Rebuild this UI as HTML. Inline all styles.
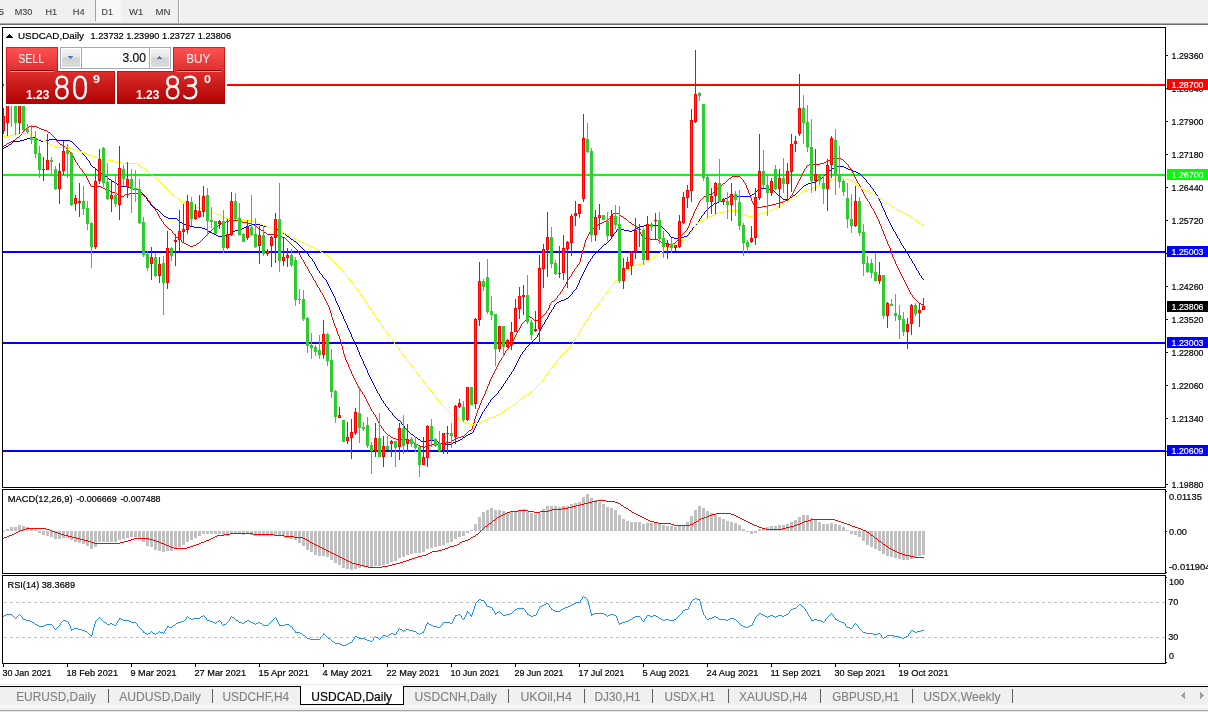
<!DOCTYPE html>
<html lang="en"><head><meta charset="utf-8"><title>USDCAD,Daily</title>
<style>
html,body{margin:0;padding:0;background:#fff;width:1208px;height:712px;overflow:hidden}
svg{display:block;font-family:"Liberation Sans","DejaVu Sans",sans-serif}
svg text{white-space:pre}
</style></head><body>
<svg width="1208" height="712" viewBox="0 0 1208 712" shape-rendering="crispEdges">
<defs><pattern id="dots" width="2" height="2" patternUnits="userSpaceOnUse"><rect width="2" height="2" fill="#f0f0f0"/><rect width="1" height="1" fill="#fff"/><rect x="1" y="1" width="1" height="1" fill="#fff"/></pattern></defs>
<rect x="0" y="0" width="1208" height="712" fill="#ffffff" />
<rect x="0" y="0" width="1208" height="23" fill="#f0f0f0" />
<rect x="0" y="23" width="1208" height="1" fill="#a8a8a8" />
<rect x="0" y="24" width="1208" height="1" fill="#6d6d6d" />
<rect x="96" y="0" width="25" height="22" fill="url(#dots)" />
<rect x="95" y="0" width="1" height="21" fill="#a0a0a0" />
<rect x="178" y="0" width="1" height="23" fill="#a0a0a0" />
<rect x="179" y="0" width="1" height="23" fill="#ffffff" />
<text x="-1.5" y="15" font-size="9.7" fill="#3c3c3c" textLength="5.5" lengthAdjust="spacingAndGlyphs"  stroke="#3c3c3c" stroke-width="0.1">5</text>
<text x="14.7" y="15" font-size="9.7" fill="#3c3c3c" textLength="17.6" lengthAdjust="spacingAndGlyphs"  stroke="#3c3c3c" stroke-width="0.1">M30</text>
<text x="45.5" y="15" font-size="9.7" fill="#3c3c3c" textLength="11.6" lengthAdjust="spacingAndGlyphs"  stroke="#3c3c3c" stroke-width="0.1">H1</text>
<text x="72.8" y="15" font-size="9.7" fill="#3c3c3c" textLength="11.9" lengthAdjust="spacingAndGlyphs"  stroke="#3c3c3c" stroke-width="0.1">H4</text>
<text x="101.5" y="15" font-size="9.7" fill="#3c3c3c" textLength="11.4" lengthAdjust="spacingAndGlyphs"  stroke="#3c3c3c" stroke-width="0.1">D1</text>
<text x="129" y="15" font-size="9.7" fill="#3c3c3c" textLength="14.2" lengthAdjust="spacingAndGlyphs"  stroke="#3c3c3c" stroke-width="0.1">W1</text>
<text x="155.6" y="15" font-size="9.7" fill="#3c3c3c" textLength="15" lengthAdjust="spacingAndGlyphs"  stroke="#3c3c3c" stroke-width="0.1">MN</text>
<rect x="2" y="27" width="1164" height="1" fill="#000" />
<rect x="2" y="487" width="1164" height="1" fill="#000" />
<rect x="2" y="27" width="1" height="461" fill="#000" />
<rect x="1165" y="27" width="1" height="461" fill="#000" />
<rect x="2" y="489" width="1164" height="1" fill="#000" />
<rect x="2" y="573" width="1164" height="1" fill="#000" />
<rect x="2" y="489" width="1" height="85" fill="#000" />
<rect x="1165" y="489" width="1" height="85" fill="#000" />
<rect x="2" y="575" width="1164" height="1" fill="#000" />
<rect x="2" y="663" width="1164" height="1" fill="#000" />
<rect x="2" y="575" width="1" height="89" fill="#000" />
<rect x="1165" y="575" width="1" height="89" fill="#000" />
<rect x="1166" y="55" width="2" height="1" fill="#000" />
<text x="1171.5" y="58.6" font-size="9.6" fill="#000" textLength="32" lengthAdjust="spacingAndGlyphs"  stroke="#000" stroke-width="0.2">1.29360</text>
<rect x="1166" y="88" width="2" height="1" fill="#000" />
<text x="1171.5" y="91.6" font-size="9.6" fill="#000" textLength="32" lengthAdjust="spacingAndGlyphs"  stroke="#000" stroke-width="0.2">1.28640</text>
<rect x="1166" y="121" width="2" height="1" fill="#000" />
<text x="1171.5" y="124.6" font-size="9.6" fill="#000" textLength="32" lengthAdjust="spacingAndGlyphs"  stroke="#000" stroke-width="0.2">1.27900</text>
<rect x="1166" y="154" width="2" height="1" fill="#000" />
<text x="1171.5" y="157.6" font-size="9.6" fill="#000" textLength="32" lengthAdjust="spacingAndGlyphs"  stroke="#000" stroke-width="0.2">1.27180</text>
<rect x="1166" y="187" width="2" height="1" fill="#000" />
<text x="1171.5" y="190.6" font-size="9.6" fill="#000" textLength="32" lengthAdjust="spacingAndGlyphs"  stroke="#000" stroke-width="0.2">1.26440</text>
<rect x="1166" y="220" width="2" height="1" fill="#000" />
<text x="1171.5" y="223.6" font-size="9.6" fill="#000" textLength="32" lengthAdjust="spacingAndGlyphs"  stroke="#000" stroke-width="0.2">1.25720</text>
<rect x="1166" y="253" width="2" height="1" fill="#000" />
<text x="1171.5" y="256.6" font-size="9.6" fill="#000" textLength="32" lengthAdjust="spacingAndGlyphs"  stroke="#000" stroke-width="0.2">1.24980</text>
<rect x="1166" y="286" width="2" height="1" fill="#000" />
<text x="1171.5" y="289.6" font-size="9.6" fill="#000" textLength="32" lengthAdjust="spacingAndGlyphs"  stroke="#000" stroke-width="0.2">1.24260</text>
<rect x="1166" y="319" width="2" height="1" fill="#000" />
<text x="1171.5" y="322.6" font-size="9.6" fill="#000" textLength="32" lengthAdjust="spacingAndGlyphs"  stroke="#000" stroke-width="0.2">1.23520</text>
<rect x="1166" y="352" width="2" height="1" fill="#000" />
<text x="1171.5" y="355.6" font-size="9.6" fill="#000" textLength="32" lengthAdjust="spacingAndGlyphs"  stroke="#000" stroke-width="0.2">1.22800</text>
<rect x="1166" y="385" width="2" height="1" fill="#000" />
<text x="1171.5" y="388.6" font-size="9.6" fill="#000" textLength="32" lengthAdjust="spacingAndGlyphs"  stroke="#000" stroke-width="0.2">1.22060</text>
<rect x="1166" y="418" width="2" height="1" fill="#000" />
<text x="1171.5" y="421.6" font-size="9.6" fill="#000" textLength="32" lengthAdjust="spacingAndGlyphs"  stroke="#000" stroke-width="0.2">1.21340</text>
<rect x="1166" y="451" width="2" height="1" fill="#000" />
<text x="1171.5" y="454.6" font-size="9.6" fill="#000" textLength="32" lengthAdjust="spacingAndGlyphs"  stroke="#000" stroke-width="0.2">1.20600</text>
<rect x="1166" y="484" width="2" height="1" fill="#000" />
<text x="1171.5" y="487.6" font-size="9.6" fill="#000" textLength="32" lengthAdjust="spacingAndGlyphs"  stroke="#000" stroke-width="0.2">1.19880</text>
<rect x="3" y="84" width="1162" height="2" fill="#ff0000" />
<rect x="1167" y="79" width="41" height="11" fill="#ff0000" />
<text x="1171.5" y="88" font-size="9.6" fill="#fff" textLength="32" lengthAdjust="spacingAndGlyphs"  stroke="#fff" stroke-width="0.2">1.28700</text>
<rect x="3" y="174" width="1162" height="2" fill="#00ff00" />
<rect x="1167" y="169" width="41" height="11" fill="#00ff00" />
<text x="1171.5" y="178" font-size="9.6" fill="#fff" textLength="32" lengthAdjust="spacingAndGlyphs"  stroke="#fff" stroke-width="0.2">1.26700</text>
<rect x="3" y="251" width="1162" height="2" fill="#0000ff" />
<rect x="1167" y="246" width="41" height="11" fill="#0000ff" />
<text x="1171.5" y="255" font-size="9.6" fill="#fff" textLength="32" lengthAdjust="spacingAndGlyphs"  stroke="#fff" stroke-width="0.2">1.25003</text>
<rect x="3" y="342" width="1162" height="2" fill="#0000ff" />
<rect x="1167" y="337" width="41" height="11" fill="#0000ff" />
<text x="1171.5" y="346" font-size="9.6" fill="#fff" textLength="32" lengthAdjust="spacingAndGlyphs"  stroke="#fff" stroke-width="0.2">1.23003</text>
<rect x="3" y="450" width="1162" height="2" fill="#0000ff" />
<rect x="1167" y="445" width="41" height="11" fill="#0000ff" />
<text x="1171.5" y="454" font-size="9.6" fill="#fff" textLength="32" lengthAdjust="spacingAndGlyphs"  stroke="#fff" stroke-width="0.2">1.20609</text>
<rect x="1167" y="301" width="41" height="11" fill="#000" />
<text x="1171.5" y="310" font-size="9.6" fill="#fff" textLength="32" lengthAdjust="spacingAndGlyphs"  stroke="#fff" stroke-width="0.2">1.23806</text>
<path d="M3 146h1v1h-1zM4 145h1v1h-1zM5 145h1v1h-1zM6 144h1v1h-1zM7 143h1v1h-1zM8 143h1v1h-1zM9 142h1v1h-1zM10 142h1v1h-1zM11 141h1v1h-1zM12 141h1v1h-1zM13 140h1v1h-1zM14 140h1v1h-1zM15 139h1v1h-1zM16 138h1v1h-1zM17 137h1v1h-1zM18 137h1v1h-1zM19 136h1v1h-1zM20 135h1v1h-1zM21 134h1v1h-1zM22 132h1v2h-1zM23 131h1v1h-1zM24 130h1v1h-1zM25 129h1v1h-1zM26 128h1v1h-1zM27 127h1v1h-1zM28 127h1v1h-1zM29 126h1v1h-1zM30 126h1v1h-1zM31 126h1v1h-1zM32 126h1v1h-1zM33 126h1v1h-1zM34 126h1v1h-1zM35 126h1v1h-1zM36 126h1v1h-1zM37 127h1v1h-1zM38 127h1v1h-1zM39 128h1v1h-1zM40 128h1v1h-1zM41 129h1v1h-1zM42 129h1v1h-1zM43 129h1v1h-1zM44 130h1v1h-1zM45 130h1v1h-1zM46 130h1v1h-1zM47 131h1v1h-1zM48 132h1v1h-1zM49 132h1v1h-1zM50 133h1v1h-1zM51 134h1v1h-1zM52 135h1v1h-1zM53 136h1v1h-1zM54 137h1v1h-1zM55 138h1v2h-1zM56 140h1v1h-1zM57 141h1v1h-1zM58 142h1v1h-1zM59 143h1v1h-1zM60 144h1v1h-1zM61 144h1v1h-1zM62 145h1v1h-1zM63 145h1v1h-1zM64 146h1v1h-1zM65 147h1v1h-1zM66 148h1v1h-1zM67 149h1v1h-1zM68 150h1v1h-1zM69 151h1v1h-1zM70 152h1v2h-1zM71 154h1v1h-1zM72 155h1v1h-1zM73 156h1v2h-1zM74 158h1v2h-1zM75 160h1v2h-1zM76 162h1v1h-1zM77 163h1v2h-1zM78 165h1v1h-1zM79 166h1v2h-1zM80 168h1v1h-1zM81 169h1v1h-1zM82 170h1v2h-1zM83 172h1v1h-1zM84 173h1v1h-1zM85 174h1v2h-1zM86 176h1v2h-1zM87 178h1v2h-1zM88 180h1v2h-1zM89 182h1v2h-1zM90 184h1v2h-1zM91 186h1v1h-1zM92 186h1v1h-1zM93 186h1v1h-1zM94 186h1v1h-1zM95 186h1v1h-1zM96 186h1v1h-1zM97 186h1v1h-1zM98 186h1v1h-1zM99 186h1v1h-1zM100 186h1v1h-1zM101 187h1v1h-1zM102 187h1v1h-1zM103 188h1v1h-1zM104 188h1v1h-1zM105 189h1v1h-1zM106 189h1v1h-1zM107 189h1v1h-1zM108 190h1v1h-1zM109 190h1v1h-1zM110 191h1v1h-1zM111 191h1v1h-1zM112 192h1v1h-1zM113 192h1v1h-1zM114 192h1v1h-1zM115 193h1v1h-1zM116 193h1v1h-1zM117 194h1v1h-1zM118 194h1v1h-1zM119 195h1v1h-1zM120 195h1v1h-1zM121 196h1v1h-1zM122 196h1v1h-1zM123 196h1v1h-1zM124 195h1v1h-1zM125 194h1v1h-1zM126 194h1v1h-1zM127 194h1v1h-1zM128 194h1v1h-1zM129 193h1v1h-1zM130 193h1v1h-1zM131 193h1v1h-1zM132 193h1v1h-1zM133 193h1v1h-1zM134 193h1v1h-1zM135 193h1v1h-1zM136 193h1v1h-1zM137 193h1v1h-1zM138 193h1v1h-1zM139 193h1v1h-1zM140 193h1v1h-1zM141 194h1v1h-1zM142 194h1v1h-1zM143 195h1v1h-1zM144 196h1v1h-1zM145 196h1v1h-1zM146 197h1v1h-1zM147 198h1v2h-1zM148 200h1v1h-1zM149 201h1v1h-1zM150 202h1v2h-1zM151 204h1v1h-1zM152 205h1v1h-1zM153 206h1v2h-1zM154 208h1v1h-1zM155 209h1v2h-1zM156 211h1v1h-1zM157 212h1v2h-1zM158 214h1v2h-1zM159 216h1v2h-1zM160 218h1v1h-1zM161 219h1v2h-1zM162 221h1v1h-1zM163 222h1v2h-1zM164 224h1v1h-1zM165 225h1v1h-1zM166 226h1v1h-1zM167 227h1v1h-1zM168 228h1v1h-1zM169 229h1v1h-1zM170 229h1v1h-1zM171 230h1v1h-1zM172 231h1v2h-1zM173 233h1v1h-1zM174 234h1v1h-1zM175 235h1v2h-1zM176 237h1v1h-1zM177 237h1v1h-1zM178 237h1v1h-1zM179 238h1v1h-1zM180 239h1v1h-1zM181 240h1v2h-1zM182 242h1v1h-1zM183 242h1v1h-1zM184 243h1v1h-1zM185 243h1v1h-1zM186 244h1v1h-1zM187 244h1v1h-1zM188 245h1v1h-1zM189 245h1v1h-1zM190 246h1v1h-1zM191 246h1v1h-1zM192 246h1v1h-1zM193 245h1v1h-1zM194 245h1v1h-1zM195 245h1v1h-1zM196 244h1v1h-1zM197 243h1v1h-1zM198 243h1v1h-1zM199 242h1v1h-1zM200 241h1v1h-1zM201 240h1v1h-1zM202 239h1v1h-1zM203 238h1v1h-1zM204 237h1v1h-1zM205 236h1v1h-1zM206 235h1v1h-1zM207 234h1v1h-1zM208 233h1v1h-1zM209 232h1v1h-1zM210 231h1v1h-1zM211 230h1v1h-1zM212 229h1v1h-1zM213 228h1v1h-1zM214 228h1v1h-1zM215 228h1v1h-1zM216 227h1v1h-1zM217 226h1v1h-1zM218 225h1v1h-1zM219 224h1v1h-1zM220 224h1v1h-1zM221 223h1v1h-1zM222 223h1v1h-1zM223 223h1v1h-1zM224 222h1v1h-1zM225 222h1v1h-1zM226 221h1v1h-1zM227 221h1v1h-1zM228 221h1v1h-1zM229 220h1v1h-1zM230 220h1v1h-1zM231 220h1v1h-1zM232 220h1v1h-1zM233 220h1v1h-1zM234 220h1v1h-1zM235 220h1v1h-1zM236 220h1v1h-1zM237 220h1v1h-1zM238 220h1v1h-1zM239 220h1v1h-1zM240 220h1v1h-1zM241 221h1v1h-1zM242 222h1v1h-1zM243 222h1v1h-1zM244 222h1v1h-1zM245 222h1v1h-1zM246 222h1v1h-1zM247 222h1v1h-1zM248 223h1v1h-1zM249 223h1v1h-1zM250 223h1v1h-1zM251 223h1v1h-1zM252 224h1v1h-1zM253 224h1v1h-1zM254 225h1v1h-1zM255 226h1v1h-1zM256 226h1v1h-1zM257 227h1v1h-1zM258 228h1v1h-1zM259 228h1v1h-1zM260 229h1v1h-1zM261 230h1v1h-1zM262 230h1v1h-1zM263 231h1v1h-1zM264 232h1v1h-1zM265 232h1v1h-1zM266 233h1v1h-1zM267 234h1v1h-1zM268 234h1v1h-1zM269 234h1v1h-1zM270 234h1v1h-1zM271 234h1v1h-1zM272 234h1v1h-1zM273 234h1v1h-1zM274 234h1v1h-1zM275 234h1v1h-1zM276 234h1v1h-1zM277 235h1v1h-1zM278 235h1v1h-1zM279 236h1v1h-1zM280 236h1v1h-1zM281 236h1v1h-1zM282 237h1v1h-1zM283 237h1v1h-1zM284 237h1v1h-1zM285 238h1v1h-1zM286 239h1v1h-1zM287 240h1v1h-1zM288 241h1v1h-1zM289 242h1v1h-1zM290 243h1v1h-1zM291 244h1v1h-1zM292 245h1v1h-1zM293 246h1v1h-1zM294 247h1v1h-1zM295 248h1v1h-1zM296 249h1v1h-1zM297 250h1v1h-1zM298 251h1v2h-1zM299 253h1v2h-1zM300 255h1v2h-1zM301 257h1v2h-1zM302 259h1v1h-1zM303 260h1v2h-1zM304 262h1v2h-1zM305 264h1v2h-1zM306 266h1v1h-1zM307 267h1v2h-1zM308 269h1v2h-1zM309 271h1v2h-1zM310 273h1v1h-1zM311 274h1v2h-1zM312 276h1v2h-1zM313 278h1v2h-1zM314 280h1v1h-1zM315 281h1v2h-1zM316 283h1v2h-1zM317 285h1v2h-1zM318 287h1v1h-1zM319 288h1v2h-1zM320 290h1v2h-1zM321 292h1v1h-1zM322 293h1v2h-1zM323 295h1v2h-1zM324 297h1v2h-1zM325 299h1v2h-1zM326 301h1v2h-1zM327 303h1v2h-1zM328 305h1v2h-1zM329 307h1v3h-1zM330 310h1v3h-1zM331 313h1v4h-1zM332 317h1v3h-1zM333 320h1v3h-1zM334 323h1v3h-1zM335 326h1v2h-1zM336 328h1v3h-1zM337 331h1v3h-1zM338 334h1v2h-1zM339 336h1v3h-1zM340 339h1v3h-1zM341 342h1v4h-1zM342 346h1v4h-1zM343 350h1v4h-1zM344 354h1v3h-1zM345 357h1v3h-1zM346 360h1v2h-1zM347 362h1v2h-1zM348 364h1v3h-1zM349 367h1v2h-1zM350 369h1v2h-1zM351 371h1v3h-1zM352 374h1v2h-1zM353 376h1v2h-1zM354 378h1v2h-1zM355 380h1v2h-1zM356 382h1v2h-1zM357 384h1v2h-1zM358 386h1v2h-1zM359 388h1v1h-1zM360 389h1v2h-1zM361 391h1v1h-1zM362 392h1v2h-1zM363 394h1v1h-1zM364 395h1v2h-1zM365 397h1v2h-1zM366 399h1v2h-1zM367 401h1v2h-1zM368 403h1v2h-1zM369 405h1v2h-1zM370 407h1v2h-1zM371 409h1v2h-1zM372 411h1v1h-1zM373 412h1v2h-1zM374 414h1v1h-1zM375 415h1v2h-1zM376 417h1v2h-1zM377 419h1v2h-1zM378 421h1v2h-1zM379 423h1v2h-1zM380 425h1v1h-1zM381 426h1v2h-1zM382 428h1v1h-1zM383 429h1v2h-1zM384 431h1v1h-1zM385 432h1v1h-1zM386 433h1v1h-1zM387 434h1v1h-1zM388 435h1v1h-1zM389 435h1v1h-1zM390 436h1v1h-1zM391 437h1v1h-1zM392 437h1v1h-1zM393 438h1v1h-1zM394 438h1v1h-1zM395 438h1v1h-1zM396 439h1v1h-1zM397 439h1v1h-1zM398 439h1v1h-1zM399 439h1v1h-1zM400 439h1v1h-1zM401 439h1v1h-1zM402 439h1v1h-1zM403 439h1v1h-1zM404 439h1v1h-1zM405 439h1v1h-1zM406 439h1v1h-1zM407 439h1v1h-1zM408 439h1v1h-1zM409 440h1v1h-1zM410 441h1v1h-1zM411 441h1v1h-1zM412 442h1v1h-1zM413 442h1v1h-1zM414 443h1v1h-1zM415 443h1v1h-1zM416 444h1v1h-1zM417 444h1v1h-1zM418 445h1v1h-1zM419 445h1v1h-1zM420 446h1v1h-1zM421 446h1v1h-1zM422 446h1v1h-1zM423 447h1v1h-1zM424 447h1v1h-1zM425 446h1v1h-1zM426 446h1v1h-1zM427 445h1v1h-1zM428 445h1v1h-1zM429 445h1v1h-1zM430 445h1v1h-1zM431 445h1v1h-1zM432 444h1v1h-1zM433 444h1v1h-1zM434 444h1v1h-1zM435 444h1v1h-1zM436 444h1v1h-1zM437 444h1v1h-1zM438 443h1v1h-1zM439 443h1v1h-1zM440 443h1v1h-1zM441 443h1v1h-1zM442 443h1v1h-1zM443 443h1v1h-1zM444 443h1v1h-1zM445 443h1v1h-1zM446 442h1v1h-1zM447 442h1v1h-1zM448 442h1v1h-1zM449 442h1v1h-1zM450 442h1v1h-1zM451 441h1v1h-1zM452 440h1v1h-1zM453 440h1v1h-1zM454 439h1v1h-1zM455 439h1v1h-1zM456 438h1v1h-1zM457 438h1v1h-1zM458 437h1v1h-1zM459 437h1v1h-1zM460 437h1v1h-1zM461 436h1v1h-1zM462 436h1v1h-1zM463 436h1v1h-1zM464 435h1v1h-1zM465 434h1v1h-1zM466 433h1v1h-1zM467 432h1v1h-1zM468 431h1v1h-1zM469 430h1v1h-1zM470 430h1v1h-1zM471 429h1v1h-1zM472 426h1v3h-1zM473 423h1v3h-1zM474 419h1v4h-1zM475 416h1v3h-1zM476 413h1v3h-1zM477 410h1v3h-1zM478 408h1v2h-1zM479 405h1v3h-1zM480 403h1v2h-1zM481 400h1v3h-1zM482 398h1v2h-1zM483 396h1v2h-1zM484 394h1v2h-1zM485 391h1v3h-1zM486 389h1v2h-1zM487 386h1v3h-1zM488 384h1v2h-1zM489 381h1v3h-1zM490 379h1v2h-1zM491 377h1v2h-1zM492 375h1v2h-1zM493 373h1v2h-1zM494 371h1v2h-1zM495 369h1v2h-1zM496 367h1v2h-1zM497 365h1v2h-1zM498 363h1v2h-1zM499 361h1v2h-1zM500 360h1v1h-1zM501 358h1v2h-1zM502 357h1v1h-1zM503 355h1v2h-1zM504 353h1v2h-1zM505 351h1v2h-1zM506 350h1v1h-1zM507 349h1v1h-1zM508 347h1v2h-1zM509 346h1v1h-1zM510 345h1v1h-1zM511 343h1v2h-1zM512 341h1v2h-1zM513 339h1v2h-1zM514 337h1v2h-1zM515 335h1v2h-1zM516 333h1v2h-1zM517 331h1v2h-1zM518 330h1v1h-1zM519 328h1v2h-1zM520 326h1v2h-1zM521 324h1v2h-1zM522 323h1v1h-1zM523 322h1v1h-1zM524 321h1v1h-1zM525 320h1v1h-1zM526 319h1v1h-1zM527 318h1v1h-1zM528 316h1v2h-1zM529 316h1v1h-1zM530 317h1v1h-1zM531 317h1v1h-1zM532 318h1v1h-1zM533 319h1v1h-1zM534 320h1v1h-1zM535 320h1v1h-1zM536 320h1v1h-1zM537 320h1v1h-1zM538 320h1v1h-1zM539 319h1v1h-1zM540 318h1v1h-1zM541 317h1v1h-1zM542 316h1v1h-1zM543 315h1v1h-1zM544 314h1v1h-1zM545 313h1v1h-1zM546 311h1v2h-1zM547 310h1v1h-1zM548 308h1v2h-1zM549 305h1v3h-1zM550 303h1v2h-1zM551 302h1v1h-1zM552 301h1v1h-1zM553 301h1v1h-1zM554 300h1v1h-1zM555 299h1v1h-1zM556 298h1v1h-1zM557 296h1v2h-1zM558 295h1v1h-1zM559 294h1v1h-1zM560 292h1v2h-1zM561 291h1v1h-1zM562 289h1v2h-1zM563 287h1v2h-1zM564 286h1v1h-1zM565 284h1v2h-1zM566 282h1v2h-1zM567 280h1v2h-1zM568 279h1v1h-1zM569 277h1v2h-1zM570 276h1v1h-1zM571 274h1v2h-1zM572 272h1v2h-1zM573 271h1v1h-1zM574 269h1v2h-1zM575 268h1v1h-1zM576 267h1v1h-1zM577 265h1v2h-1zM578 264h1v1h-1zM579 262h1v2h-1zM580 258h1v4h-1zM581 254h1v4h-1zM582 250h1v4h-1zM583 247h1v3h-1zM584 243h1v4h-1zM585 240h1v3h-1zM586 238h1v2h-1zM587 236h1v2h-1zM588 234h1v2h-1zM589 232h1v2h-1zM590 231h1v1h-1zM591 230h1v1h-1zM592 229h1v1h-1zM593 228h1v1h-1zM594 227h1v1h-1zM595 226h1v1h-1zM596 226h1v1h-1zM597 225h1v1h-1zM598 224h1v1h-1zM599 223h1v1h-1zM600 223h1v1h-1zM601 223h1v1h-1zM602 222h1v1h-1zM603 222h1v1h-1zM604 221h1v1h-1zM605 221h1v1h-1zM606 220h1v1h-1zM607 220h1v1h-1zM608 219h1v1h-1zM609 218h1v1h-1zM610 217h1v1h-1zM611 216h1v1h-1zM612 214h1v2h-1zM613 213h1v1h-1zM614 213h1v1h-1zM615 213h1v1h-1zM616 213h1v1h-1zM617 213h1v1h-1zM618 213h1v1h-1zM619 214h1v1h-1zM620 215h1v1h-1zM621 216h1v1h-1zM622 216h1v1h-1zM623 217h1v1h-1zM624 218h1v1h-1zM625 218h1v1h-1zM626 219h1v1h-1zM627 220h1v1h-1zM628 221h1v1h-1zM629 222h1v1h-1zM630 222h1v1h-1zM631 223h1v1h-1zM632 224h1v1h-1zM633 224h1v1h-1zM634 225h1v1h-1zM635 225h1v1h-1zM636 226h1v1h-1zM637 227h1v2h-1zM638 229h1v1h-1zM639 230h1v2h-1zM640 232h1v2h-1zM641 234h1v2h-1zM642 236h1v2h-1zM643 237h1v1h-1zM644 238h1v1h-1zM645 238h1v1h-1zM646 238h1v1h-1zM647 238h1v1h-1zM648 238h1v1h-1zM649 238h1v1h-1zM650 239h1v1h-1zM651 239h1v1h-1zM652 239h1v1h-1zM653 239h1v1h-1zM654 239h1v1h-1zM655 239h1v1h-1zM656 239h1v1h-1zM657 239h1v1h-1zM658 240h1v1h-1zM659 241h1v1h-1zM660 241h1v1h-1zM661 242h1v1h-1zM662 242h1v1h-1zM663 242h1v1h-1zM664 243h1v1h-1zM665 243h1v1h-1zM666 243h1v1h-1zM667 243h1v1h-1zM668 244h1v1h-1zM669 244h1v1h-1zM670 244h1v1h-1zM671 244h1v1h-1zM672 244h1v1h-1zM673 243h1v1h-1zM674 243h1v1h-1zM675 242h1v1h-1zM676 241h1v1h-1zM677 240h1v1h-1zM678 239h1v1h-1zM679 238h1v1h-1zM680 236h1v2h-1zM681 235h1v1h-1zM682 234h1v1h-1zM683 233h1v1h-1zM684 232h1v1h-1zM685 231h1v1h-1zM686 230h1v1h-1zM687 228h1v2h-1zM688 226h1v2h-1zM689 223h1v3h-1zM690 220h1v3h-1zM691 218h1v2h-1zM692 216h1v2h-1zM693 213h1v3h-1zM694 211h1v2h-1zM695 209h1v2h-1zM696 207h1v2h-1zM697 205h1v2h-1zM698 203h1v2h-1zM699 201h1v2h-1zM700 200h1v1h-1zM701 199h1v1h-1zM702 198h1v1h-1zM703 197h1v1h-1zM704 196h1v1h-1zM705 196h1v1h-1zM706 196h1v1h-1zM707 195h1v1h-1zM708 195h1v1h-1zM709 194h1v1h-1zM710 194h1v1h-1zM711 194h1v1h-1zM712 193h1v1h-1zM713 192h1v1h-1zM714 191h1v1h-1zM715 190h1v1h-1zM716 189h1v1h-1zM717 188h1v1h-1zM718 187h1v1h-1zM719 186h1v1h-1zM720 186h1v1h-1zM721 185h1v1h-1zM722 184h1v1h-1zM723 183h1v1h-1zM724 183h1v1h-1zM725 182h1v1h-1zM726 181h1v1h-1zM727 180h1v1h-1zM728 179h1v1h-1zM729 178h1v1h-1zM730 178h1v1h-1zM731 177h1v1h-1zM732 176h1v1h-1zM733 176h1v1h-1zM734 176h1v1h-1zM735 176h1v1h-1zM736 176h1v1h-1zM737 176h1v1h-1zM738 176h1v1h-1zM739 176h1v1h-1zM740 177h1v1h-1zM741 178h1v1h-1zM742 179h1v1h-1zM743 180h1v2h-1zM744 182h1v1h-1zM745 183h1v2h-1zM746 185h1v3h-1zM747 188h1v2h-1zM748 190h1v3h-1zM749 193h1v2h-1zM750 195h1v3h-1zM751 198h1v3h-1zM752 201h1v2h-1zM753 203h1v2h-1zM754 205h1v1h-1zM755 206h1v1h-1zM756 207h1v1h-1zM757 207h1v1h-1zM758 207h1v1h-1zM759 207h1v1h-1zM760 207h1v1h-1zM761 207h1v1h-1zM762 206h1v1h-1zM763 206h1v1h-1zM764 206h1v1h-1zM765 206h1v1h-1zM766 206h1v1h-1zM767 206h1v1h-1zM768 205h1v1h-1zM769 205h1v1h-1zM770 205h1v1h-1zM771 205h1v1h-1zM772 204h1v1h-1zM773 204h1v1h-1zM774 204h1v1h-1zM775 204h1v1h-1zM776 203h1v1h-1zM777 203h1v1h-1zM778 203h1v1h-1zM779 203h1v1h-1zM780 202h1v1h-1zM781 202h1v1h-1zM782 202h1v1h-1zM783 201h1v1h-1zM784 201h1v1h-1zM785 200h1v1h-1zM786 200h1v1h-1zM787 200h1v1h-1zM788 199h1v1h-1zM789 198h1v1h-1zM790 196h1v2h-1zM791 195h1v1h-1zM792 193h1v2h-1zM793 191h1v2h-1zM794 189h1v2h-1zM795 187h1v2h-1zM796 185h1v2h-1zM797 183h1v2h-1zM798 181h1v2h-1zM799 179h1v2h-1zM800 177h1v2h-1zM801 175h1v2h-1zM802 173h1v2h-1zM803 171h1v2h-1zM804 169h1v2h-1zM805 168h1v1h-1zM806 166h1v2h-1zM807 165h1v1h-1zM808 165h1v1h-1zM809 164h1v1h-1zM810 164h1v1h-1zM811 164h1v1h-1zM812 164h1v1h-1zM813 164h1v1h-1zM814 164h1v1h-1zM815 164h1v1h-1zM816 164h1v1h-1zM817 164h1v1h-1zM818 164h1v1h-1zM819 164h1v1h-1zM820 163h1v1h-1zM821 163h1v1h-1zM822 163h1v1h-1zM823 163h1v1h-1zM824 162h1v1h-1zM825 162h1v1h-1zM826 161h1v1h-1zM827 161h1v1h-1zM828 160h1v1h-1zM829 160h1v1h-1zM830 159h1v1h-1zM831 159h1v1h-1zM832 158h1v1h-1zM833 158h1v1h-1zM834 158h1v1h-1zM835 158h1v1h-1zM836 158h1v1h-1zM837 158h1v1h-1zM838 158h1v1h-1zM839 158h1v1h-1zM840 158h1v1h-1zM841 159h1v1h-1zM842 159h1v1h-1zM843 160h1v1h-1zM844 161h1v1h-1zM845 162h1v1h-1zM846 163h1v1h-1zM847 164h1v1h-1zM848 165h1v2h-1zM849 167h1v1h-1zM850 168h1v1h-1zM851 169h1v2h-1zM852 171h1v2h-1zM853 173h1v2h-1zM854 175h1v2h-1zM855 177h1v2h-1zM856 179h1v2h-1zM857 181h1v2h-1zM858 183h1v1h-1zM859 184h1v2h-1zM860 186h1v2h-1zM861 188h1v2h-1zM862 190h1v2h-1zM863 192h1v2h-1zM864 194h1v2h-1zM865 196h1v2h-1zM866 198h1v1h-1zM867 199h1v2h-1zM868 201h1v1h-1zM869 202h1v2h-1zM870 204h1v2h-1zM871 206h1v2h-1zM872 208h1v1h-1zM873 209h1v2h-1zM874 211h1v2h-1zM875 213h1v2h-1zM876 215h1v2h-1zM877 217h1v2h-1zM878 219h1v2h-1zM879 221h1v3h-1zM880 224h1v2h-1zM881 226h1v3h-1zM882 229h1v2h-1zM883 231h1v3h-1zM884 234h1v2h-1zM885 236h1v3h-1zM886 239h1v2h-1zM887 241h1v3h-1zM888 244h1v2h-1zM889 246h1v2h-1zM890 248h1v3h-1zM891 251h1v3h-1zM892 254h1v3h-1zM893 257h1v2h-1zM894 259h1v2h-1zM895 261h1v3h-1zM896 264h1v2h-1zM897 266h1v2h-1zM898 268h1v2h-1zM899 270h1v2h-1zM900 272h1v2h-1zM901 274h1v2h-1zM902 276h1v2h-1zM903 278h1v2h-1zM904 280h1v2h-1zM905 282h1v2h-1zM906 284h1v2h-1zM907 286h1v2h-1zM908 288h1v2h-1zM909 290h1v2h-1zM910 292h1v2h-1zM911 294h1v1h-1zM912 295h1v2h-1zM913 297h1v1h-1zM914 298h1v1h-1zM915 299h1v1h-1zM916 300h1v1h-1zM917 301h1v1h-1zM918 302h1v1h-1zM919 303h1v1h-1zM920 303h1v1h-1zM921 304h1v1h-1zM922 304h1v1h-1zM923 304h1v1h-1z" fill="#ff0000"/>
<path d="M3 148h1v1h-1zM4 147h1v1h-1zM5 147h1v1h-1zM6 146h1v1h-1zM7 146h1v1h-1zM8 145h1v1h-1zM9 144h1v1h-1zM10 144h1v1h-1zM11 143h1v1h-1zM12 142h1v1h-1zM13 141h1v1h-1zM14 141h1v1h-1zM15 141h1v1h-1zM16 141h1v1h-1zM17 141h1v1h-1zM18 141h1v1h-1zM19 141h1v1h-1zM20 140h1v1h-1zM21 140h1v1h-1zM22 140h1v1h-1zM23 140h1v1h-1zM24 139h1v1h-1zM25 139h1v1h-1zM26 139h1v1h-1zM27 138h1v1h-1zM28 138h1v1h-1zM29 138h1v1h-1zM30 137h1v1h-1zM31 137h1v1h-1zM32 137h1v1h-1zM33 137h1v1h-1zM34 137h1v1h-1zM35 138h1v1h-1zM36 138h1v1h-1zM37 139h1v1h-1zM38 139h1v1h-1zM39 140h1v1h-1zM40 140h1v1h-1zM41 141h1v1h-1zM42 141h1v1h-1zM43 141h1v1h-1zM44 141h1v1h-1zM45 141h1v1h-1zM46 140h1v1h-1zM47 140h1v1h-1zM48 140h1v1h-1zM49 139h1v1h-1zM50 139h1v1h-1zM51 139h1v1h-1zM52 139h1v1h-1zM53 139h1v1h-1zM54 139h1v1h-1zM55 139h1v1h-1zM56 139h1v1h-1zM57 140h1v1h-1zM58 140h1v1h-1zM59 140h1v1h-1zM60 140h1v1h-1zM61 140h1v1h-1zM62 140h1v1h-1zM63 140h1v1h-1zM64 140h1v1h-1zM65 140h1v1h-1zM66 140h1v1h-1zM67 140h1v1h-1zM68 140h1v1h-1zM69 140h1v1h-1zM70 141h1v1h-1zM71 141h1v1h-1zM72 142h1v1h-1zM73 143h1v1h-1zM74 144h1v1h-1zM75 145h1v1h-1zM76 146h1v1h-1zM77 147h1v1h-1zM78 148h1v1h-1zM79 149h1v1h-1zM80 150h1v1h-1zM81 151h1v1h-1zM82 152h1v2h-1zM83 154h1v1h-1zM84 155h1v1h-1zM85 156h1v1h-1zM86 157h1v2h-1zM87 159h1v1h-1zM88 160h1v1h-1zM89 161h1v2h-1zM90 163h1v2h-1zM91 165h1v1h-1zM92 166h1v1h-1zM93 167h1v1h-1zM94 167h1v1h-1zM95 168h1v1h-1zM96 169h1v1h-1zM97 170h1v1h-1zM98 170h1v1h-1zM99 171h1v1h-1zM100 172h1v1h-1zM101 173h1v1h-1zM102 173h1v1h-1zM103 174h1v1h-1zM104 175h1v1h-1zM105 176h1v1h-1zM106 176h1v1h-1zM107 177h1v1h-1zM108 178h1v1h-1zM109 179h1v1h-1zM110 179h1v1h-1zM111 180h1v1h-1zM112 181h1v1h-1zM113 181h1v1h-1zM114 182h1v1h-1zM115 183h1v1h-1zM116 183h1v1h-1zM117 184h1v1h-1zM118 184h1v1h-1zM119 184h1v1h-1zM120 185h1v1h-1zM121 186h1v1h-1zM122 186h1v1h-1zM123 186h1v1h-1zM124 186h1v1h-1zM125 186h1v1h-1zM126 186h1v1h-1zM127 187h1v1h-1zM128 187h1v1h-1zM129 187h1v1h-1zM130 188h1v1h-1zM131 188h1v1h-1zM132 188h1v1h-1zM133 189h1v1h-1zM134 189h1v1h-1zM135 189h1v1h-1zM136 189h1v1h-1zM137 189h1v1h-1zM138 189h1v1h-1zM139 190h1v1h-1zM140 191h1v1h-1zM141 192h1v1h-1zM142 193h1v1h-1zM143 194h1v1h-1zM144 195h1v1h-1zM145 196h1v1h-1zM146 197h1v2h-1zM147 199h1v2h-1zM148 201h1v1h-1zM149 202h1v1h-1zM150 203h1v2h-1zM151 205h1v1h-1zM152 206h1v1h-1zM153 207h1v1h-1zM154 207h1v1h-1zM155 208h1v1h-1zM156 209h1v1h-1zM157 209h1v1h-1zM158 210h1v1h-1zM159 211h1v1h-1zM160 212h1v1h-1zM161 213h1v1h-1zM162 214h1v1h-1zM163 215h1v1h-1zM164 216h1v1h-1zM165 216h1v1h-1zM166 217h1v1h-1zM167 217h1v1h-1zM168 218h1v1h-1zM169 218h1v1h-1zM170 218h1v1h-1zM171 218h1v1h-1zM172 218h1v1h-1zM173 218h1v1h-1zM174 218h1v1h-1zM175 218h1v1h-1zM176 218h1v1h-1zM177 219h1v1h-1zM178 220h1v1h-1zM179 221h1v1h-1zM180 222h1v1h-1zM181 222h1v1h-1zM182 223h1v1h-1zM183 224h1v1h-1zM184 224h1v1h-1zM185 224h1v1h-1zM186 225h1v1h-1zM187 225h1v1h-1zM188 225h1v1h-1zM189 225h1v1h-1zM190 226h1v1h-1zM191 226h1v1h-1zM192 226h1v1h-1zM193 226h1v1h-1zM194 227h1v1h-1zM195 227h1v1h-1zM196 227h1v1h-1zM197 227h1v1h-1zM198 227h1v1h-1zM199 227h1v1h-1zM200 227h1v1h-1zM201 227h1v1h-1zM202 228h1v1h-1zM203 228h1v1h-1zM204 228h1v1h-1zM205 229h1v1h-1zM206 229h1v1h-1zM207 230h1v1h-1zM208 231h1v1h-1zM209 231h1v1h-1zM210 232h1v1h-1zM211 232h1v1h-1zM212 233h1v1h-1zM213 233h1v1h-1zM214 234h1v1h-1zM215 234h1v1h-1zM216 235h1v1h-1zM217 235h1v1h-1zM218 236h1v1h-1zM219 236h1v1h-1zM220 236h1v1h-1zM221 236h1v1h-1zM222 236h1v1h-1zM223 236h1v1h-1zM224 235h1v1h-1zM225 235h1v1h-1zM226 235h1v1h-1zM227 234h1v1h-1zM228 234h1v1h-1zM229 234h1v1h-1zM230 233h1v1h-1zM231 233h1v1h-1zM232 232h1v1h-1zM233 231h1v1h-1zM234 231h1v1h-1zM235 230h1v1h-1zM236 230h1v1h-1zM237 230h1v1h-1zM238 229h1v1h-1zM239 229h1v1h-1zM240 229h1v1h-1zM241 229h1v1h-1zM242 228h1v1h-1zM243 228h1v1h-1zM244 227h1v1h-1zM245 227h1v1h-1zM246 226h1v1h-1zM247 226h1v1h-1zM248 226h1v1h-1zM249 225h1v1h-1zM250 225h1v1h-1zM251 225h1v1h-1zM252 224h1v1h-1zM253 224h1v1h-1zM254 224h1v1h-1zM255 224h1v1h-1zM256 224h1v1h-1zM257 224h1v1h-1zM258 224h1v1h-1zM259 224h1v1h-1zM260 225h1v1h-1zM261 225h1v1h-1zM262 225h1v1h-1zM263 225h1v1h-1zM264 226h1v1h-1zM265 226h1v1h-1zM266 226h1v1h-1zM267 226h1v1h-1zM268 227h1v1h-1zM269 227h1v1h-1zM270 227h1v1h-1zM271 228h1v1h-1zM272 228h1v1h-1zM273 228h1v1h-1zM274 229h1v1h-1zM275 229h1v1h-1zM276 229h1v1h-1zM277 229h1v1h-1zM278 230h1v1h-1zM279 230h1v1h-1zM280 231h1v1h-1zM281 231h1v1h-1zM282 232h1v1h-1zM283 233h1v1h-1zM284 233h1v1h-1zM285 234h1v1h-1zM286 235h1v1h-1zM287 236h1v1h-1zM288 236h1v1h-1zM289 237h1v1h-1zM290 238h1v1h-1zM291 239h1v1h-1zM292 239h1v1h-1zM293 240h1v1h-1zM294 241h1v1h-1zM295 241h1v1h-1zM296 242h1v1h-1zM297 243h1v1h-1zM298 244h1v1h-1zM299 245h1v1h-1zM300 246h1v1h-1zM301 247h1v1h-1zM302 248h1v1h-1zM303 249h1v1h-1zM304 250h1v1h-1zM305 251h1v1h-1zM306 252h1v1h-1zM307 253h1v1h-1zM308 254h1v2h-1zM309 256h1v1h-1zM310 257h1v1h-1zM311 258h1v1h-1zM312 259h1v2h-1zM313 261h1v1h-1zM314 262h1v2h-1zM315 264h1v2h-1zM316 266h1v2h-1zM317 268h1v2h-1zM318 270h1v1h-1zM319 271h1v2h-1zM320 273h1v1h-1zM321 274h1v1h-1zM322 275h1v2h-1zM323 277h1v1h-1zM324 278h1v1h-1zM325 279h1v1h-1zM326 280h1v2h-1zM327 282h1v2h-1zM328 284h1v2h-1zM329 286h1v2h-1zM330 288h1v2h-1zM331 290h1v2h-1zM332 292h1v2h-1zM333 294h1v2h-1zM334 296h1v2h-1zM335 298h1v3h-1zM336 301h1v2h-1zM337 303h1v2h-1zM338 305h1v2h-1zM339 307h1v3h-1zM340 310h1v2h-1zM341 312h1v2h-1zM342 314h1v2h-1zM343 316h1v3h-1zM344 319h1v2h-1zM345 321h1v2h-1zM346 323h1v2h-1zM347 325h1v3h-1zM348 328h1v2h-1zM349 330h1v2h-1zM350 332h1v2h-1zM351 334h1v3h-1zM352 337h1v2h-1zM353 339h1v2h-1zM354 341h1v2h-1zM355 343h1v2h-1zM356 345h1v2h-1zM357 347h1v3h-1zM358 350h1v2h-1zM359 352h1v3h-1zM360 355h1v2h-1zM361 357h1v2h-1zM362 359h1v2h-1zM363 361h1v3h-1zM364 364h1v2h-1zM365 366h1v2h-1zM366 368h1v2h-1zM367 370h1v3h-1zM368 373h1v2h-1zM369 375h1v2h-1zM370 377h1v2h-1zM371 379h1v2h-1zM372 381h1v2h-1zM373 383h1v2h-1zM374 385h1v2h-1zM375 387h1v2h-1zM376 389h1v2h-1zM377 391h1v2h-1zM378 393h1v1h-1zM379 394h1v2h-1zM380 396h1v2h-1zM381 398h1v2h-1zM382 400h1v1h-1zM383 401h1v2h-1zM384 403h1v1h-1zM385 404h1v2h-1zM386 406h1v1h-1zM387 407h1v1h-1zM388 408h1v2h-1zM389 410h1v1h-1zM390 411h1v1h-1zM391 412h1v1h-1zM392 413h1v2h-1zM393 415h1v1h-1zM394 416h1v1h-1zM395 417h1v1h-1zM396 418h1v1h-1zM397 419h1v1h-1zM398 420h1v1h-1zM399 420h1v1h-1zM400 421h1v1h-1zM401 422h1v2h-1zM402 424h1v1h-1zM403 425h1v1h-1zM404 426h1v2h-1zM405 428h1v1h-1zM406 429h1v1h-1zM407 430h1v1h-1zM408 431h1v1h-1zM409 432h1v1h-1zM410 433h1v1h-1zM411 434h1v1h-1zM412 434h1v1h-1zM413 435h1v1h-1zM414 436h1v1h-1zM415 437h1v1h-1zM416 437h1v1h-1zM417 438h1v1h-1zM418 439h1v1h-1zM419 439h1v1h-1zM420 440h1v1h-1zM421 441h1v1h-1zM422 441h1v1h-1zM423 441h1v1h-1zM424 441h1v1h-1zM425 441h1v1h-1zM426 440h1v1h-1zM427 440h1v1h-1zM428 440h1v1h-1zM429 440h1v1h-1zM430 440h1v1h-1zM431 440h1v1h-1zM432 440h1v1h-1zM433 440h1v1h-1zM434 440h1v1h-1zM435 440h1v1h-1zM436 441h1v1h-1zM437 441h1v1h-1zM438 442h1v1h-1zM439 442h1v1h-1zM440 443h1v1h-1zM441 443h1v1h-1zM442 443h1v1h-1zM443 444h1v1h-1zM444 444h1v1h-1zM445 444h1v1h-1zM446 444h1v1h-1zM447 444h1v1h-1zM448 444h1v1h-1zM449 444h1v1h-1zM450 444h1v1h-1zM451 443h1v1h-1zM452 443h1v1h-1zM453 442h1v1h-1zM454 442h1v1h-1zM455 442h1v1h-1zM456 441h1v1h-1zM457 441h1v1h-1zM458 440h1v1h-1zM459 440h1v1h-1zM460 439h1v1h-1zM461 439h1v1h-1zM462 438h1v1h-1zM463 437h1v1h-1zM464 437h1v1h-1zM465 436h1v1h-1zM466 435h1v1h-1zM467 435h1v1h-1zM468 434h1v1h-1zM469 434h1v1h-1zM470 433h1v1h-1zM471 433h1v1h-1zM472 432h1v1h-1zM473 430h1v2h-1zM474 428h1v2h-1zM475 426h1v2h-1zM476 424h1v2h-1zM477 422h1v2h-1zM478 420h1v2h-1zM479 418h1v2h-1zM480 416h1v2h-1zM481 414h1v2h-1zM482 412h1v2h-1zM483 411h1v1h-1zM484 409h1v2h-1zM485 408h1v1h-1zM486 406h1v2h-1zM487 405h1v1h-1zM488 403h1v2h-1zM489 402h1v1h-1zM490 400h1v2h-1zM491 399h1v1h-1zM492 398h1v1h-1zM493 397h1v1h-1zM494 396h1v1h-1zM495 395h1v1h-1zM496 394h1v1h-1zM497 393h1v1h-1zM498 391h1v2h-1zM499 390h1v1h-1zM500 389h1v1h-1zM501 387h1v2h-1zM502 386h1v1h-1zM503 384h1v2h-1zM504 383h1v1h-1zM505 381h1v2h-1zM506 380h1v1h-1zM507 378h1v2h-1zM508 377h1v1h-1zM509 375h1v2h-1zM510 374h1v1h-1zM511 372h1v2h-1zM512 371h1v1h-1zM513 369h1v2h-1zM514 367h1v2h-1zM515 365h1v2h-1zM516 363h1v2h-1zM517 361h1v2h-1zM518 359h1v2h-1zM519 357h1v2h-1zM520 355h1v2h-1zM521 354h1v1h-1zM522 352h1v2h-1zM523 351h1v1h-1zM524 350h1v1h-1zM525 348h1v2h-1zM526 347h1v1h-1zM527 346h1v1h-1zM528 345h1v1h-1zM529 344h1v1h-1zM530 343h1v1h-1zM531 342h1v1h-1zM532 341h1v1h-1zM533 340h1v1h-1zM534 339h1v1h-1zM535 338h1v1h-1zM536 337h1v1h-1zM537 335h1v2h-1zM538 333h1v2h-1zM539 331h1v2h-1zM540 329h1v2h-1zM541 327h1v2h-1zM542 325h1v2h-1zM543 324h1v1h-1zM544 322h1v2h-1zM545 320h1v2h-1zM546 319h1v1h-1zM547 317h1v2h-1zM548 315h1v2h-1zM549 313h1v2h-1zM550 312h1v1h-1zM551 310h1v2h-1zM552 309h1v1h-1zM553 307h1v2h-1zM554 305h1v2h-1zM555 304h1v1h-1zM556 303h1v1h-1zM557 302h1v1h-1zM558 302h1v1h-1zM559 301h1v1h-1zM560 301h1v1h-1zM561 300h1v1h-1zM562 300h1v1h-1zM563 300h1v1h-1zM564 299h1v1h-1zM565 299h1v1h-1zM566 298h1v1h-1zM567 298h1v1h-1zM568 297h1v1h-1zM569 296h1v1h-1zM570 295h1v1h-1zM571 294h1v1h-1zM572 292h1v2h-1zM573 291h1v1h-1zM574 290h1v1h-1zM575 289h1v1h-1zM576 287h1v2h-1zM577 285h1v2h-1zM578 283h1v2h-1zM579 280h1v3h-1zM580 278h1v2h-1zM581 276h1v2h-1zM582 274h1v2h-1zM583 272h1v2h-1zM584 270h1v2h-1zM585 268h1v2h-1zM586 266h1v2h-1zM587 264h1v2h-1zM588 262h1v2h-1zM589 261h1v1h-1zM590 259h1v2h-1zM591 258h1v1h-1zM592 256h1v2h-1zM593 255h1v1h-1zM594 254h1v1h-1zM595 253h1v1h-1zM596 252h1v1h-1zM597 251h1v1h-1zM598 250h1v1h-1zM599 249h1v1h-1zM600 248h1v1h-1zM601 247h1v1h-1zM602 246h1v1h-1zM603 245h1v1h-1zM604 244h1v1h-1zM605 244h1v1h-1zM606 243h1v1h-1zM607 242h1v1h-1zM608 241h1v1h-1zM609 240h1v1h-1zM610 239h1v1h-1zM611 237h1v2h-1zM612 236h1v1h-1zM613 234h1v2h-1zM614 233h1v1h-1zM615 232h1v1h-1zM616 230h1v2h-1zM617 229h1v1h-1zM618 229h1v1h-1zM619 229h1v1h-1zM620 229h1v1h-1zM621 229h1v1h-1zM622 229h1v1h-1zM623 229h1v1h-1zM624 230h1v1h-1zM625 230h1v1h-1zM626 230h1v1h-1zM627 230h1v1h-1zM628 230h1v1h-1zM629 231h1v1h-1zM630 231h1v1h-1zM631 231h1v1h-1zM632 230h1v1h-1zM633 230h1v1h-1zM634 229h1v1h-1zM635 229h1v1h-1zM636 228h1v1h-1zM637 228h1v1h-1zM638 227h1v1h-1zM639 227h1v1h-1zM640 226h1v1h-1zM641 226h1v1h-1zM642 226h1v1h-1zM643 226h1v1h-1zM644 225h1v1h-1zM645 225h1v1h-1zM646 225h1v1h-1zM647 225h1v1h-1zM648 225h1v1h-1zM649 225h1v1h-1zM650 225h1v1h-1zM651 225h1v1h-1zM652 225h1v1h-1zM653 225h1v1h-1zM654 225h1v1h-1zM655 225h1v1h-1zM656 225h1v1h-1zM657 225h1v1h-1zM658 225h1v1h-1zM659 225h1v1h-1zM660 226h1v1h-1zM661 226h1v1h-1zM662 227h1v1h-1zM663 228h1v1h-1zM664 229h1v1h-1zM665 230h1v1h-1zM666 231h1v1h-1zM667 232h1v1h-1zM668 233h1v1h-1zM669 234h1v2h-1zM670 236h1v1h-1zM671 237h1v1h-1zM672 237h1v1h-1zM673 237h1v1h-1zM674 238h1v1h-1zM675 238h1v1h-1zM676 238h1v1h-1zM677 238h1v1h-1zM678 238h1v1h-1zM679 238h1v1h-1zM680 238h1v1h-1zM681 237h1v1h-1zM682 237h1v1h-1zM683 237h1v1h-1zM684 236h1v1h-1zM685 236h1v1h-1zM686 236h1v1h-1zM687 235h1v1h-1zM688 234h1v1h-1zM689 232h1v2h-1zM690 231h1v1h-1zM691 230h1v1h-1zM692 228h1v2h-1zM693 227h1v1h-1zM694 226h1v1h-1zM695 225h1v1h-1zM696 223h1v2h-1zM697 222h1v1h-1zM698 221h1v1h-1zM699 219h1v2h-1zM700 218h1v1h-1zM701 216h1v2h-1zM702 215h1v1h-1zM703 214h1v1h-1zM704 212h1v2h-1zM705 211h1v1h-1zM706 210h1v1h-1zM707 209h1v1h-1zM708 208h1v1h-1zM709 207h1v1h-1zM710 206h1v1h-1zM711 205h1v1h-1zM712 205h1v1h-1zM713 204h1v1h-1zM714 203h1v1h-1zM715 203h1v1h-1zM716 203h1v1h-1zM717 202h1v1h-1zM718 202h1v1h-1zM719 201h1v1h-1zM720 201h1v1h-1zM721 201h1v1h-1zM722 200h1v1h-1zM723 200h1v1h-1zM724 199h1v1h-1zM725 198h1v1h-1zM726 198h1v1h-1zM727 197h1v1h-1zM728 197h1v1h-1zM729 196h1v1h-1zM730 196h1v1h-1zM731 196h1v1h-1zM732 196h1v1h-1zM733 196h1v1h-1zM734 196h1v1h-1zM735 196h1v1h-1zM736 196h1v1h-1zM737 196h1v1h-1zM738 196h1v1h-1zM739 196h1v1h-1zM740 196h1v1h-1zM741 196h1v1h-1zM742 196h1v1h-1zM743 196h1v1h-1zM744 196h1v1h-1zM745 196h1v1h-1zM746 196h1v1h-1zM747 196h1v1h-1zM748 196h1v1h-1zM749 196h1v1h-1zM750 195h1v1h-1zM751 195h1v1h-1zM752 194h1v1h-1zM753 194h1v1h-1zM754 193h1v1h-1zM755 192h1v1h-1zM756 191h1v1h-1zM757 190h1v1h-1zM758 189h1v1h-1zM759 189h1v1h-1zM760 188h1v1h-1zM761 188h1v1h-1zM762 188h1v1h-1zM763 188h1v1h-1zM764 188h1v1h-1zM765 188h1v1h-1zM766 188h1v1h-1zM767 188h1v1h-1zM768 188h1v1h-1zM769 189h1v1h-1zM770 189h1v1h-1zM771 190h1v1h-1zM772 190h1v1h-1zM773 190h1v1h-1zM774 191h1v1h-1zM775 192h1v1h-1zM776 193h1v1h-1zM777 194h1v1h-1zM778 195h1v1h-1zM779 196h1v1h-1zM780 196h1v1h-1zM781 197h1v1h-1zM782 198h1v1h-1zM783 199h1v1h-1zM784 199h1v1h-1zM785 199h1v1h-1zM786 199h1v1h-1zM787 199h1v1h-1zM788 199h1v1h-1zM789 198h1v1h-1zM790 197h1v1h-1zM791 197h1v1h-1zM792 196h1v1h-1zM793 195h1v1h-1zM794 195h1v1h-1zM795 194h1v1h-1zM796 193h1v1h-1zM797 192h1v1h-1zM798 191h1v1h-1zM799 190h1v1h-1zM800 189h1v1h-1zM801 188h1v1h-1zM802 187h1v1h-1zM803 186h1v1h-1zM804 185h1v1h-1zM805 185h1v1h-1zM806 184h1v1h-1zM807 184h1v1h-1zM808 183h1v1h-1zM809 183h1v1h-1zM810 183h1v1h-1zM811 183h1v1h-1zM812 182h1v1h-1zM813 182h1v1h-1zM814 182h1v1h-1zM815 181h1v1h-1zM816 181h1v1h-1zM817 180h1v1h-1zM818 180h1v1h-1zM819 179h1v1h-1zM820 179h1v1h-1zM821 178h1v1h-1zM822 177h1v1h-1zM823 176h1v1h-1zM824 175h1v1h-1zM825 174h1v1h-1zM826 173h1v1h-1zM827 172h1v1h-1zM828 171h1v1h-1zM829 170h1v1h-1zM830 170h1v1h-1zM831 169h1v1h-1zM832 168h1v1h-1zM833 168h1v1h-1zM834 167h1v1h-1zM835 166h1v1h-1zM836 166h1v1h-1zM837 166h1v1h-1zM838 166h1v1h-1zM839 166h1v1h-1zM840 166h1v1h-1zM841 166h1v1h-1zM842 166h1v1h-1zM843 166h1v1h-1zM844 167h1v1h-1zM845 167h1v1h-1zM846 168h1v1h-1zM847 168h1v1h-1zM848 169h1v1h-1zM849 169h1v1h-1zM850 169h1v1h-1zM851 170h1v1h-1zM852 170h1v1h-1zM853 171h1v1h-1zM854 171h1v1h-1zM855 171h1v1h-1zM856 172h1v1h-1zM857 172h1v1h-1zM858 173h1v1h-1zM859 173h1v1h-1zM860 174h1v1h-1zM861 175h1v1h-1zM862 176h1v1h-1zM863 177h1v1h-1zM864 178h1v1h-1zM865 179h1v1h-1zM866 180h1v2h-1zM867 182h1v1h-1zM868 183h1v1h-1zM869 184h1v1h-1zM870 185h1v2h-1zM871 187h1v1h-1zM872 188h1v1h-1zM873 189h1v2h-1zM874 191h1v1h-1zM875 192h1v2h-1zM876 194h1v1h-1zM877 195h1v2h-1zM878 197h1v2h-1zM879 199h1v2h-1zM880 201h1v2h-1zM881 203h1v3h-1zM882 206h1v2h-1zM883 208h1v2h-1zM884 210h1v2h-1zM885 212h1v3h-1zM886 215h1v2h-1zM887 217h1v2h-1zM888 219h1v2h-1zM889 221h1v2h-1zM890 223h1v2h-1zM891 225h1v2h-1zM892 227h1v2h-1zM893 229h1v2h-1zM894 231h1v1h-1zM895 232h1v2h-1zM896 234h1v2h-1zM897 236h1v2h-1zM898 238h1v1h-1zM899 239h1v2h-1zM900 241h1v2h-1zM901 243h1v2h-1zM902 245h1v1h-1zM903 246h1v2h-1zM904 248h1v1h-1zM905 249h1v2h-1zM906 251h1v1h-1zM907 252h1v2h-1zM908 254h1v2h-1zM909 256h1v2h-1zM910 258h1v1h-1zM911 259h1v2h-1zM912 261h1v2h-1zM913 263h1v1h-1zM914 264h1v2h-1zM915 266h1v2h-1zM916 268h1v2h-1zM917 270h1v1h-1zM918 271h1v2h-1zM919 273h1v2h-1zM920 275h1v1h-1zM921 276h1v2h-1zM922 278h1v1h-1zM923 279h1v1h-1z" fill="#0000ff"/>
<path d="M3 136h1v1h-1zM4 136h1v1h-1zM5 136h1v1h-1zM6 136h1v1h-1zM7 136h1v1h-1zM8 136h1v1h-1zM9 136h1v1h-1zM10 135h1v1h-1zM11 135h1v1h-1zM12 135h1v1h-1zM13 134h1v1h-1zM14 134h1v1h-1zM15 134h1v1h-1zM16 133h1v1h-1zM17 133h1v1h-1zM18 133h1v1h-1zM19 133h1v1h-1zM20 133h1v1h-1zM21 133h1v1h-1zM22 133h1v1h-1zM23 133h1v1h-1zM24 133h1v1h-1zM25 133h1v1h-1zM26 133h1v1h-1zM27 133h1v1h-1zM28 133h1v1h-1zM29 134h1v1h-1zM30 134h1v1h-1zM31 135h1v1h-1zM32 135h1v1h-1zM33 136h1v1h-1zM34 136h1v1h-1zM35 137h1v1h-1zM36 138h1v1h-1zM37 138h1v1h-1zM38 139h1v1h-1zM39 139h1v1h-1zM40 139h1v1h-1zM41 140h1v1h-1zM42 140h1v1h-1zM43 141h1v1h-1zM44 141h1v1h-1zM45 141h1v1h-1zM46 142h1v1h-1zM47 142h1v1h-1zM48 143h1v1h-1zM49 143h1v1h-1zM50 144h1v1h-1zM51 144h1v1h-1zM52 145h1v1h-1zM53 145h1v1h-1zM54 146h1v1h-1zM55 146h1v1h-1zM56 146h1v1h-1zM57 147h1v1h-1zM58 147h1v1h-1zM59 147h1v1h-1zM60 147h1v1h-1zM61 147h1v1h-1zM62 147h1v1h-1zM63 147h1v1h-1zM64 147h1v1h-1zM65 147h1v1h-1zM66 147h1v1h-1zM67 148h1v1h-1zM68 148h1v1h-1zM69 148h1v1h-1zM70 148h1v1h-1zM71 148h1v1h-1zM72 149h1v1h-1zM73 149h1v1h-1zM74 149h1v1h-1zM75 149h1v1h-1zM76 150h1v1h-1zM77 150h1v1h-1zM78 150h1v1h-1zM79 150h1v1h-1zM80 151h1v1h-1zM81 151h1v1h-1zM82 152h1v1h-1zM83 152h1v1h-1zM84 152h1v1h-1zM85 153h1v1h-1zM86 153h1v1h-1zM87 154h1v1h-1zM88 154h1v1h-1zM89 154h1v1h-1zM90 155h1v1h-1zM91 155h1v1h-1zM92 156h1v1h-1zM93 156h1v1h-1zM94 156h1v1h-1zM95 157h1v1h-1zM96 157h1v1h-1zM97 157h1v1h-1zM98 157h1v1h-1zM99 158h1v1h-1zM100 158h1v1h-1zM101 158h1v1h-1zM102 158h1v1h-1zM103 158h1v1h-1zM104 159h1v1h-1zM105 159h1v1h-1zM106 159h1v1h-1zM107 159h1v1h-1zM108 160h1v1h-1zM109 160h1v1h-1zM110 160h1v1h-1zM111 160h1v1h-1zM112 160h1v1h-1zM113 161h1v1h-1zM114 161h1v1h-1zM115 162h1v1h-1zM116 162h1v1h-1zM117 162h1v1h-1zM118 162h1v1h-1zM119 162h1v1h-1zM120 162h1v1h-1zM121 162h1v1h-1zM122 163h1v1h-1zM123 163h1v1h-1zM124 163h1v1h-1zM125 163h1v1h-1zM126 163h1v1h-1zM127 163h1v1h-1zM128 163h1v1h-1zM129 163h1v1h-1zM130 163h1v1h-1zM131 163h1v1h-1zM132 163h1v1h-1zM133 163h1v1h-1zM134 163h1v1h-1zM135 163h1v1h-1zM136 163h1v1h-1zM137 164h1v1h-1zM138 164h1v1h-1zM139 165h1v1h-1zM140 166h1v1h-1zM141 166h1v1h-1zM142 167h1v1h-1zM143 168h1v1h-1zM144 168h1v1h-1zM145 169h1v1h-1zM146 170h1v1h-1zM147 171h1v1h-1zM148 171h1v1h-1zM149 172h1v1h-1zM150 173h1v1h-1zM151 174h1v1h-1zM152 175h1v1h-1zM153 176h1v1h-1zM154 177h1v1h-1zM155 178h1v1h-1zM156 178h1v1h-1zM157 179h1v1h-1zM158 180h1v1h-1zM159 181h1v1h-1zM160 182h1v1h-1zM161 183h1v1h-1zM162 184h1v1h-1zM163 185h1v1h-1zM164 186h1v1h-1zM165 187h1v1h-1zM166 188h1v1h-1zM167 189h1v1h-1zM168 190h1v1h-1zM169 191h1v1h-1zM170 192h1v1h-1zM171 193h1v1h-1zM172 194h1v1h-1zM173 195h1v1h-1zM174 195h1v1h-1zM175 196h1v1h-1zM176 197h1v1h-1zM177 198h1v1h-1zM178 198h1v1h-1zM179 199h1v1h-1zM180 200h1v1h-1zM181 201h1v1h-1zM182 202h1v1h-1zM183 202h1v1h-1zM184 202h1v1h-1zM185 202h1v1h-1zM186 202h1v1h-1zM187 203h1v1h-1zM188 203h1v1h-1zM189 203h1v1h-1zM190 204h1v1h-1zM191 204h1v1h-1zM192 205h1v1h-1zM193 205h1v1h-1zM194 206h1v1h-1zM195 206h1v1h-1zM196 207h1v1h-1zM197 207h1v1h-1zM198 207h1v1h-1zM199 208h1v1h-1zM200 208h1v1h-1zM201 208h1v1h-1zM202 209h1v1h-1zM203 209h1v1h-1zM204 209h1v1h-1zM205 210h1v1h-1zM206 210h1v1h-1zM207 210h1v1h-1zM208 211h1v1h-1zM209 211h1v1h-1zM210 211h1v1h-1zM211 212h1v1h-1zM212 212h1v1h-1zM213 212h1v1h-1zM214 213h1v1h-1zM215 213h1v1h-1zM216 213h1v1h-1zM217 214h1v1h-1zM218 214h1v1h-1zM219 214h1v1h-1zM220 215h1v1h-1zM221 215h1v1h-1zM222 216h1v1h-1zM223 216h1v1h-1zM224 217h1v1h-1zM225 217h1v1h-1zM226 218h1v1h-1zM227 218h1v1h-1zM228 218h1v1h-1zM229 218h1v1h-1zM230 219h1v1h-1zM231 219h1v1h-1zM232 219h1v1h-1zM233 219h1v1h-1zM234 219h1v1h-1zM235 219h1v1h-1zM236 219h1v1h-1zM237 219h1v1h-1zM238 220h1v1h-1zM239 220h1v1h-1zM240 220h1v1h-1zM241 220h1v1h-1zM242 220h1v1h-1zM243 220h1v1h-1zM244 220h1v1h-1zM245 220h1v1h-1zM246 220h1v1h-1zM247 220h1v1h-1zM248 220h1v1h-1zM249 220h1v1h-1zM250 220h1v1h-1zM251 220h1v1h-1zM252 220h1v1h-1zM253 221h1v1h-1zM254 221h1v1h-1zM255 221h1v1h-1zM256 222h1v1h-1zM257 222h1v1h-1zM258 223h1v1h-1zM259 223h1v1h-1zM260 223h1v1h-1zM261 224h1v1h-1zM262 224h1v1h-1zM263 225h1v1h-1zM264 225h1v1h-1zM265 225h1v1h-1zM266 226h1v1h-1zM267 226h1v1h-1zM268 227h1v1h-1zM269 227h1v1h-1zM270 227h1v1h-1zM271 228h1v1h-1zM272 228h1v1h-1zM273 228h1v1h-1zM274 229h1v1h-1zM275 229h1v1h-1zM276 229h1v1h-1zM277 230h1v1h-1zM278 230h1v1h-1zM279 230h1v1h-1zM280 231h1v1h-1zM281 231h1v1h-1zM282 232h1v1h-1zM283 232h1v1h-1zM284 233h1v1h-1zM285 233h1v1h-1zM286 234h1v1h-1zM287 234h1v1h-1zM288 234h1v1h-1zM289 235h1v1h-1zM290 235h1v1h-1zM291 236h1v1h-1zM292 237h1v1h-1zM293 237h1v1h-1zM294 238h1v1h-1zM295 238h1v1h-1zM296 239h1v1h-1zM297 240h1v1h-1zM298 240h1v1h-1zM299 241h1v1h-1zM300 241h1v1h-1zM301 242h1v1h-1zM302 242h1v1h-1zM303 242h1v1h-1zM304 243h1v1h-1zM305 243h1v1h-1zM306 244h1v1h-1zM307 244h1v1h-1zM308 245h1v1h-1zM309 245h1v1h-1zM310 246h1v1h-1zM311 246h1v1h-1zM312 247h1v1h-1zM313 247h1v1h-1zM314 248h1v1h-1zM315 248h1v1h-1zM316 249h1v1h-1zM317 249h1v1h-1zM318 250h1v1h-1zM319 250h1v1h-1zM320 251h1v1h-1zM321 252h1v1h-1zM322 252h1v1h-1zM323 253h1v1h-1zM324 253h1v1h-1zM325 254h1v1h-1zM326 254h1v1h-1zM327 255h1v1h-1zM328 256h1v1h-1zM329 257h1v1h-1zM330 258h1v1h-1zM331 259h1v1h-1zM332 260h1v1h-1zM333 261h1v1h-1zM334 262h1v1h-1zM335 263h1v1h-1zM336 264h1v1h-1zM337 265h1v1h-1zM338 266h1v1h-1zM339 267h1v1h-1zM340 268h1v1h-1zM341 269h1v1h-1zM342 270h1v2h-1zM343 272h1v1h-1zM344 273h1v1h-1zM345 274h1v1h-1zM346 275h1v1h-1zM347 276h1v1h-1zM348 277h1v2h-1zM349 279h1v1h-1zM350 280h1v1h-1zM351 281h1v1h-1zM352 282h1v2h-1zM353 284h1v1h-1zM354 285h1v1h-1zM355 286h1v2h-1zM356 288h1v1h-1zM357 289h1v1h-1zM358 290h1v2h-1zM359 292h1v1h-1zM360 293h1v2h-1zM361 295h1v1h-1zM362 296h1v2h-1zM363 298h1v1h-1zM364 299h1v2h-1zM365 301h1v1h-1zM366 302h1v2h-1zM367 304h1v1h-1zM368 305h1v2h-1zM369 307h1v1h-1zM370 308h1v2h-1zM371 310h1v1h-1zM372 311h1v2h-1zM373 313h1v1h-1zM374 314h1v2h-1zM375 316h1v1h-1zM376 317h1v2h-1zM377 319h1v1h-1zM378 320h1v2h-1zM379 322h1v1h-1zM380 323h1v1h-1zM381 324h1v2h-1zM382 326h1v1h-1zM383 327h1v2h-1zM384 329h1v1h-1zM385 330h1v1h-1zM386 331h1v2h-1zM387 333h1v1h-1zM388 334h1v2h-1zM389 336h1v1h-1zM390 337h1v1h-1zM391 338h1v1h-1zM392 339h1v2h-1zM393 341h1v1h-1zM394 342h1v2h-1zM395 344h1v1h-1zM396 345h1v1h-1zM397 346h1v2h-1zM398 348h1v1h-1zM399 349h1v2h-1zM400 351h1v1h-1zM401 352h1v2h-1zM402 354h1v1h-1zM403 355h1v1h-1zM404 356h1v2h-1zM405 358h1v1h-1zM406 359h1v1h-1zM407 360h1v1h-1zM408 361h1v1h-1zM409 362h1v2h-1zM410 364h1v1h-1zM411 365h1v1h-1zM412 366h1v1h-1zM413 367h1v2h-1zM414 369h1v1h-1zM415 370h1v1h-1zM416 371h1v2h-1zM417 373h1v1h-1zM418 374h1v1h-1zM419 375h1v2h-1zM420 377h1v1h-1zM421 378h1v2h-1zM422 380h1v1h-1zM423 381h1v1h-1zM424 382h1v2h-1zM425 384h1v1h-1zM426 385h1v1h-1zM427 386h1v1h-1zM428 387h1v2h-1zM429 389h1v1h-1zM430 390h1v1h-1zM431 391h1v1h-1zM432 392h1v2h-1zM433 394h1v1h-1zM434 395h1v1h-1zM435 396h1v1h-1zM436 397h1v2h-1zM437 399h1v1h-1zM438 400h1v1h-1zM439 401h1v1h-1zM440 402h1v2h-1zM441 404h1v1h-1zM442 405h1v1h-1zM443 406h1v1h-1zM444 407h1v1h-1zM445 408h1v1h-1zM446 409h1v1h-1zM447 410h1v1h-1zM448 411h1v1h-1zM449 412h1v1h-1zM450 413h1v1h-1zM451 414h1v1h-1zM452 415h1v1h-1zM453 415h1v1h-1zM454 416h1v1h-1zM455 417h1v1h-1zM456 417h1v1h-1zM457 418h1v1h-1zM458 418h1v1h-1zM459 419h1v1h-1zM460 420h1v1h-1zM461 420h1v1h-1zM462 421h1v1h-1zM463 421h1v1h-1zM464 422h1v1h-1zM465 422h1v1h-1zM466 422h1v1h-1zM467 423h1v1h-1zM468 423h1v1h-1zM469 423h1v1h-1zM470 424h1v1h-1zM471 424h1v1h-1zM472 424h1v1h-1zM473 424h1v1h-1zM474 424h1v1h-1zM475 423h1v1h-1zM476 423h1v1h-1zM477 423h1v1h-1zM478 422h1v1h-1zM479 422h1v1h-1zM480 422h1v1h-1zM481 422h1v1h-1zM482 421h1v1h-1zM483 421h1v1h-1zM484 420h1v1h-1zM485 420h1v1h-1zM486 419h1v1h-1zM487 419h1v1h-1zM488 418h1v1h-1zM489 418h1v1h-1zM490 417h1v1h-1zM491 417h1v1h-1zM492 417h1v1h-1zM493 417h1v1h-1zM494 416h1v1h-1zM495 416h1v1h-1zM496 415h1v1h-1zM497 415h1v1h-1zM498 414h1v1h-1zM499 414h1v1h-1zM500 413h1v1h-1zM501 412h1v1h-1zM502 412h1v1h-1zM503 411h1v1h-1zM504 410h1v1h-1zM505 410h1v1h-1zM506 409h1v1h-1zM507 409h1v1h-1zM508 408h1v1h-1zM509 407h1v1h-1zM510 407h1v1h-1zM511 406h1v1h-1zM512 405h1v1h-1zM513 405h1v1h-1zM514 404h1v1h-1zM515 403h1v1h-1zM516 403h1v1h-1zM517 402h1v1h-1zM518 401h1v1h-1zM519 400h1v1h-1zM520 399h1v1h-1zM521 398h1v1h-1zM522 398h1v1h-1zM523 397h1v1h-1zM524 396h1v1h-1zM525 396h1v1h-1zM526 395h1v1h-1zM527 394h1v1h-1zM528 394h1v1h-1zM529 393h1v1h-1zM530 392h1v1h-1zM531 391h1v1h-1zM532 391h1v1h-1zM533 390h1v1h-1zM534 389h1v1h-1zM535 388h1v1h-1zM536 387h1v1h-1zM537 386h1v1h-1zM538 385h1v1h-1zM539 384h1v1h-1zM540 383h1v1h-1zM541 382h1v1h-1zM542 380h1v2h-1zM543 379h1v1h-1zM544 377h1v2h-1zM545 375h1v2h-1zM546 374h1v1h-1zM547 373h1v1h-1zM548 371h1v2h-1zM549 370h1v1h-1zM550 369h1v1h-1zM551 368h1v1h-1zM552 366h1v2h-1zM553 365h1v1h-1zM554 364h1v1h-1zM555 363h1v1h-1zM556 361h1v2h-1zM557 360h1v1h-1zM558 359h1v1h-1zM559 358h1v1h-1zM560 356h1v2h-1zM561 355h1v1h-1zM562 354h1v1h-1zM563 353h1v1h-1zM564 352h1v1h-1zM565 351h1v1h-1zM566 350h1v1h-1zM567 349h1v1h-1zM568 348h1v1h-1zM569 347h1v1h-1zM570 346h1v1h-1zM571 344h1v2h-1zM572 343h1v1h-1zM573 341h1v2h-1zM574 340h1v1h-1zM575 338h1v2h-1zM576 337h1v1h-1zM577 335h1v2h-1zM578 333h1v2h-1zM579 332h1v1h-1zM580 330h1v2h-1zM581 328h1v2h-1zM582 327h1v1h-1zM583 325h1v2h-1zM584 323h1v2h-1zM585 322h1v1h-1zM586 320h1v2h-1zM587 319h1v1h-1zM588 317h1v2h-1zM589 315h1v2h-1zM590 314h1v1h-1zM591 312h1v2h-1zM592 311h1v1h-1zM593 310h1v1h-1zM594 308h1v2h-1zM595 307h1v1h-1zM596 306h1v1h-1zM597 305h1v1h-1zM598 303h1v2h-1zM599 302h1v1h-1zM600 301h1v1h-1zM601 299h1v2h-1zM602 298h1v1h-1zM603 296h1v2h-1zM604 295h1v1h-1zM605 294h1v1h-1zM606 292h1v2h-1zM607 291h1v1h-1zM608 290h1v1h-1zM609 288h1v2h-1zM610 287h1v1h-1zM611 286h1v1h-1zM612 285h1v1h-1zM613 283h1v2h-1zM614 282h1v1h-1zM615 281h1v1h-1zM616 280h1v1h-1zM617 279h1v1h-1zM618 278h1v1h-1zM619 277h1v1h-1zM620 276h1v1h-1zM621 275h1v1h-1zM622 275h1v1h-1zM623 274h1v1h-1zM624 273h1v1h-1zM625 272h1v1h-1zM626 271h1v1h-1zM627 270h1v1h-1zM628 270h1v1h-1zM629 269h1v1h-1zM630 268h1v1h-1zM631 267h1v1h-1zM632 266h1v1h-1zM633 265h1v1h-1zM634 265h1v1h-1zM635 265h1v1h-1zM636 265h1v1h-1zM637 264h1v1h-1zM638 264h1v1h-1zM639 264h1v1h-1zM640 264h1v1h-1zM641 263h1v1h-1zM642 263h1v1h-1zM643 263h1v1h-1zM644 262h1v1h-1zM645 262h1v1h-1zM646 261h1v1h-1zM647 261h1v1h-1zM648 260h1v1h-1zM649 260h1v1h-1zM650 259h1v1h-1zM651 259h1v1h-1zM652 258h1v1h-1zM653 257h1v1h-1zM654 256h1v1h-1zM655 255h1v1h-1zM656 254h1v1h-1zM657 253h1v1h-1zM658 253h1v1h-1zM659 253h1v1h-1zM660 252h1v1h-1zM661 252h1v1h-1zM662 251h1v1h-1zM663 250h1v1h-1zM664 250h1v1h-1zM665 249h1v1h-1zM666 248h1v1h-1zM667 248h1v1h-1zM668 247h1v1h-1zM669 247h1v1h-1zM670 246h1v1h-1zM671 245h1v1h-1zM672 245h1v1h-1zM673 244h1v1h-1zM674 244h1v1h-1zM675 244h1v1h-1zM676 243h1v1h-1zM677 243h1v1h-1zM678 242h1v1h-1zM679 242h1v1h-1zM680 241h1v1h-1zM681 240h1v1h-1zM682 240h1v1h-1zM683 239h1v1h-1zM684 238h1v1h-1zM685 238h1v1h-1zM686 237h1v1h-1zM687 236h1v1h-1zM688 235h1v1h-1zM689 234h1v1h-1zM690 233h1v1h-1zM691 231h1v2h-1zM692 230h1v1h-1zM693 228h1v2h-1zM694 226h1v2h-1zM695 224h1v2h-1zM696 223h1v1h-1zM697 222h1v1h-1zM698 222h1v1h-1zM699 221h1v1h-1zM700 220h1v1h-1zM701 220h1v1h-1zM702 220h1v1h-1zM703 219h1v1h-1zM704 219h1v1h-1zM705 218h1v1h-1zM706 218h1v1h-1zM707 218h1v1h-1zM708 217h1v1h-1zM709 217h1v1h-1zM710 216h1v1h-1zM711 216h1v1h-1zM712 215h1v1h-1zM713 215h1v1h-1zM714 214h1v1h-1zM715 214h1v1h-1zM716 213h1v1h-1zM717 213h1v1h-1zM718 213h1v1h-1zM719 212h1v1h-1zM720 212h1v1h-1zM721 212h1v1h-1zM722 212h1v1h-1zM723 212h1v1h-1zM724 211h1v1h-1zM725 211h1v1h-1zM726 211h1v1h-1zM727 210h1v1h-1zM728 210h1v1h-1zM729 210h1v1h-1zM730 210h1v1h-1zM731 210h1v1h-1zM732 210h1v1h-1zM733 210h1v1h-1zM734 210h1v1h-1zM735 210h1v1h-1zM736 210h1v1h-1zM737 211h1v1h-1zM738 211h1v1h-1zM739 211h1v1h-1zM740 212h1v1h-1zM741 212h1v1h-1zM742 213h1v1h-1zM743 213h1v1h-1zM744 214h1v1h-1zM745 214h1v1h-1zM746 215h1v1h-1zM747 215h1v1h-1zM748 216h1v1h-1zM749 216h1v1h-1zM750 216h1v1h-1zM751 216h1v1h-1zM752 216h1v1h-1zM753 215h1v1h-1zM754 215h1v1h-1zM755 215h1v1h-1zM756 214h1v1h-1zM757 214h1v1h-1zM758 214h1v1h-1zM759 214h1v1h-1zM760 213h1v1h-1zM761 213h1v1h-1zM762 213h1v1h-1zM763 213h1v1h-1zM764 212h1v1h-1zM765 212h1v1h-1zM766 212h1v1h-1zM767 211h1v1h-1zM768 211h1v1h-1zM769 210h1v1h-1zM770 210h1v1h-1zM771 210h1v1h-1zM772 209h1v1h-1zM773 209h1v1h-1zM774 209h1v1h-1zM775 208h1v1h-1zM776 208h1v1h-1zM777 207h1v1h-1zM778 206h1v1h-1zM779 206h1v1h-1zM780 205h1v1h-1zM781 205h1v1h-1zM782 204h1v1h-1zM783 203h1v1h-1zM784 203h1v1h-1zM785 202h1v1h-1zM786 201h1v1h-1zM787 201h1v1h-1zM788 200h1v1h-1zM789 200h1v1h-1zM790 199h1v1h-1zM791 199h1v1h-1zM792 198h1v1h-1zM793 198h1v1h-1zM794 197h1v1h-1zM795 197h1v1h-1zM796 196h1v1h-1zM797 195h1v1h-1zM798 195h1v1h-1zM799 194h1v1h-1zM800 193h1v1h-1zM801 192h1v1h-1zM802 192h1v1h-1zM803 191h1v1h-1zM804 190h1v1h-1zM805 190h1v1h-1zM806 190h1v1h-1zM807 190h1v1h-1zM808 189h1v1h-1zM809 189h1v1h-1zM810 189h1v1h-1zM811 188h1v1h-1zM812 188h1v1h-1zM813 187h1v1h-1zM814 187h1v1h-1zM815 187h1v1h-1zM816 186h1v1h-1zM817 186h1v1h-1zM818 186h1v1h-1zM819 186h1v1h-1zM820 185h1v1h-1zM821 185h1v1h-1zM822 184h1v1h-1zM823 184h1v1h-1zM824 183h1v1h-1zM825 183h1v1h-1zM826 182h1v1h-1zM827 182h1v1h-1zM828 181h1v1h-1zM829 181h1v1h-1zM830 180h1v1h-1zM831 180h1v1h-1zM832 179h1v1h-1zM833 179h1v1h-1zM834 178h1v1h-1zM835 178h1v1h-1zM836 177h1v1h-1zM837 177h1v1h-1zM838 177h1v1h-1zM839 177h1v1h-1zM840 177h1v1h-1zM841 177h1v1h-1zM842 177h1v1h-1zM843 177h1v1h-1zM844 177h1v1h-1zM845 178h1v1h-1zM846 178h1v1h-1zM847 178h1v1h-1zM848 179h1v1h-1zM849 179h1v1h-1zM850 180h1v1h-1zM851 180h1v1h-1zM852 181h1v1h-1zM853 182h1v1h-1zM854 182h1v1h-1zM855 183h1v1h-1zM856 184h1v1h-1zM857 185h1v1h-1zM858 186h1v1h-1zM859 187h1v1h-1zM860 187h1v1h-1zM861 188h1v1h-1zM862 189h1v1h-1zM863 189h1v1h-1zM864 190h1v1h-1zM865 190h1v1h-1zM866 190h1v1h-1zM867 191h1v1h-1zM868 191h1v1h-1zM869 192h1v1h-1zM870 192h1v1h-1zM871 192h1v1h-1zM872 193h1v1h-1zM873 194h1v1h-1zM874 194h1v1h-1zM875 195h1v1h-1zM876 195h1v1h-1zM877 196h1v1h-1zM878 197h1v1h-1zM879 197h1v1h-1zM880 198h1v1h-1zM881 199h1v1h-1zM882 199h1v1h-1zM883 200h1v1h-1zM884 201h1v1h-1zM885 201h1v1h-1zM886 202h1v1h-1zM887 203h1v1h-1zM888 203h1v1h-1zM889 204h1v1h-1zM890 205h1v1h-1zM891 205h1v1h-1zM892 206h1v1h-1zM893 207h1v1h-1zM894 207h1v1h-1zM895 208h1v1h-1zM896 209h1v1h-1zM897 209h1v1h-1zM898 210h1v1h-1zM899 210h1v1h-1zM900 211h1v1h-1zM901 211h1v1h-1zM902 212h1v1h-1zM903 212h1v1h-1zM904 213h1v1h-1zM905 213h1v1h-1zM906 214h1v1h-1zM907 214h1v1h-1zM908 215h1v1h-1zM909 215h1v1h-1zM910 216h1v1h-1zM911 217h1v1h-1zM912 217h1v1h-1zM913 218h1v1h-1zM914 219h1v1h-1zM915 220h1v1h-1zM916 220h1v1h-1zM917 221h1v1h-1zM918 222h1v1h-1zM919 222h1v1h-1zM920 223h1v1h-1zM921 224h1v1h-1zM922 224h1v1h-1z" fill="#ffff00"/>
<g><rect x="3" y="108" width="1" height="26" fill="#ff0000"/><rect x="3" y="116" width="2" height="15" fill="#ff0000"/><rect x="3" y="117" width="1" height="13" fill="#ff4500"/><rect x="7" y="98" width="1" height="38" fill="#ff0000"/><rect x="6" y="100" width="3" height="23" fill="#ff0000"/><rect x="7" y="101" width="1" height="21" fill="#ff4500"/><rect x="11" y="96" width="1" height="31" fill="#2fcc2f"/><rect x="10" y="98" width="3" height="6" fill="#2fcc2f"/><rect x="15" y="98" width="1" height="37" fill="#2fcc2f"/><rect x="14" y="100" width="3" height="23" fill="#2fcc2f"/><rect x="19" y="98" width="1" height="36" fill="#ff0000"/><rect x="18" y="100" width="3" height="23" fill="#ff0000"/><rect x="19" y="101" width="1" height="21" fill="#ff4500"/><rect x="23" y="98" width="1" height="33" fill="#2fcc2f"/><rect x="22" y="100" width="3" height="30" fill="#2fcc2f"/><rect x="27" y="124" width="1" height="10" fill="#2fcc2f"/><rect x="26" y="129" width="3" height="3" fill="#2fcc2f"/><rect x="31" y="125" width="1" height="19" fill="#2fcc2f"/><rect x="30" y="137" width="3" height="3" fill="#2fcc2f"/><rect x="35" y="131" width="1" height="27" fill="#2fcc2f"/><rect x="34" y="138" width="3" height="16" fill="#2fcc2f"/><rect x="39" y="146" width="1" height="32" fill="#2fcc2f"/><rect x="38" y="153" width="3" height="17" fill="#2fcc2f"/><rect x="43" y="157" width="1" height="24" fill="#ff0000"/><rect x="42" y="169" width="3" height="1" fill="#ff0000"/><rect x="47" y="134" width="1" height="36" fill="#ff0000"/><rect x="46" y="160" width="3" height="10" fill="#ff0000"/><rect x="47" y="161" width="1" height="8" fill="#ff4500"/><rect x="51" y="157" width="1" height="17" fill="#2fcc2f"/><rect x="50" y="160" width="3" height="2" fill="#2fcc2f"/><rect x="55" y="166" width="1" height="24" fill="#2fcc2f"/><rect x="54" y="169" width="3" height="20" fill="#2fcc2f"/><rect x="59" y="163" width="1" height="41" fill="#ff0000"/><rect x="58" y="171" width="3" height="18" fill="#ff0000"/><rect x="59" y="172" width="1" height="16" fill="#ff4500"/><rect x="63" y="141" width="1" height="34" fill="#ff0000"/><rect x="62" y="151" width="3" height="20" fill="#ff0000"/><rect x="63" y="152" width="1" height="18" fill="#ff4500"/><rect x="67" y="144" width="1" height="34" fill="#2fcc2f"/><rect x="66" y="150" width="3" height="4" fill="#2fcc2f"/><rect x="71" y="152" width="1" height="54" fill="#2fcc2f"/><rect x="70" y="153" width="3" height="52" fill="#2fcc2f"/><rect x="75" y="195" width="1" height="16" fill="#ff0000"/><rect x="74" y="198" width="3" height="6" fill="#ff0000"/><rect x="75" y="199" width="1" height="4" fill="#ff4500"/><rect x="79" y="183" width="1" height="34" fill="#ff0000"/><rect x="78" y="201" width="3" height="2" fill="#ff0000"/><rect x="83" y="186" width="1" height="29" fill="#2fcc2f"/><rect x="82" y="201" width="3" height="8" fill="#2fcc2f"/><rect x="87" y="201" width="1" height="29" fill="#2fcc2f"/><rect x="86" y="208" width="3" height="16" fill="#2fcc2f"/><rect x="91" y="222" width="1" height="46" fill="#2fcc2f"/><rect x="90" y="223" width="3" height="24" fill="#2fcc2f"/><rect x="95" y="169" width="1" height="80" fill="#ff0000"/><rect x="94" y="181" width="3" height="66" fill="#ff0000"/><rect x="95" y="182" width="1" height="64" fill="#ff4500"/><rect x="99" y="149" width="1" height="35" fill="#ff0000"/><rect x="98" y="159" width="3" height="22" fill="#ff0000"/><rect x="99" y="160" width="1" height="20" fill="#ff4500"/><rect x="103" y="147" width="1" height="40" fill="#2fcc2f"/><rect x="102" y="148" width="3" height="35" fill="#2fcc2f"/><rect x="107" y="163" width="1" height="37" fill="#2fcc2f"/><rect x="106" y="182" width="3" height="17" fill="#2fcc2f"/><rect x="111" y="181" width="1" height="31" fill="#ff0000"/><rect x="110" y="195" width="3" height="4" fill="#ff0000"/><rect x="111" y="196" width="1" height="2" fill="#ff4500"/><rect x="115" y="174" width="1" height="33" fill="#2fcc2f"/><rect x="114" y="195" width="3" height="9" fill="#2fcc2f"/><rect x="119" y="146" width="1" height="74" fill="#ff0000"/><rect x="118" y="168" width="3" height="37" fill="#ff0000"/><rect x="119" y="169" width="1" height="35" fill="#ff4500"/><rect x="123" y="165" width="1" height="21" fill="#2fcc2f"/><rect x="122" y="169" width="3" height="10" fill="#2fcc2f"/><rect x="127" y="162" width="1" height="36" fill="#ff0000"/><rect x="126" y="179" width="3" height="8" fill="#ff0000"/><rect x="127" y="180" width="1" height="6" fill="#ff4500"/><rect x="131" y="169" width="1" height="44" fill="#2fcc2f"/><rect x="130" y="179" width="3" height="10" fill="#2fcc2f"/><rect x="135" y="170" width="1" height="32" fill="#2fcc2f"/><rect x="134" y="188" width="3" height="2" fill="#2fcc2f"/><rect x="139" y="179" width="1" height="45" fill="#2fcc2f"/><rect x="138" y="189" width="3" height="34" fill="#2fcc2f"/><rect x="143" y="217" width="1" height="40" fill="#2fcc2f"/><rect x="142" y="222" width="3" height="33" fill="#2fcc2f"/><rect x="147" y="251" width="1" height="20" fill="#2fcc2f"/><rect x="146" y="254" width="3" height="14" fill="#2fcc2f"/><rect x="151" y="247" width="1" height="33" fill="#ff0000"/><rect x="150" y="257" width="3" height="7" fill="#ff0000"/><rect x="151" y="258" width="1" height="5" fill="#ff4500"/><rect x="155" y="253" width="1" height="24" fill="#2fcc2f"/><rect x="154" y="257" width="3" height="19" fill="#2fcc2f"/><rect x="159" y="257" width="1" height="26" fill="#ff0000"/><rect x="158" y="264" width="3" height="12" fill="#ff0000"/><rect x="159" y="265" width="1" height="10" fill="#ff4500"/><rect x="163" y="256" width="1" height="59" fill="#2fcc2f"/><rect x="162" y="263" width="3" height="20" fill="#2fcc2f"/><rect x="167" y="231" width="1" height="58" fill="#ff0000"/><rect x="166" y="248" width="3" height="35" fill="#ff0000"/><rect x="167" y="249" width="1" height="33" fill="#ff4500"/><rect x="171" y="247" width="1" height="14" fill="#2fcc2f"/><rect x="170" y="248" width="3" height="8" fill="#2fcc2f"/><rect x="175" y="234" width="1" height="32" fill="#ff0000"/><rect x="174" y="240" width="3" height="2" fill="#ff0000"/><rect x="179" y="210" width="1" height="41" fill="#ff0000"/><rect x="178" y="231" width="3" height="9" fill="#ff0000"/><rect x="179" y="232" width="1" height="7" fill="#ff4500"/><rect x="183" y="204" width="1" height="38" fill="#ff0000"/><rect x="182" y="229" width="3" height="3" fill="#ff0000"/><rect x="183" y="230" width="1" height="1" fill="#ff4500"/><rect x="187" y="195" width="1" height="39" fill="#ff0000"/><rect x="186" y="201" width="3" height="29" fill="#ff0000"/><rect x="187" y="202" width="1" height="27" fill="#ff4500"/><rect x="191" y="197" width="1" height="29" fill="#2fcc2f"/><rect x="190" y="202" width="3" height="17" fill="#2fcc2f"/><rect x="195" y="204" width="1" height="16" fill="#ff0000"/><rect x="194" y="210" width="3" height="9" fill="#ff0000"/><rect x="195" y="211" width="1" height="7" fill="#ff4500"/><rect x="199" y="195" width="1" height="23" fill="#ff0000"/><rect x="198" y="211" width="3" height="6" fill="#ff0000"/><rect x="199" y="212" width="1" height="4" fill="#ff4500"/><rect x="203" y="186" width="1" height="31" fill="#ff0000"/><rect x="202" y="196" width="3" height="16" fill="#ff0000"/><rect x="203" y="197" width="1" height="14" fill="#ff4500"/><rect x="207" y="188" width="1" height="48" fill="#2fcc2f"/><rect x="206" y="195" width="3" height="26" fill="#2fcc2f"/><rect x="211" y="207" width="1" height="21" fill="#2fcc2f"/><rect x="210" y="220" width="3" height="2" fill="#2fcc2f"/><rect x="215" y="221" width="1" height="13" fill="#2fcc2f"/><rect x="214" y="221" width="3" height="13" fill="#2fcc2f"/><rect x="219" y="220" width="1" height="9" fill="#ff0000"/><rect x="218" y="221" width="3" height="3" fill="#ff0000"/><rect x="219" y="222" width="1" height="1" fill="#ff4500"/><rect x="223" y="210" width="1" height="43" fill="#2fcc2f"/><rect x="222" y="221" width="3" height="27" fill="#2fcc2f"/><rect x="227" y="219" width="1" height="30" fill="#ff0000"/><rect x="226" y="234" width="3" height="14" fill="#ff0000"/><rect x="227" y="235" width="1" height="12" fill="#ff4500"/><rect x="231" y="192" width="1" height="44" fill="#ff0000"/><rect x="230" y="201" width="3" height="34" fill="#ff0000"/><rect x="231" y="202" width="1" height="32" fill="#ff4500"/><rect x="235" y="193" width="1" height="27" fill="#2fcc2f"/><rect x="234" y="201" width="3" height="18" fill="#2fcc2f"/><rect x="239" y="203" width="1" height="32" fill="#2fcc2f"/><rect x="238" y="218" width="3" height="17" fill="#2fcc2f"/><rect x="243" y="233" width="1" height="9" fill="#2fcc2f"/><rect x="242" y="234" width="3" height="8" fill="#2fcc2f"/><rect x="247" y="220" width="1" height="20" fill="#ff0000"/><rect x="246" y="227" width="3" height="11" fill="#ff0000"/><rect x="247" y="228" width="1" height="9" fill="#ff4500"/><rect x="251" y="195" width="1" height="41" fill="#2fcc2f"/><rect x="250" y="227" width="3" height="8" fill="#2fcc2f"/><rect x="255" y="218" width="1" height="30" fill="#2fcc2f"/><rect x="254" y="234" width="3" height="13" fill="#2fcc2f"/><rect x="259" y="226" width="1" height="38" fill="#ff0000"/><rect x="258" y="235" width="3" height="11" fill="#ff0000"/><rect x="259" y="236" width="1" height="9" fill="#ff4500"/><rect x="263" y="226" width="1" height="30" fill="#2fcc2f"/><rect x="262" y="235" width="3" height="19" fill="#2fcc2f"/><rect x="267" y="249" width="1" height="7" fill="#ff0000"/><rect x="266" y="251" width="3" height="3" fill="#ff0000"/><rect x="267" y="252" width="1" height="1" fill="#ff4500"/><rect x="271" y="236" width="1" height="31" fill="#ff0000"/><rect x="270" y="237" width="3" height="9" fill="#ff0000"/><rect x="271" y="238" width="1" height="7" fill="#ff4500"/><rect x="275" y="213" width="1" height="50" fill="#ff0000"/><rect x="274" y="219" width="3" height="19" fill="#ff0000"/><rect x="275" y="220" width="1" height="17" fill="#ff4500"/><rect x="279" y="183" width="1" height="89" fill="#2fcc2f"/><rect x="278" y="219" width="3" height="42" fill="#2fcc2f"/><rect x="283" y="237" width="1" height="29" fill="#ff0000"/><rect x="282" y="257" width="3" height="4" fill="#ff0000"/><rect x="283" y="258" width="1" height="2" fill="#ff4500"/><rect x="287" y="248" width="1" height="19" fill="#ff0000"/><rect x="286" y="255" width="3" height="3" fill="#ff0000"/><rect x="287" y="256" width="1" height="1" fill="#ff4500"/><rect x="291" y="249" width="1" height="18" fill="#2fcc2f"/><rect x="290" y="255" width="3" height="10" fill="#2fcc2f"/><rect x="295" y="257" width="1" height="49" fill="#2fcc2f"/><rect x="294" y="260" width="3" height="40" fill="#2fcc2f"/><rect x="299" y="289" width="1" height="15" fill="#2fcc2f"/><rect x="298" y="299" width="3" height="1" fill="#2fcc2f"/><rect x="303" y="290" width="1" height="31" fill="#2fcc2f"/><rect x="302" y="299" width="3" height="20" fill="#2fcc2f"/><rect x="307" y="317" width="1" height="36" fill="#2fcc2f"/><rect x="306" y="318" width="3" height="28" fill="#2fcc2f"/><rect x="311" y="333" width="1" height="26" fill="#2fcc2f"/><rect x="310" y="345" width="3" height="3" fill="#2fcc2f"/><rect x="315" y="345" width="1" height="11" fill="#2fcc2f"/><rect x="314" y="347" width="3" height="5" fill="#2fcc2f"/><rect x="319" y="335" width="1" height="24" fill="#2fcc2f"/><rect x="318" y="350" width="3" height="5" fill="#2fcc2f"/><rect x="323" y="320" width="1" height="39" fill="#ff0000"/><rect x="322" y="334" width="3" height="21" fill="#ff0000"/><rect x="323" y="335" width="1" height="19" fill="#ff4500"/><rect x="327" y="333" width="1" height="33" fill="#2fcc2f"/><rect x="326" y="334" width="3" height="27" fill="#2fcc2f"/><rect x="331" y="349" width="1" height="49" fill="#2fcc2f"/><rect x="330" y="360" width="3" height="32" fill="#2fcc2f"/><rect x="335" y="390" width="1" height="33" fill="#2fcc2f"/><rect x="334" y="391" width="3" height="26" fill="#2fcc2f"/><rect x="339" y="407" width="1" height="11" fill="#ff0000"/><rect x="338" y="415" width="3" height="3" fill="#ff0000"/><rect x="339" y="416" width="1" height="1" fill="#ff4500"/><rect x="343" y="420" width="1" height="22" fill="#2fcc2f"/><rect x="342" y="420" width="3" height="22" fill="#2fcc2f"/><rect x="347" y="422" width="1" height="22" fill="#ff0000"/><rect x="346" y="437" width="3" height="4" fill="#ff0000"/><rect x="347" y="438" width="1" height="2" fill="#ff4500"/><rect x="351" y="419" width="1" height="40" fill="#ff0000"/><rect x="350" y="432" width="3" height="6" fill="#ff0000"/><rect x="351" y="433" width="1" height="4" fill="#ff4500"/><rect x="355" y="408" width="1" height="27" fill="#ff0000"/><rect x="354" y="412" width="3" height="21" fill="#ff0000"/><rect x="355" y="413" width="1" height="19" fill="#ff4500"/><rect x="359" y="387" width="1" height="56" fill="#2fcc2f"/><rect x="358" y="413" width="3" height="15" fill="#2fcc2f"/><rect x="363" y="422" width="1" height="9" fill="#2fcc2f"/><rect x="362" y="427" width="3" height="2" fill="#2fcc2f"/><rect x="367" y="417" width="1" height="31" fill="#2fcc2f"/><rect x="366" y="425" width="3" height="21" fill="#2fcc2f"/><rect x="371" y="442" width="1" height="32" fill="#2fcc2f"/><rect x="370" y="445" width="3" height="6" fill="#2fcc2f"/><rect x="375" y="423" width="1" height="34" fill="#ff0000"/><rect x="374" y="438" width="3" height="13" fill="#ff0000"/><rect x="375" y="439" width="1" height="11" fill="#ff4500"/><rect x="379" y="413" width="1" height="44" fill="#2fcc2f"/><rect x="378" y="438" width="3" height="19" fill="#2fcc2f"/><rect x="383" y="436" width="1" height="31" fill="#ff0000"/><rect x="382" y="446" width="3" height="11" fill="#ff0000"/><rect x="383" y="447" width="1" height="9" fill="#ff4500"/><rect x="387" y="436" width="1" height="14" fill="#2fcc2f"/><rect x="386" y="446" width="3" height="4" fill="#2fcc2f"/><rect x="391" y="440" width="1" height="17" fill="#ff0000"/><rect x="390" y="441" width="3" height="3" fill="#ff0000"/><rect x="391" y="442" width="1" height="1" fill="#ff4500"/><rect x="395" y="441" width="1" height="26" fill="#2fcc2f"/><rect x="394" y="441" width="3" height="7" fill="#2fcc2f"/><rect x="399" y="423" width="1" height="37" fill="#ff0000"/><rect x="398" y="428" width="3" height="19" fill="#ff0000"/><rect x="399" y="429" width="1" height="17" fill="#ff4500"/><rect x="403" y="415" width="1" height="39" fill="#2fcc2f"/><rect x="402" y="428" width="3" height="18" fill="#2fcc2f"/><rect x="407" y="424" width="1" height="28" fill="#ff0000"/><rect x="406" y="439" width="3" height="5" fill="#ff0000"/><rect x="407" y="440" width="1" height="3" fill="#ff4500"/><rect x="411" y="437" width="1" height="10" fill="#2fcc2f"/><rect x="410" y="439" width="3" height="5" fill="#2fcc2f"/><rect x="415" y="437" width="1" height="15" fill="#2fcc2f"/><rect x="414" y="444" width="3" height="4" fill="#2fcc2f"/><rect x="419" y="446" width="1" height="31" fill="#2fcc2f"/><rect x="418" y="447" width="3" height="18" fill="#2fcc2f"/><rect x="423" y="437" width="1" height="28" fill="#ff0000"/><rect x="422" y="457" width="3" height="8" fill="#ff0000"/><rect x="423" y="458" width="1" height="6" fill="#ff4500"/><rect x="427" y="425" width="1" height="42" fill="#ff0000"/><rect x="426" y="426" width="3" height="32" fill="#ff0000"/><rect x="427" y="427" width="1" height="30" fill="#ff4500"/><rect x="431" y="419" width="1" height="28" fill="#2fcc2f"/><rect x="430" y="426" width="3" height="14" fill="#2fcc2f"/><rect x="435" y="438" width="1" height="9" fill="#2fcc2f"/><rect x="434" y="439" width="3" height="7" fill="#2fcc2f"/><rect x="439" y="431" width="1" height="21" fill="#2fcc2f"/><rect x="438" y="443" width="3" height="8" fill="#2fcc2f"/><rect x="443" y="433" width="1" height="21" fill="#ff0000"/><rect x="442" y="433" width="3" height="17" fill="#ff0000"/><rect x="443" y="434" width="1" height="15" fill="#ff4500"/><rect x="447" y="426" width="1" height="28" fill="#ff0000"/><rect x="446" y="433" width="3" height="1" fill="#ff0000"/><rect x="451" y="423" width="1" height="25" fill="#2fcc2f"/><rect x="450" y="433" width="3" height="3" fill="#2fcc2f"/><rect x="455" y="405" width="1" height="39" fill="#ff0000"/><rect x="454" y="406" width="3" height="31" fill="#ff0000"/><rect x="455" y="407" width="1" height="29" fill="#ff4500"/><rect x="459" y="399" width="1" height="9" fill="#ff0000"/><rect x="458" y="403" width="3" height="4" fill="#ff0000"/><rect x="459" y="404" width="1" height="2" fill="#ff4500"/><rect x="463" y="401" width="1" height="21" fill="#2fcc2f"/><rect x="462" y="407" width="3" height="13" fill="#2fcc2f"/><rect x="467" y="387" width="1" height="34" fill="#ff0000"/><rect x="466" y="387" width="3" height="33" fill="#ff0000"/><rect x="467" y="388" width="1" height="31" fill="#ff4500"/><rect x="471" y="387" width="1" height="18" fill="#2fcc2f"/><rect x="470" y="387" width="3" height="18" fill="#2fcc2f"/><rect x="475" y="318" width="1" height="91" fill="#ff0000"/><rect x="474" y="319" width="3" height="85" fill="#ff0000"/><rect x="475" y="320" width="1" height="83" fill="#ff4500"/><rect x="479" y="262" width="1" height="64" fill="#ff0000"/><rect x="478" y="281" width="3" height="39" fill="#ff0000"/><rect x="479" y="282" width="1" height="37" fill="#ff4500"/><rect x="483" y="279" width="1" height="12" fill="#2fcc2f"/><rect x="482" y="281" width="3" height="6" fill="#2fcc2f"/><rect x="487" y="259" width="1" height="55" fill="#2fcc2f"/><rect x="486" y="277" width="3" height="35" fill="#2fcc2f"/><rect x="491" y="296" width="1" height="24" fill="#2fcc2f"/><rect x="490" y="311" width="3" height="4" fill="#2fcc2f"/><rect x="495" y="314" width="1" height="52" fill="#2fcc2f"/><rect x="494" y="314" width="3" height="35" fill="#2fcc2f"/><rect x="499" y="326" width="1" height="26" fill="#ff0000"/><rect x="498" y="326" width="3" height="23" fill="#ff0000"/><rect x="499" y="327" width="1" height="21" fill="#ff4500"/><rect x="503" y="326" width="1" height="31" fill="#2fcc2f"/><rect x="502" y="326" width="3" height="21" fill="#2fcc2f"/><rect x="507" y="339" width="1" height="9" fill="#ff0000"/><rect x="506" y="340" width="3" height="7" fill="#ff0000"/><rect x="507" y="341" width="1" height="5" fill="#ff4500"/><rect x="511" y="322" width="1" height="28" fill="#ff0000"/><rect x="510" y="332" width="3" height="13" fill="#ff0000"/><rect x="511" y="333" width="1" height="11" fill="#ff4500"/><rect x="515" y="299" width="1" height="33" fill="#ff0000"/><rect x="514" y="308" width="3" height="24" fill="#ff0000"/><rect x="515" y="309" width="1" height="22" fill="#ff4500"/><rect x="519" y="287" width="1" height="32" fill="#ff0000"/><rect x="518" y="296" width="3" height="13" fill="#ff0000"/><rect x="519" y="297" width="1" height="11" fill="#ff4500"/><rect x="523" y="285" width="1" height="30" fill="#ff0000"/><rect x="522" y="295" width="3" height="2" fill="#ff0000"/><rect x="527" y="275" width="1" height="49" fill="#2fcc2f"/><rect x="526" y="295" width="3" height="27" fill="#2fcc2f"/><rect x="531" y="320" width="1" height="20" fill="#2fcc2f"/><rect x="530" y="322" width="3" height="13" fill="#2fcc2f"/><rect x="535" y="311" width="1" height="21" fill="#ff0000"/><rect x="534" y="329" width="3" height="2" fill="#ff0000"/><rect x="539" y="255" width="1" height="88" fill="#ff0000"/><rect x="538" y="268" width="3" height="61" fill="#ff0000"/><rect x="539" y="269" width="1" height="59" fill="#ff4500"/><rect x="543" y="244" width="1" height="44" fill="#ff0000"/><rect x="542" y="249" width="3" height="20" fill="#ff0000"/><rect x="543" y="250" width="1" height="18" fill="#ff4500"/><rect x="547" y="212" width="1" height="65" fill="#ff0000"/><rect x="546" y="237" width="3" height="13" fill="#ff0000"/><rect x="547" y="238" width="1" height="11" fill="#ff4500"/><rect x="551" y="227" width="1" height="41" fill="#2fcc2f"/><rect x="550" y="237" width="3" height="27" fill="#2fcc2f"/><rect x="555" y="260" width="1" height="15" fill="#2fcc2f"/><rect x="554" y="263" width="3" height="11" fill="#2fcc2f"/><rect x="559" y="246" width="1" height="32" fill="#ff0000"/><rect x="558" y="273" width="3" height="1" fill="#ff0000"/><rect x="563" y="235" width="1" height="45" fill="#ff0000"/><rect x="562" y="248" width="3" height="25" fill="#ff0000"/><rect x="563" y="249" width="1" height="23" fill="#ff4500"/><rect x="567" y="241" width="1" height="47" fill="#ff0000"/><rect x="566" y="242" width="3" height="7" fill="#ff0000"/><rect x="567" y="243" width="1" height="5" fill="#ff4500"/><rect x="571" y="214" width="1" height="42" fill="#ff0000"/><rect x="570" y="216" width="3" height="27" fill="#ff0000"/><rect x="571" y="217" width="1" height="25" fill="#ff4500"/><rect x="575" y="201" width="1" height="25" fill="#ff0000"/><rect x="574" y="213" width="3" height="3" fill="#ff0000"/><rect x="575" y="214" width="1" height="1" fill="#ff4500"/><rect x="579" y="204" width="1" height="14" fill="#ff0000"/><rect x="578" y="204" width="3" height="10" fill="#ff0000"/><rect x="579" y="205" width="1" height="8" fill="#ff4500"/><rect x="583" y="114" width="1" height="88" fill="#ff0000"/><rect x="582" y="138" width="3" height="61" fill="#ff0000"/><rect x="583" y="139" width="1" height="59" fill="#ff4500"/><rect x="587" y="123" width="1" height="30" fill="#2fcc2f"/><rect x="586" y="139" width="3" height="13" fill="#2fcc2f"/><rect x="591" y="148" width="1" height="94" fill="#2fcc2f"/><rect x="590" y="151" width="3" height="84" fill="#2fcc2f"/><rect x="595" y="210" width="1" height="31" fill="#ff0000"/><rect x="594" y="217" width="3" height="18" fill="#ff0000"/><rect x="595" y="218" width="1" height="16" fill="#ff4500"/><rect x="599" y="204" width="1" height="26" fill="#ff0000"/><rect x="598" y="215" width="3" height="3" fill="#ff0000"/><rect x="599" y="216" width="1" height="1" fill="#ff4500"/><rect x="603" y="215" width="1" height="5" fill="#2fcc2f"/><rect x="602" y="215" width="3" height="5" fill="#2fcc2f"/><rect x="607" y="212" width="1" height="29" fill="#2fcc2f"/><rect x="606" y="221" width="3" height="15" fill="#2fcc2f"/><rect x="611" y="210" width="1" height="27" fill="#ff0000"/><rect x="610" y="216" width="3" height="20" fill="#ff0000"/><rect x="611" y="217" width="1" height="18" fill="#ff4500"/><rect x="615" y="205" width="1" height="24" fill="#2fcc2f"/><rect x="614" y="216" width="3" height="9" fill="#2fcc2f"/><rect x="619" y="206" width="1" height="77" fill="#2fcc2f"/><rect x="618" y="224" width="3" height="57" fill="#2fcc2f"/><rect x="623" y="258" width="1" height="31" fill="#ff0000"/><rect x="622" y="268" width="3" height="13" fill="#ff0000"/><rect x="623" y="269" width="1" height="11" fill="#ff4500"/><rect x="627" y="257" width="1" height="12" fill="#ff0000"/><rect x="626" y="262" width="3" height="7" fill="#ff0000"/><rect x="627" y="263" width="1" height="5" fill="#ff4500"/><rect x="631" y="251" width="1" height="24" fill="#ff0000"/><rect x="630" y="252" width="3" height="14" fill="#ff0000"/><rect x="631" y="253" width="1" height="12" fill="#ff4500"/><rect x="635" y="218" width="1" height="41" fill="#ff0000"/><rect x="634" y="230" width="3" height="22" fill="#ff0000"/><rect x="635" y="231" width="1" height="20" fill="#ff4500"/><rect x="639" y="224" width="1" height="23" fill="#ff0000"/><rect x="638" y="229" width="3" height="1" fill="#ff0000"/><rect x="643" y="228" width="1" height="37" fill="#2fcc2f"/><rect x="642" y="230" width="3" height="30" fill="#2fcc2f"/><rect x="647" y="216" width="1" height="44" fill="#ff0000"/><rect x="646" y="224" width="3" height="36" fill="#ff0000"/><rect x="647" y="225" width="1" height="34" fill="#ff4500"/><rect x="651" y="222" width="1" height="9" fill="#2fcc2f"/><rect x="650" y="224" width="3" height="3" fill="#2fcc2f"/><rect x="655" y="213" width="1" height="26" fill="#ff0000"/><rect x="654" y="220" width="3" height="1" fill="#ff0000"/><rect x="659" y="212" width="1" height="32" fill="#2fcc2f"/><rect x="658" y="220" width="3" height="19" fill="#2fcc2f"/><rect x="663" y="231" width="1" height="27" fill="#2fcc2f"/><rect x="662" y="238" width="3" height="9" fill="#2fcc2f"/><rect x="667" y="240" width="1" height="19" fill="#ff0000"/><rect x="666" y="243" width="3" height="4" fill="#ff0000"/><rect x="667" y="244" width="1" height="2" fill="#ff4500"/><rect x="671" y="238" width="1" height="15" fill="#2fcc2f"/><rect x="670" y="244" width="3" height="4" fill="#2fcc2f"/><rect x="675" y="245" width="1" height="6" fill="#ff0000"/><rect x="674" y="245" width="3" height="3" fill="#ff0000"/><rect x="675" y="246" width="1" height="1" fill="#ff4500"/><rect x="679" y="215" width="1" height="33" fill="#ff0000"/><rect x="678" y="221" width="3" height="26" fill="#ff0000"/><rect x="679" y="222" width="1" height="24" fill="#ff4500"/><rect x="683" y="192" width="1" height="32" fill="#ff0000"/><rect x="682" y="197" width="3" height="26" fill="#ff0000"/><rect x="683" y="198" width="1" height="24" fill="#ff4500"/><rect x="687" y="185" width="1" height="23" fill="#ff0000"/><rect x="686" y="190" width="3" height="8" fill="#ff0000"/><rect x="687" y="191" width="1" height="6" fill="#ff4500"/><rect x="691" y="109" width="1" height="93" fill="#ff0000"/><rect x="690" y="120" width="3" height="71" fill="#ff0000"/><rect x="691" y="121" width="1" height="69" fill="#ff4500"/><rect x="695" y="50" width="1" height="73" fill="#ff0000"/><rect x="694" y="94" width="3" height="28" fill="#ff0000"/><rect x="695" y="95" width="1" height="26" fill="#ff4500"/><rect x="699" y="92" width="1" height="9" fill="#2fcc2f"/><rect x="698" y="93" width="3" height="3" fill="#2fcc2f"/><rect x="703" y="104" width="1" height="77" fill="#2fcc2f"/><rect x="702" y="104" width="3" height="74" fill="#2fcc2f"/><rect x="707" y="175" width="1" height="43" fill="#2fcc2f"/><rect x="706" y="177" width="3" height="25" fill="#2fcc2f"/><rect x="711" y="188" width="1" height="26" fill="#ff0000"/><rect x="710" y="196" width="3" height="6" fill="#ff0000"/><rect x="711" y="197" width="1" height="4" fill="#ff4500"/><rect x="715" y="182" width="1" height="32" fill="#ff0000"/><rect x="714" y="183" width="3" height="13" fill="#ff0000"/><rect x="715" y="184" width="1" height="11" fill="#ff4500"/><rect x="719" y="159" width="1" height="43" fill="#2fcc2f"/><rect x="718" y="183" width="3" height="19" fill="#2fcc2f"/><rect x="723" y="198" width="1" height="7" fill="#ff0000"/><rect x="722" y="199" width="3" height="3" fill="#ff0000"/><rect x="723" y="200" width="1" height="1" fill="#ff4500"/><rect x="727" y="192" width="1" height="27" fill="#2fcc2f"/><rect x="726" y="201" width="3" height="4" fill="#2fcc2f"/><rect x="731" y="183" width="1" height="38" fill="#ff0000"/><rect x="730" y="194" width="3" height="11" fill="#ff0000"/><rect x="731" y="195" width="1" height="9" fill="#ff4500"/><rect x="735" y="191" width="1" height="25" fill="#2fcc2f"/><rect x="734" y="194" width="3" height="6" fill="#2fcc2f"/><rect x="739" y="190" width="1" height="40" fill="#2fcc2f"/><rect x="738" y="202" width="3" height="24" fill="#2fcc2f"/><rect x="743" y="223" width="1" height="33" fill="#2fcc2f"/><rect x="742" y="225" width="3" height="18" fill="#2fcc2f"/><rect x="747" y="240" width="1" height="12" fill="#2fcc2f"/><rect x="746" y="242" width="3" height="5" fill="#2fcc2f"/><rect x="751" y="226" width="1" height="17" fill="#ff0000"/><rect x="750" y="238" width="3" height="4" fill="#ff0000"/><rect x="751" y="239" width="1" height="2" fill="#ff4500"/><rect x="755" y="188" width="1" height="57" fill="#ff0000"/><rect x="754" y="197" width="3" height="41" fill="#ff0000"/><rect x="755" y="198" width="1" height="39" fill="#ff4500"/><rect x="759" y="134" width="1" height="66" fill="#ff0000"/><rect x="758" y="171" width="3" height="27" fill="#ff0000"/><rect x="759" y="172" width="1" height="25" fill="#ff4500"/><rect x="763" y="150" width="1" height="38" fill="#2fcc2f"/><rect x="762" y="171" width="3" height="14" fill="#2fcc2f"/><rect x="767" y="175" width="1" height="41" fill="#2fcc2f"/><rect x="766" y="185" width="3" height="8" fill="#2fcc2f"/><rect x="771" y="178" width="1" height="18" fill="#ff0000"/><rect x="770" y="181" width="3" height="12" fill="#ff0000"/><rect x="771" y="182" width="1" height="10" fill="#ff4500"/><rect x="775" y="165" width="1" height="25" fill="#2fcc2f"/><rect x="774" y="169" width="3" height="20" fill="#2fcc2f"/><rect x="779" y="169" width="1" height="39" fill="#ff0000"/><rect x="778" y="178" width="3" height="11" fill="#ff0000"/><rect x="779" y="179" width="1" height="9" fill="#ff4500"/><rect x="783" y="158" width="1" height="35" fill="#2fcc2f"/><rect x="782" y="178" width="3" height="6" fill="#2fcc2f"/><rect x="787" y="163" width="1" height="37" fill="#ff0000"/><rect x="786" y="171" width="3" height="13" fill="#ff0000"/><rect x="787" y="172" width="1" height="11" fill="#ff4500"/><rect x="791" y="134" width="1" height="58" fill="#ff0000"/><rect x="790" y="144" width="3" height="28" fill="#ff0000"/><rect x="791" y="145" width="1" height="26" fill="#ff4500"/><rect x="795" y="136" width="1" height="16" fill="#ff0000"/><rect x="794" y="141" width="3" height="3" fill="#ff0000"/><rect x="795" y="142" width="1" height="1" fill="#ff4500"/><rect x="799" y="74" width="1" height="62" fill="#ff0000"/><rect x="798" y="108" width="3" height="26" fill="#ff0000"/><rect x="799" y="109" width="1" height="24" fill="#ff4500"/><rect x="803" y="95" width="1" height="49" fill="#2fcc2f"/><rect x="802" y="108" width="3" height="15" fill="#2fcc2f"/><rect x="807" y="105" width="1" height="47" fill="#2fcc2f"/><rect x="806" y="122" width="3" height="25" fill="#2fcc2f"/><rect x="811" y="119" width="1" height="74" fill="#2fcc2f"/><rect x="810" y="147" width="3" height="34" fill="#2fcc2f"/><rect x="815" y="149" width="1" height="42" fill="#ff0000"/><rect x="814" y="174" width="3" height="7" fill="#ff0000"/><rect x="815" y="175" width="1" height="5" fill="#ff4500"/><rect x="819" y="174" width="1" height="11" fill="#2fcc2f"/><rect x="818" y="174" width="3" height="7" fill="#2fcc2f"/><rect x="823" y="175" width="1" height="29" fill="#2fcc2f"/><rect x="822" y="183" width="3" height="6" fill="#2fcc2f"/><rect x="827" y="159" width="1" height="52" fill="#ff0000"/><rect x="826" y="165" width="3" height="24" fill="#ff0000"/><rect x="827" y="166" width="1" height="22" fill="#ff4500"/><rect x="831" y="136" width="1" height="42" fill="#ff0000"/><rect x="830" y="138" width="3" height="27" fill="#ff0000"/><rect x="831" y="139" width="1" height="25" fill="#ff4500"/><rect x="835" y="129" width="1" height="66" fill="#2fcc2f"/><rect x="834" y="140" width="3" height="35" fill="#2fcc2f"/><rect x="839" y="146" width="1" height="42" fill="#2fcc2f"/><rect x="838" y="174" width="3" height="8" fill="#2fcc2f"/><rect x="843" y="179" width="1" height="17" fill="#2fcc2f"/><rect x="842" y="181" width="3" height="11" fill="#2fcc2f"/><rect x="847" y="183" width="1" height="45" fill="#2fcc2f"/><rect x="846" y="198" width="3" height="21" fill="#2fcc2f"/><rect x="851" y="194" width="1" height="39" fill="#2fcc2f"/><rect x="850" y="219" width="3" height="7" fill="#2fcc2f"/><rect x="855" y="186" width="1" height="41" fill="#ff0000"/><rect x="854" y="201" width="3" height="25" fill="#ff0000"/><rect x="855" y="202" width="1" height="23" fill="#ff4500"/><rect x="859" y="197" width="1" height="39" fill="#2fcc2f"/><rect x="858" y="201" width="3" height="32" fill="#2fcc2f"/><rect x="863" y="224" width="1" height="52" fill="#2fcc2f"/><rect x="862" y="232" width="3" height="32" fill="#2fcc2f"/><rect x="867" y="256" width="1" height="17" fill="#2fcc2f"/><rect x="866" y="263" width="3" height="9" fill="#2fcc2f"/><rect x="871" y="259" width="1" height="19" fill="#2fcc2f"/><rect x="870" y="263" width="3" height="10" fill="#2fcc2f"/><rect x="875" y="253" width="1" height="28" fill="#2fcc2f"/><rect x="874" y="272" width="3" height="9" fill="#2fcc2f"/><rect x="879" y="262" width="1" height="22" fill="#ff0000"/><rect x="878" y="275" width="3" height="6" fill="#ff0000"/><rect x="879" y="276" width="1" height="4" fill="#ff4500"/><rect x="883" y="275" width="1" height="44" fill="#2fcc2f"/><rect x="882" y="275" width="3" height="41" fill="#2fcc2f"/><rect x="887" y="302" width="1" height="26" fill="#ff0000"/><rect x="886" y="303" width="3" height="13" fill="#ff0000"/><rect x="887" y="304" width="1" height="11" fill="#ff4500"/><rect x="891" y="299" width="1" height="7" fill="#2fcc2f"/><rect x="890" y="304" width="3" height="2" fill="#2fcc2f"/><rect x="895" y="294" width="1" height="27" fill="#2fcc2f"/><rect x="894" y="313" width="3" height="3" fill="#2fcc2f"/><rect x="899" y="305" width="1" height="34" fill="#2fcc2f"/><rect x="898" y="315" width="3" height="5" fill="#2fcc2f"/><rect x="903" y="312" width="1" height="24" fill="#2fcc2f"/><rect x="902" y="319" width="3" height="13" fill="#2fcc2f"/><rect x="907" y="318" width="1" height="31" fill="#ff0000"/><rect x="906" y="324" width="3" height="8" fill="#ff0000"/><rect x="907" y="325" width="1" height="6" fill="#ff4500"/><rect x="911" y="304" width="1" height="31" fill="#ff0000"/><rect x="910" y="305" width="3" height="19" fill="#ff0000"/><rect x="911" y="306" width="1" height="17" fill="#ff4500"/><rect x="915" y="303" width="1" height="13" fill="#2fcc2f"/><rect x="914" y="305" width="3" height="9" fill="#2fcc2f"/><rect x="919" y="303" width="1" height="24" fill="#ff0000"/><rect x="918" y="310" width="3" height="3" fill="#ff0000"/><rect x="919" y="311" width="1" height="1" fill="#ff4500"/><rect x="923" y="298" width="1" height="12" fill="#ff0000"/><rect x="922" y="306" width="3" height="4" fill="#ff0000"/><rect x="923" y="307" width="1" height="2" fill="#ff4500"/></g>
<g fill="#c0c0c0"><rect x="3" y="531" width="2" height="1"/><rect x="6" y="529" width="3" height="2"/><rect x="10" y="527" width="3" height="4"/><rect x="14" y="527" width="3" height="4"/><rect x="18" y="525" width="3" height="6"/><rect x="22" y="526" width="3" height="5"/><rect x="26" y="527" width="3" height="4"/><rect x="30" y="529" width="3" height="2"/><rect x="34" y="530" width="3" height="1"/><rect x="38" y="531" width="3" height="2"/><rect x="42" y="531" width="3" height="4"/><rect x="46" y="531" width="3" height="5"/><rect x="50" y="531" width="3" height="6"/><rect x="54" y="531" width="3" height="8"/><rect x="58" y="531" width="3" height="8"/><rect x="62" y="531" width="3" height="7"/><rect x="66" y="531" width="3" height="7"/><rect x="70" y="531" width="3" height="9"/><rect x="74" y="531" width="3" height="11"/><rect x="78" y="531" width="3" height="12"/><rect x="82" y="531" width="3" height="13"/><rect x="86" y="531" width="3" height="15"/><rect x="90" y="531" width="3" height="18"/><rect x="94" y="531" width="3" height="16"/><rect x="98" y="531" width="3" height="11"/><rect x="102" y="531" width="3" height="11"/><rect x="106" y="531" width="3" height="11"/><rect x="110" y="531" width="3" height="11"/><rect x="114" y="531" width="3" height="11"/><rect x="118" y="531" width="3" height="9"/><rect x="122" y="531" width="3" height="8"/><rect x="126" y="531" width="3" height="7"/><rect x="130" y="531" width="3" height="6"/><rect x="134" y="531" width="3" height="6"/><rect x="138" y="531" width="3" height="8"/><rect x="142" y="531" width="3" height="11"/><rect x="146" y="531" width="3" height="15"/><rect x="150" y="531" width="3" height="16"/><rect x="154" y="531" width="3" height="19"/><rect x="158" y="531" width="3" height="20"/><rect x="162" y="531" width="3" height="21"/><rect x="166" y="531" width="3" height="20"/><rect x="170" y="531" width="3" height="20"/><rect x="174" y="531" width="3" height="17"/><rect x="178" y="531" width="3" height="16"/><rect x="182" y="531" width="3" height="14"/><rect x="186" y="531" width="3" height="11"/><rect x="190" y="531" width="3" height="9"/><rect x="194" y="531" width="3" height="7"/><rect x="198" y="531" width="3" height="5"/><rect x="202" y="531" width="3" height="3"/><rect x="206" y="531" width="3" height="3"/><rect x="210" y="531" width="3" height="3"/><rect x="214" y="531" width="3" height="3"/><rect x="218" y="531" width="3" height="3"/><rect x="222" y="531" width="3" height="4"/><rect x="226" y="531" width="3" height="5"/><rect x="230" y="531" width="3" height="3"/><rect x="234" y="531" width="3" height="3"/><rect x="238" y="531" width="3" height="3"/><rect x="242" y="531" width="3" height="4"/><rect x="246" y="531" width="3" height="3"/><rect x="250" y="531" width="3" height="4"/><rect x="254" y="531" width="3" height="5"/><rect x="258" y="531" width="3" height="5"/><rect x="262" y="531" width="3" height="5"/><rect x="266" y="531" width="3" height="5"/><rect x="270" y="531" width="3" height="5"/><rect x="274" y="531" width="3" height="5"/><rect x="278" y="531" width="3" height="5"/><rect x="282" y="531" width="3" height="5"/><rect x="286" y="531" width="3" height="7"/><rect x="290" y="531" width="3" height="8"/><rect x="294" y="531" width="3" height="9"/><rect x="298" y="531" width="3" height="12"/><rect x="302" y="531" width="3" height="15"/><rect x="306" y="531" width="3" height="19"/><rect x="310" y="531" width="3" height="21"/><rect x="314" y="531" width="3" height="24"/><rect x="318" y="531" width="3" height="25"/><rect x="322" y="531" width="3" height="25"/><rect x="326" y="531" width="3" height="26"/><rect x="330" y="531" width="3" height="29"/><rect x="334" y="531" width="3" height="32"/><rect x="338" y="531" width="3" height="34"/><rect x="342" y="531" width="3" height="37"/><rect x="346" y="531" width="3" height="38"/><rect x="350" y="531" width="3" height="39"/><rect x="354" y="531" width="3" height="38"/><rect x="358" y="531" width="3" height="37"/><rect x="362" y="531" width="3" height="36"/><rect x="366" y="531" width="3" height="36"/><rect x="370" y="531" width="3" height="37"/><rect x="374" y="531" width="3" height="35"/><rect x="378" y="531" width="3" height="35"/><rect x="382" y="531" width="3" height="34"/><rect x="386" y="531" width="3" height="33"/><rect x="390" y="531" width="3" height="31"/><rect x="394" y="531" width="3" height="30"/><rect x="398" y="531" width="3" height="27"/><rect x="402" y="531" width="3" height="26"/><rect x="406" y="531" width="3" height="24"/><rect x="410" y="531" width="3" height="23"/><rect x="414" y="531" width="3" height="22"/><rect x="418" y="531" width="3" height="22"/><rect x="422" y="531" width="3" height="21"/><rect x="426" y="531" width="3" height="18"/><rect x="430" y="531" width="3" height="17"/><rect x="434" y="531" width="3" height="16"/><rect x="438" y="531" width="3" height="15"/><rect x="442" y="531" width="3" height="14"/><rect x="446" y="531" width="3" height="12"/><rect x="450" y="531" width="3" height="11"/><rect x="454" y="531" width="3" height="8"/><rect x="458" y="531" width="3" height="6"/><rect x="462" y="531" width="3" height="5"/><rect x="466" y="531" width="3" height="2"/><rect x="470" y="530" width="3" height="1"/><rect x="474" y="524" width="3" height="7"/><rect x="478" y="517" width="3" height="14"/><rect x="482" y="512" width="3" height="19"/><rect x="486" y="510" width="3" height="21"/><rect x="490" y="508" width="3" height="23"/><rect x="494" y="510" width="3" height="21"/><rect x="498" y="510" width="3" height="21"/><rect x="502" y="511" width="3" height="20"/><rect x="506" y="512" width="3" height="19"/><rect x="510" y="511" width="3" height="20"/><rect x="514" y="511" width="3" height="20"/><rect x="518" y="510" width="3" height="21"/><rect x="522" y="509" width="3" height="22"/><rect x="526" y="512" width="3" height="19"/><rect x="530" y="513" width="3" height="18"/><rect x="534" y="514" width="3" height="17"/><rect x="538" y="513" width="3" height="18"/><rect x="542" y="509" width="3" height="22"/><rect x="546" y="506" width="3" height="25"/><rect x="550" y="506" width="3" height="25"/><rect x="554" y="506" width="3" height="25"/><rect x="558" y="507" width="3" height="24"/><rect x="562" y="506" width="3" height="25"/><rect x="566" y="506" width="3" height="25"/><rect x="570" y="504" width="3" height="27"/><rect x="574" y="503" width="3" height="28"/><rect x="578" y="502" width="3" height="29"/><rect x="582" y="497" width="3" height="34"/><rect x="586" y="494" width="3" height="37"/><rect x="590" y="498" width="3" height="33"/><rect x="594" y="500" width="3" height="31"/><rect x="598" y="502" width="3" height="29"/><rect x="602" y="504" width="3" height="27"/><rect x="606" y="507" width="3" height="24"/><rect x="610" y="508" width="3" height="23"/><rect x="614" y="510" width="3" height="21"/><rect x="618" y="515" width="3" height="16"/><rect x="622" y="519" width="3" height="12"/><rect x="626" y="521" width="3" height="10"/><rect x="630" y="522" width="3" height="9"/><rect x="634" y="522" width="3" height="9"/><rect x="638" y="522" width="3" height="9"/><rect x="642" y="524" width="3" height="7"/><rect x="646" y="523" width="3" height="8"/><rect x="650" y="523" width="3" height="8"/><rect x="654" y="523" width="3" height="8"/><rect x="658" y="524" width="3" height="7"/><rect x="662" y="525" width="3" height="6"/><rect x="666" y="526" width="3" height="5"/><rect x="670" y="526" width="3" height="5"/><rect x="674" y="527" width="3" height="4"/><rect x="678" y="526" width="3" height="5"/><rect x="682" y="525" width="3" height="6"/><rect x="686" y="522" width="3" height="9"/><rect x="690" y="516" width="3" height="15"/><rect x="694" y="510" width="3" height="21"/><rect x="698" y="506" width="3" height="25"/><rect x="702" y="508" width="3" height="23"/><rect x="706" y="511" width="3" height="20"/><rect x="710" y="513" width="3" height="18"/><rect x="714" y="515" width="3" height="16"/><rect x="718" y="517" width="3" height="14"/><rect x="722" y="519" width="3" height="12"/><rect x="726" y="521" width="3" height="10"/><rect x="730" y="522" width="3" height="9"/><rect x="734" y="523" width="3" height="8"/><rect x="738" y="525" width="3" height="6"/><rect x="742" y="529" width="3" height="2"/><rect x="746" y="531" width="3" height="1"/><rect x="750" y="531" width="3" height="3"/><rect x="754" y="531" width="3" height="2"/><rect x="758" y="529" width="3" height="2"/><rect x="762" y="528" width="3" height="3"/><rect x="766" y="527" width="3" height="4"/><rect x="770" y="526" width="3" height="5"/><rect x="774" y="526" width="3" height="5"/><rect x="778" y="525" width="3" height="6"/><rect x="782" y="525" width="3" height="6"/><rect x="786" y="524" width="3" height="7"/><rect x="790" y="522" width="3" height="9"/><rect x="794" y="520" width="3" height="11"/><rect x="798" y="517" width="3" height="14"/><rect x="802" y="515" width="3" height="16"/><rect x="806" y="515" width="3" height="16"/><rect x="810" y="518" width="3" height="13"/><rect x="814" y="520" width="3" height="11"/><rect x="818" y="522" width="3" height="9"/><rect x="822" y="524" width="3" height="7"/><rect x="826" y="524" width="3" height="7"/><rect x="830" y="523" width="3" height="8"/><rect x="834" y="524" width="3" height="7"/><rect x="838" y="525" width="3" height="6"/><rect x="842" y="527" width="3" height="4"/><rect x="846" y="530" width="3" height="1"/><rect x="850" y="531" width="3" height="3"/><rect x="854" y="531" width="3" height="4"/><rect x="858" y="531" width="3" height="6"/><rect x="862" y="531" width="3" height="10"/><rect x="866" y="531" width="3" height="14"/><rect x="870" y="531" width="3" height="16"/><rect x="874" y="531" width="3" height="18"/><rect x="878" y="531" width="3" height="20"/><rect x="882" y="531" width="3" height="23"/><rect x="886" y="531" width="3" height="25"/><rect x="890" y="531" width="3" height="26"/><rect x="894" y="531" width="3" height="27"/><rect x="898" y="531" width="3" height="28"/><rect x="902" y="531" width="3" height="29"/><rect x="906" y="531" width="3" height="29"/><rect x="910" y="531" width="3" height="28"/><rect x="914" y="531" width="3" height="26"/><rect x="918" y="531" width="3" height="25"/><rect x="922" y="531" width="3" height="24"/></g>
<path d="M3 538h1v1h-1zM4 537h1v1h-1zM5 537h1v1h-1zM6 537h1v1h-1zM7 536h1v1h-1zM8 536h1v1h-1zM9 535h1v1h-1zM10 535h1v1h-1zM11 535h1v1h-1zM12 534h1v1h-1zM13 534h1v1h-1zM14 533h1v1h-1zM15 533h1v1h-1zM16 532h1v1h-1zM17 532h1v1h-1zM18 531h1v1h-1zM19 531h1v1h-1zM20 530h1v1h-1zM21 530h1v1h-1zM22 530h1v1h-1zM23 529h1v1h-1zM24 529h1v1h-1zM25 529h1v1h-1zM26 528h1v1h-1zM27 528h1v1h-1zM28 528h1v1h-1zM29 528h1v1h-1zM30 528h1v1h-1zM31 528h1v1h-1zM32 528h1v1h-1zM33 528h1v1h-1zM34 528h1v1h-1zM35 528h1v1h-1zM36 528h1v1h-1zM37 528h1v1h-1zM38 528h1v1h-1zM39 528h1v1h-1zM40 528h1v1h-1zM41 528h1v1h-1zM42 528h1v1h-1zM43 528h1v1h-1zM44 528h1v1h-1zM45 528h1v1h-1zM46 529h1v1h-1zM47 529h1v1h-1zM48 529h1v1h-1zM49 529h1v1h-1zM50 530h1v1h-1zM51 530h1v1h-1zM52 531h1v1h-1zM53 531h1v1h-1zM54 531h1v1h-1zM55 532h1v1h-1zM56 532h1v1h-1zM57 532h1v1h-1zM58 533h1v1h-1zM59 533h1v1h-1zM60 533h1v1h-1zM61 534h1v1h-1zM62 534h1v1h-1zM63 534h1v1h-1zM64 535h1v1h-1zM65 535h1v1h-1zM66 535h1v1h-1zM67 535h1v1h-1zM68 536h1v1h-1zM69 536h1v1h-1zM70 536h1v1h-1zM71 536h1v1h-1zM72 537h1v1h-1zM73 537h1v1h-1zM74 537h1v1h-1zM75 537h1v1h-1zM76 538h1v1h-1zM77 538h1v1h-1zM78 538h1v1h-1zM79 538h1v1h-1zM80 539h1v1h-1zM81 539h1v1h-1zM82 539h1v1h-1zM83 539h1v1h-1zM84 540h1v1h-1zM85 540h1v1h-1zM86 540h1v1h-1zM87 540h1v1h-1zM88 541h1v1h-1zM89 541h1v1h-1zM90 541h1v1h-1zM91 542h1v1h-1zM92 542h1v1h-1zM93 542h1v1h-1zM94 543h1v1h-1zM95 543h1v1h-1zM96 543h1v1h-1zM97 543h1v1h-1zM98 543h1v1h-1zM99 543h1v1h-1zM100 543h1v1h-1zM101 543h1v1h-1zM102 543h1v1h-1zM103 543h1v1h-1zM104 543h1v1h-1zM105 543h1v1h-1zM106 543h1v1h-1zM107 543h1v1h-1zM108 543h1v1h-1zM109 543h1v1h-1zM110 543h1v1h-1zM111 543h1v1h-1zM112 543h1v1h-1zM113 543h1v1h-1zM114 543h1v1h-1zM115 543h1v1h-1zM116 543h1v1h-1zM117 543h1v1h-1zM118 543h1v1h-1zM119 543h1v1h-1zM120 542h1v1h-1zM121 542h1v1h-1zM122 542h1v1h-1zM123 542h1v1h-1zM124 541h1v1h-1zM125 541h1v1h-1zM126 541h1v1h-1zM127 541h1v1h-1zM128 540h1v1h-1zM129 540h1v1h-1zM130 540h1v1h-1zM131 539h1v1h-1zM132 539h1v1h-1zM133 539h1v1h-1zM134 538h1v1h-1zM135 538h1v1h-1zM136 538h1v1h-1zM137 538h1v1h-1zM138 538h1v1h-1zM139 538h1v1h-1zM140 538h1v1h-1zM141 538h1v1h-1zM142 538h1v1h-1zM143 538h1v1h-1zM144 538h1v1h-1zM145 538h1v1h-1zM146 538h1v1h-1zM147 538h1v1h-1zM148 538h1v1h-1zM149 539h1v1h-1zM150 539h1v1h-1zM151 539h1v1h-1zM152 539h1v1h-1zM153 540h1v1h-1zM154 540h1v1h-1zM155 540h1v1h-1zM156 541h1v1h-1zM157 541h1v1h-1zM158 541h1v1h-1zM159 542h1v1h-1zM160 542h1v1h-1zM161 543h1v1h-1zM162 543h1v1h-1zM163 543h1v1h-1zM164 544h1v1h-1zM165 544h1v1h-1zM166 545h1v1h-1zM167 545h1v1h-1zM168 545h1v1h-1zM169 546h1v1h-1zM170 546h1v1h-1zM171 547h1v1h-1zM172 547h1v1h-1zM173 547h1v1h-1zM174 548h1v1h-1zM175 548h1v1h-1zM176 548h1v1h-1zM177 548h1v1h-1zM178 548h1v1h-1zM179 548h1v1h-1zM180 548h1v1h-1zM181 548h1v1h-1zM182 548h1v1h-1zM183 548h1v1h-1zM184 548h1v1h-1zM185 548h1v1h-1zM186 548h1v1h-1zM187 547h1v1h-1zM188 547h1v1h-1zM189 547h1v1h-1zM190 546h1v1h-1zM191 546h1v1h-1zM192 546h1v1h-1zM193 545h1v1h-1zM194 545h1v1h-1zM195 545h1v1h-1zM196 544h1v1h-1zM197 544h1v1h-1zM198 544h1v1h-1zM199 543h1v1h-1zM200 543h1v1h-1zM201 542h1v1h-1zM202 542h1v1h-1zM203 542h1v1h-1zM204 541h1v1h-1zM205 541h1v1h-1zM206 540h1v1h-1zM207 540h1v1h-1zM208 540h1v1h-1zM209 539h1v1h-1zM210 539h1v1h-1zM211 538h1v1h-1zM212 538h1v1h-1zM213 537h1v1h-1zM214 537h1v1h-1zM215 536h1v1h-1zM216 536h1v1h-1zM217 535h1v1h-1zM218 535h1v1h-1zM219 535h1v1h-1zM220 535h1v1h-1zM221 535h1v1h-1zM222 535h1v1h-1zM223 535h1v1h-1zM224 534h1v1h-1zM225 534h1v1h-1zM226 534h1v1h-1zM227 534h1v1h-1zM228 534h1v1h-1zM229 534h1v1h-1zM230 533h1v1h-1zM231 533h1v1h-1zM232 533h1v1h-1zM233 533h1v1h-1zM234 533h1v1h-1zM235 533h1v1h-1zM236 533h1v1h-1zM237 533h1v1h-1zM238 533h1v1h-1zM239 533h1v1h-1zM240 533h1v1h-1zM241 533h1v1h-1zM242 533h1v1h-1zM243 533h1v1h-1zM244 533h1v1h-1zM245 533h1v1h-1zM246 533h1v1h-1zM247 533h1v1h-1zM248 533h1v1h-1zM249 533h1v1h-1zM250 533h1v1h-1zM251 533h1v1h-1zM252 533h1v1h-1zM253 534h1v1h-1zM254 534h1v1h-1zM255 534h1v1h-1zM256 534h1v1h-1zM257 534h1v1h-1zM258 534h1v1h-1zM259 534h1v1h-1zM260 534h1v1h-1zM261 534h1v1h-1zM262 534h1v1h-1zM263 534h1v1h-1zM264 534h1v1h-1zM265 534h1v1h-1zM266 534h1v1h-1zM267 534h1v1h-1zM268 534h1v1h-1zM269 534h1v1h-1zM270 534h1v1h-1zM271 534h1v1h-1zM272 534h1v1h-1zM273 534h1v1h-1zM274 535h1v1h-1zM275 535h1v1h-1zM276 535h1v1h-1zM277 535h1v1h-1zM278 535h1v1h-1zM279 535h1v1h-1zM280 535h1v1h-1zM281 535h1v1h-1zM282 535h1v1h-1zM283 535h1v1h-1zM284 536h1v1h-1zM285 536h1v1h-1zM286 536h1v1h-1zM287 536h1v1h-1zM288 536h1v1h-1zM289 536h1v1h-1zM290 536h1v1h-1zM291 536h1v1h-1zM292 536h1v1h-1zM293 536h1v1h-1zM294 537h1v1h-1zM295 537h1v1h-1zM296 537h1v1h-1zM297 537h1v1h-1zM298 537h1v1h-1zM299 537h1v1h-1zM300 537h1v1h-1zM301 537h1v1h-1zM302 537h1v1h-1zM303 538h1v1h-1zM304 538h1v1h-1zM305 539h1v1h-1zM306 539h1v1h-1zM307 540h1v1h-1zM308 540h1v1h-1zM309 541h1v1h-1zM310 542h1v1h-1zM311 542h1v1h-1zM312 543h1v1h-1zM313 543h1v1h-1zM314 544h1v1h-1zM315 544h1v1h-1zM316 545h1v1h-1zM317 545h1v1h-1zM318 546h1v1h-1zM319 546h1v1h-1zM320 547h1v1h-1zM321 547h1v1h-1zM322 548h1v1h-1zM323 548h1v1h-1zM324 549h1v1h-1zM325 549h1v1h-1zM326 550h1v1h-1zM327 550h1v1h-1zM328 551h1v1h-1zM329 551h1v1h-1zM330 552h1v1h-1zM331 552h1v1h-1zM332 553h1v1h-1zM333 553h1v1h-1zM334 554h1v1h-1zM335 554h1v1h-1zM336 555h1v1h-1zM337 555h1v1h-1zM338 556h1v1h-1zM339 556h1v1h-1zM340 557h1v1h-1zM341 557h1v1h-1zM342 558h1v1h-1zM343 558h1v1h-1zM344 559h1v1h-1zM345 559h1v1h-1zM346 560h1v1h-1zM347 560h1v1h-1zM348 561h1v1h-1zM349 561h1v1h-1zM350 562h1v1h-1zM351 562h1v1h-1zM352 563h1v1h-1zM353 563h1v1h-1zM354 563h1v1h-1zM355 563h1v1h-1zM356 564h1v1h-1zM357 564h1v1h-1zM358 564h1v1h-1zM359 564h1v1h-1zM360 565h1v1h-1zM361 565h1v1h-1zM362 565h1v1h-1zM363 565h1v1h-1zM364 566h1v1h-1zM365 566h1v1h-1zM366 566h1v1h-1zM367 566h1v1h-1zM368 567h1v1h-1zM369 567h1v1h-1zM370 567h1v1h-1zM371 567h1v1h-1zM372 567h1v1h-1zM373 567h1v1h-1zM374 567h1v1h-1zM375 567h1v1h-1zM376 567h1v1h-1zM377 567h1v1h-1zM378 567h1v1h-1zM379 567h1v1h-1zM380 567h1v1h-1zM381 567h1v1h-1zM382 566h1v1h-1zM383 566h1v1h-1zM384 566h1v1h-1zM385 566h1v1h-1zM386 566h1v1h-1zM387 566h1v1h-1zM388 565h1v1h-1zM389 565h1v1h-1zM390 565h1v1h-1zM391 565h1v1h-1zM392 564h1v1h-1zM393 564h1v1h-1zM394 564h1v1h-1zM395 564h1v1h-1zM396 563h1v1h-1zM397 563h1v1h-1zM398 563h1v1h-1zM399 563h1v1h-1zM400 562h1v1h-1zM401 562h1v1h-1zM402 562h1v1h-1zM403 561h1v1h-1zM404 561h1v1h-1zM405 561h1v1h-1zM406 560h1v1h-1zM407 560h1v1h-1zM408 560h1v1h-1zM409 559h1v1h-1zM410 559h1v1h-1zM411 559h1v1h-1zM412 558h1v1h-1zM413 558h1v1h-1zM414 558h1v1h-1zM415 557h1v1h-1zM416 557h1v1h-1zM417 557h1v1h-1zM418 556h1v1h-1zM419 556h1v1h-1zM420 556h1v1h-1zM421 556h1v1h-1zM422 555h1v1h-1zM423 555h1v1h-1zM424 555h1v1h-1zM425 555h1v1h-1zM426 554h1v1h-1zM427 554h1v1h-1zM428 553h1v1h-1zM429 553h1v1h-1zM430 552h1v1h-1zM431 552h1v1h-1zM432 551h1v1h-1zM433 551h1v1h-1zM434 551h1v1h-1zM435 551h1v1h-1zM436 551h1v1h-1zM437 551h1v1h-1zM438 550h1v1h-1zM439 550h1v1h-1zM440 550h1v1h-1zM441 550h1v1h-1zM442 549h1v1h-1zM443 549h1v1h-1zM444 549h1v1h-1zM445 548h1v1h-1zM446 548h1v1h-1zM447 548h1v1h-1zM448 547h1v1h-1zM449 547h1v1h-1zM450 546h1v1h-1zM451 546h1v1h-1zM452 546h1v1h-1zM453 546h1v1h-1zM454 545h1v1h-1zM455 545h1v1h-1zM456 545h1v1h-1zM457 544h1v1h-1zM458 544h1v1h-1zM459 543h1v1h-1zM460 542h1v1h-1zM461 542h1v1h-1zM462 541h1v1h-1zM463 541h1v1h-1zM464 541h1v1h-1zM465 540h1v1h-1zM466 540h1v1h-1zM467 540h1v1h-1zM468 539h1v1h-1zM469 539h1v1h-1zM470 538h1v1h-1zM471 537h1v1h-1zM472 537h1v1h-1zM473 536h1v1h-1zM474 536h1v1h-1zM475 535h1v1h-1zM476 534h1v1h-1zM477 534h1v1h-1zM478 533h1v1h-1zM479 532h1v1h-1zM480 531h1v1h-1zM481 530h1v1h-1zM482 529h1v1h-1zM483 528h1v1h-1zM484 527h1v1h-1zM485 526h1v1h-1zM486 526h1v1h-1zM487 525h1v1h-1zM488 524h1v1h-1zM489 523h1v1h-1zM490 523h1v1h-1zM491 522h1v1h-1zM492 521h1v1h-1zM493 520h1v1h-1zM494 520h1v1h-1zM495 519h1v1h-1zM496 518h1v1h-1zM497 517h1v1h-1zM498 517h1v1h-1zM499 516h1v1h-1zM500 516h1v1h-1zM501 515h1v1h-1zM502 515h1v1h-1zM503 514h1v1h-1zM504 514h1v1h-1zM505 513h1v1h-1zM506 513h1v1h-1zM507 512h1v1h-1zM508 512h1v1h-1zM509 512h1v1h-1zM510 511h1v1h-1zM511 511h1v1h-1zM512 511h1v1h-1zM513 511h1v1h-1zM514 511h1v1h-1zM515 511h1v1h-1zM516 511h1v1h-1zM517 511h1v1h-1zM518 510h1v1h-1zM519 510h1v1h-1zM520 510h1v1h-1zM521 510h1v1h-1zM522 510h1v1h-1zM523 510h1v1h-1zM524 510h1v1h-1zM525 510h1v1h-1zM526 510h1v1h-1zM527 510h1v1h-1zM528 511h1v1h-1zM529 511h1v1h-1zM530 511h1v1h-1zM531 511h1v1h-1zM532 511h1v1h-1zM533 511h1v1h-1zM534 512h1v1h-1zM535 512h1v1h-1zM536 512h1v1h-1zM537 512h1v1h-1zM538 512h1v1h-1zM539 512h1v1h-1zM540 511h1v1h-1zM541 511h1v1h-1zM542 511h1v1h-1zM543 511h1v1h-1zM544 511h1v1h-1zM545 511h1v1h-1zM546 511h1v1h-1zM547 511h1v1h-1zM548 511h1v1h-1zM549 510h1v1h-1zM550 510h1v1h-1zM551 510h1v1h-1zM552 509h1v1h-1zM553 509h1v1h-1zM554 509h1v1h-1zM555 509h1v1h-1zM556 509h1v1h-1zM557 509h1v1h-1zM558 509h1v1h-1zM559 509h1v1h-1zM560 509h1v1h-1zM561 509h1v1h-1zM562 508h1v1h-1zM563 508h1v1h-1zM564 508h1v1h-1zM565 508h1v1h-1zM566 508h1v1h-1zM567 508h1v1h-1zM568 507h1v1h-1zM569 507h1v1h-1zM570 507h1v1h-1zM571 507h1v1h-1zM572 506h1v1h-1zM573 506h1v1h-1zM574 506h1v1h-1zM575 506h1v1h-1zM576 505h1v1h-1zM577 505h1v1h-1zM578 505h1v1h-1zM579 505h1v1h-1zM580 504h1v1h-1zM581 504h1v1h-1zM582 504h1v1h-1zM583 504h1v1h-1zM584 503h1v1h-1zM585 503h1v1h-1zM586 503h1v1h-1zM587 503h1v1h-1zM588 502h1v1h-1zM589 502h1v1h-1zM590 502h1v1h-1zM591 502h1v1h-1zM592 501h1v1h-1zM593 501h1v1h-1zM594 501h1v1h-1zM595 501h1v1h-1zM596 501h1v1h-1zM597 500h1v1h-1zM598 500h1v1h-1zM599 500h1v1h-1zM600 500h1v1h-1zM601 500h1v1h-1zM602 500h1v1h-1zM603 500h1v1h-1zM604 500h1v1h-1zM605 500h1v1h-1zM606 501h1v1h-1zM607 501h1v1h-1zM608 501h1v1h-1zM609 501h1v1h-1zM610 501h1v1h-1zM611 501h1v1h-1zM612 501h1v1h-1zM613 501h1v1h-1zM614 501h1v1h-1zM615 502h1v1h-1zM616 502h1v1h-1zM617 502h1v1h-1zM618 503h1v1h-1zM619 503h1v1h-1zM620 504h1v1h-1zM621 505h1v1h-1zM622 505h1v1h-1zM623 506h1v1h-1zM624 507h1v1h-1zM625 507h1v1h-1zM626 508h1v1h-1zM627 508h1v1h-1zM628 509h1v1h-1zM629 510h1v1h-1zM630 510h1v1h-1zM631 511h1v1h-1zM632 512h1v1h-1zM633 512h1v1h-1zM634 513h1v1h-1zM635 513h1v1h-1zM636 514h1v1h-1zM637 514h1v1h-1zM638 515h1v1h-1zM639 515h1v1h-1zM640 516h1v1h-1zM641 516h1v1h-1zM642 517h1v1h-1zM643 517h1v1h-1zM644 518h1v1h-1zM645 518h1v1h-1zM646 519h1v1h-1zM647 519h1v1h-1zM648 520h1v1h-1zM649 520h1v1h-1zM650 521h1v1h-1zM651 521h1v1h-1zM652 521h1v1h-1zM653 521h1v1h-1zM654 522h1v1h-1zM655 522h1v1h-1zM656 522h1v1h-1zM657 522h1v1h-1zM658 523h1v1h-1zM659 523h1v1h-1zM660 523h1v1h-1zM661 523h1v1h-1zM662 523h1v1h-1zM663 523h1v1h-1zM664 523h1v1h-1zM665 523h1v1h-1zM666 523h1v1h-1zM667 523h1v1h-1zM668 523h1v1h-1zM669 523h1v1h-1zM670 523h1v1h-1zM671 524h1v1h-1zM672 524h1v1h-1zM673 524h1v1h-1zM674 525h1v1h-1zM675 525h1v1h-1zM676 525h1v1h-1zM677 525h1v1h-1zM678 525h1v1h-1zM679 525h1v1h-1zM680 525h1v1h-1zM681 525h1v1h-1zM682 525h1v1h-1zM683 525h1v1h-1zM684 525h1v1h-1zM685 525h1v1h-1zM686 525h1v1h-1zM687 525h1v1h-1zM688 525h1v1h-1zM689 525h1v1h-1zM690 524h1v1h-1zM691 524h1v1h-1zM692 524h1v1h-1zM693 523h1v1h-1zM694 522h1v1h-1zM695 522h1v1h-1zM696 521h1v1h-1zM697 521h1v1h-1zM698 520h1v1h-1zM699 519h1v1h-1zM700 519h1v1h-1zM701 518h1v1h-1zM702 518h1v1h-1zM703 518h1v1h-1zM704 517h1v1h-1zM705 517h1v1h-1zM706 517h1v1h-1zM707 516h1v1h-1zM708 516h1v1h-1zM709 515h1v1h-1zM710 515h1v1h-1zM711 515h1v1h-1zM712 514h1v1h-1zM713 514h1v1h-1zM714 514h1v1h-1zM715 514h1v1h-1zM716 513h1v1h-1zM717 513h1v1h-1zM718 513h1v1h-1zM719 513h1v1h-1zM720 513h1v1h-1zM721 513h1v1h-1zM722 513h1v1h-1zM723 513h1v1h-1zM724 513h1v1h-1zM725 513h1v1h-1zM726 513h1v1h-1zM727 513h1v1h-1zM728 513h1v1h-1zM729 513h1v1h-1zM730 513h1v1h-1zM731 514h1v1h-1zM732 514h1v1h-1zM733 514h1v1h-1zM734 515h1v1h-1zM735 515h1v1h-1zM736 516h1v1h-1zM737 516h1v1h-1zM738 517h1v1h-1zM739 517h1v1h-1zM740 518h1v1h-1zM741 518h1v1h-1zM742 519h1v1h-1zM743 519h1v1h-1zM744 520h1v1h-1zM745 520h1v1h-1zM746 521h1v1h-1zM747 521h1v1h-1zM748 522h1v1h-1zM749 522h1v1h-1zM750 523h1v1h-1zM751 523h1v1h-1zM752 524h1v1h-1zM753 524h1v1h-1zM754 525h1v1h-1zM755 525h1v1h-1zM756 525h1v1h-1zM757 526h1v1h-1zM758 526h1v1h-1zM759 527h1v1h-1zM760 527h1v1h-1zM761 527h1v1h-1zM762 528h1v1h-1zM763 528h1v1h-1zM764 528h1v1h-1zM765 528h1v1h-1zM766 529h1v1h-1zM767 529h1v1h-1zM768 529h1v1h-1zM769 529h1v1h-1zM770 529h1v1h-1zM771 529h1v1h-1zM772 529h1v1h-1zM773 529h1v1h-1zM774 529h1v1h-1zM775 529h1v1h-1zM776 529h1v1h-1zM777 529h1v1h-1zM778 529h1v1h-1zM779 529h1v1h-1zM780 529h1v1h-1zM781 529h1v1h-1zM782 528h1v1h-1zM783 528h1v1h-1zM784 528h1v1h-1zM785 528h1v1h-1zM786 527h1v1h-1zM787 527h1v1h-1zM788 527h1v1h-1zM789 527h1v1h-1zM790 526h1v1h-1zM791 526h1v1h-1zM792 526h1v1h-1zM793 526h1v1h-1zM794 525h1v1h-1zM795 525h1v1h-1zM796 525h1v1h-1zM797 524h1v1h-1zM798 524h1v1h-1zM799 524h1v1h-1zM800 523h1v1h-1zM801 523h1v1h-1zM802 522h1v1h-1zM803 522h1v1h-1zM804 521h1v1h-1zM805 521h1v1h-1zM806 521h1v1h-1zM807 521h1v1h-1zM808 520h1v1h-1zM809 520h1v1h-1zM810 520h1v1h-1zM811 519h1v1h-1zM812 519h1v1h-1zM813 519h1v1h-1zM814 519h1v1h-1zM815 519h1v1h-1zM816 519h1v1h-1zM817 519h1v1h-1zM818 519h1v1h-1zM819 519h1v1h-1zM820 519h1v1h-1zM821 519h1v1h-1zM822 519h1v1h-1zM823 519h1v1h-1zM824 519h1v1h-1zM825 519h1v1h-1zM826 519h1v1h-1zM827 519h1v1h-1zM828 519h1v1h-1zM829 519h1v1h-1zM830 519h1v1h-1zM831 519h1v1h-1zM832 519h1v1h-1zM833 519h1v1h-1zM834 519h1v1h-1zM835 520h1v1h-1zM836 520h1v1h-1zM837 520h1v1h-1zM838 521h1v1h-1zM839 521h1v1h-1zM840 521h1v1h-1zM841 522h1v1h-1zM842 522h1v1h-1zM843 522h1v1h-1zM844 523h1v1h-1zM845 523h1v1h-1zM846 523h1v1h-1zM847 524h1v1h-1zM848 524h1v1h-1zM849 524h1v1h-1zM850 525h1v1h-1zM851 525h1v1h-1zM852 526h1v1h-1zM853 526h1v1h-1zM854 526h1v1h-1zM855 527h1v1h-1zM856 527h1v1h-1zM857 527h1v1h-1zM858 528h1v1h-1zM859 528h1v1h-1zM860 528h1v1h-1zM861 529h1v1h-1zM862 529h1v1h-1zM863 530h1v1h-1zM864 530h1v1h-1zM865 530h1v1h-1zM866 531h1v1h-1zM867 532h1v1h-1zM868 532h1v1h-1zM869 533h1v1h-1zM870 534h1v1h-1zM871 535h1v1h-1zM872 535h1v1h-1zM873 536h1v1h-1zM874 537h1v1h-1zM875 538h1v1h-1zM876 538h1v1h-1zM877 539h1v1h-1zM878 540h1v1h-1zM879 541h1v1h-1zM880 541h1v1h-1zM881 542h1v1h-1zM882 543h1v1h-1zM883 544h1v1h-1zM884 544h1v1h-1zM885 545h1v1h-1zM886 546h1v1h-1zM887 546h1v1h-1zM888 547h1v1h-1zM889 548h1v1h-1zM890 548h1v1h-1zM891 549h1v1h-1zM892 549h1v1h-1zM893 550h1v1h-1zM894 550h1v1h-1zM895 551h1v1h-1zM896 551h1v1h-1zM897 552h1v1h-1zM898 552h1v1h-1zM899 553h1v1h-1zM900 553h1v1h-1zM901 553h1v1h-1zM902 554h1v1h-1zM903 554h1v1h-1zM904 554h1v1h-1zM905 555h1v1h-1zM906 555h1v1h-1zM907 555h1v1h-1zM908 555h1v1h-1zM909 555h1v1h-1zM910 556h1v1h-1zM911 556h1v1h-1zM912 556h1v1h-1zM913 556h1v1h-1zM914 557h1v1h-1zM915 557h1v1h-1zM916 557h1v1h-1zM917 557h1v1h-1zM918 557h1v1h-1zM919 557h1v1h-1zM920 557h1v1h-1zM921 557h1v1h-1zM922 557h1v1h-1zM923 557h1v1h-1z" fill="#ff0000"/>
<text x="1169" y="499.7" font-size="9.6" fill="#000" textLength="32.8" lengthAdjust="spacingAndGlyphs"  stroke="#000" stroke-width="0.2">0.01135</text>
<text x="1169" y="534.5" font-size="9.6" fill="#000" textLength="18" lengthAdjust="spacingAndGlyphs"  stroke="#000" stroke-width="0.2">0.00</text>
<text x="1169" y="569.5" font-size="9.6" fill="#000" textLength="41.5" lengthAdjust="spacingAndGlyphs"  stroke="#000" stroke-width="0.2">-0.011904</text>
<rect x="1166" y="491" width="1" height="1" fill="#000" />
<rect x="1166" y="531" width="1" height="1" fill="#000" />
<rect x="1166" y="572" width="1" height="1" fill="#000" />
<text x="1169" y="585.2" font-size="9.6" fill="#000" textLength="15" lengthAdjust="spacingAndGlyphs"  stroke="#000" stroke-width="0.2">100</text>
<text x="1168.3" y="605.2" font-size="9.6" fill="#000" textLength="10" lengthAdjust="spacingAndGlyphs"  stroke="#000" stroke-width="0.2">70</text>
<text x="1168.3" y="640.2" font-size="9.6" fill="#000" textLength="10" lengthAdjust="spacingAndGlyphs"  stroke="#000" stroke-width="0.2">30</text>
<text x="1169" y="659.2" font-size="9.6" fill="#000" textLength="5" lengthAdjust="spacingAndGlyphs"  stroke="#000" stroke-width="0.2">0</text>
<rect x="1166" y="577" width="1" height="1" fill="#000" />
<rect x="1166" y="662" width="1" height="1" fill="#000" />
<path d="M4 602.5H1165M4 637.5H1165" stroke="#c0c0c0" stroke-width="1" stroke-dasharray="3 3" fill="none"/>
<path d="M3 616h1v1h-1zM4 615h1v1h-1zM5 615h1v1h-1zM6 614h1v1h-1zM7 614h1v1h-1zM8 614h1v1h-1zM9 614h1v1h-1zM10 614h1v1h-1zM11 614h1v1h-1zM12 615h1v1h-1zM13 616h1v1h-1zM14 617h1v1h-1zM15 618h1v1h-1zM16 617h1v1h-1zM17 616h1v1h-1zM18 615h1v1h-1zM19 614h1v1h-1zM20 615h1v1h-1zM21 616h1v1h-1zM22 617h1v2h-1zM23 619h1v1h-1zM24 619h1v1h-1zM25 619h1v1h-1zM26 620h1v1h-1zM27 620h1v1h-1zM28 620h1v1h-1zM29 620h1v1h-1zM30 621h1v1h-1zM31 621h1v1h-1zM32 622h1v1h-1zM33 622h1v1h-1zM34 623h1v1h-1zM35 624h1v1h-1zM36 624h1v1h-1zM37 625h1v1h-1zM38 625h1v1h-1zM39 626h1v1h-1zM40 626h1v1h-1zM41 626h1v1h-1zM42 626h1v1h-1zM43 626h1v1h-1zM44 625h1v1h-1zM45 625h1v1h-1zM46 624h1v1h-1zM47 624h1v1h-1zM48 624h1v1h-1zM49 624h1v1h-1zM50 624h1v1h-1zM51 624h1v1h-1zM52 625h1v1h-1zM53 626h1v2h-1zM54 628h1v1h-1zM55 629h1v1h-1zM56 628h1v1h-1zM57 627h1v1h-1zM58 626h1v1h-1zM59 625h1v1h-1zM60 623h1v2h-1zM61 622h1v1h-1zM62 621h1v1h-1zM63 620h1v1h-1zM64 620h1v1h-1zM65 620h1v1h-1zM66 621h1v1h-1zM67 621h1v1h-1zM68 622h1v2h-1zM69 624h1v2h-1zM70 626h1v3h-1zM71 629h1v2h-1zM72 629h1v1h-1zM73 629h1v1h-1zM74 628h1v1h-1zM75 628h1v1h-1zM76 628h1v1h-1zM77 628h1v1h-1zM78 629h1v1h-1zM79 629h1v1h-1zM80 629h1v1h-1zM81 629h1v1h-1zM82 630h1v1h-1zM83 630h1v1h-1zM84 630h1v1h-1zM85 631h1v1h-1zM86 631h1v1h-1zM87 632h1v1h-1zM88 633h1v1h-1zM89 634h1v1h-1zM90 635h1v1h-1zM91 635h1v2h-1zM92 631h1v4h-1zM93 627h1v4h-1zM94 624h1v3h-1zM95 621h1v3h-1zM96 620h1v1h-1zM97 619h1v1h-1zM98 618h1v1h-1zM99 617h1v1h-1zM100 618h1v1h-1zM101 619h1v1h-1zM102 620h1v1h-1zM103 621h1v1h-1zM104 622h1v1h-1zM105 622h1v1h-1zM106 623h1v1h-1zM107 624h1v1h-1zM108 624h1v1h-1zM109 624h1v1h-1zM110 623h1v1h-1zM111 623h1v1h-1zM112 624h1v1h-1zM113 624h1v1h-1zM114 625h1v1h-1zM115 625h1v1h-1zM116 623h1v2h-1zM117 621h1v2h-1zM118 620h1v1h-1zM119 618h1v2h-1zM120 618h1v1h-1zM121 619h1v1h-1zM122 619h1v1h-1zM123 620h1v1h-1zM124 620h1v1h-1zM125 620h1v1h-1zM126 620h1v1h-1zM127 620h1v1h-1zM128 620h1v1h-1zM129 621h1v1h-1zM130 621h1v1h-1zM131 622h1v1h-1zM132 622h1v1h-1zM133 622h1v1h-1zM134 622h1v1h-1zM135 622h1v1h-1zM136 623h1v1h-1zM137 624h1v2h-1zM138 626h1v1h-1zM139 627h1v1h-1zM140 628h1v1h-1zM141 629h1v1h-1zM142 630h1v1h-1zM143 631h1v2h-1zM144 632h1v1h-1zM145 633h1v1h-1zM146 633h1v1h-1zM147 634h1v1h-1zM148 633h1v1h-1zM149 633h1v1h-1zM150 632h1v1h-1zM151 631h1v1h-1zM152 632h1v1h-1zM153 633h1v1h-1zM154 633h1v1h-1zM155 634h1v1h-1zM156 633h1v1h-1zM157 633h1v1h-1zM158 632h1v1h-1zM159 631h1v1h-1zM160 632h1v1h-1zM161 632h1v1h-1zM162 632h1v1h-1zM163 633h1v1h-1zM164 631h1v2h-1zM165 629h1v2h-1zM166 628h1v1h-1zM167 626h1v2h-1zM168 626h1v1h-1zM169 627h1v1h-1zM170 627h1v1h-1zM171 627h1v1h-1zM172 626h1v1h-1zM173 625h1v1h-1zM174 625h1v1h-1zM175 624h1v1h-1zM176 623h1v1h-1zM177 623h1v1h-1zM178 622h1v1h-1zM179 622h1v1h-1zM180 622h1v1h-1zM181 621h1v1h-1zM182 621h1v1h-1zM183 621h1v1h-1zM184 620h1v1h-1zM185 619h1v1h-1zM186 617h1v2h-1zM187 616h1v1h-1zM188 617h1v1h-1zM189 618h1v1h-1zM190 618h1v1h-1zM191 619h1v1h-1zM192 619h1v1h-1zM193 618h1v1h-1zM194 618h1v1h-1zM195 618h1v1h-1zM196 618h1v1h-1zM197 618h1v1h-1zM198 618h1v1h-1zM199 618h1v1h-1zM200 617h1v1h-1zM201 616h1v1h-1zM202 616h1v1h-1zM203 615h1v1h-1zM204 616h1v1h-1zM205 617h1v1h-1zM206 618h1v2h-1zM207 620h1v1h-1zM208 620h1v1h-1zM209 620h1v1h-1zM210 621h1v1h-1zM211 621h1v1h-1zM212 621h1v1h-1zM213 622h1v1h-1zM214 622h1v1h-1zM215 623h1v1h-1zM216 622h1v1h-1zM217 621h1v1h-1zM218 621h1v1h-1zM219 620h1v1h-1zM220 621h1v1h-1zM221 622h1v2h-1zM222 624h1v1h-1zM223 625h1v1h-1zM224 624h1v1h-1zM225 624h1v1h-1zM226 623h1v1h-1zM227 622h1v1h-1zM228 621h1v1h-1zM229 619h1v2h-1zM230 617h1v2h-1zM231 616h1v1h-1zM232 617h1v1h-1zM233 617h1v1h-1zM234 618h1v1h-1zM235 619h1v1h-1zM236 620h1v1h-1zM237 620h1v1h-1zM238 621h1v1h-1zM239 622h1v1h-1zM240 622h1v1h-1zM241 622h1v1h-1zM242 623h1v1h-1zM243 623h1v1h-1zM244 622h1v1h-1zM245 621h1v1h-1zM246 621h1v1h-1zM247 620h1v1h-1zM248 620h1v1h-1zM249 621h1v1h-1zM250 621h1v1h-1zM251 622h1v1h-1zM252 622h1v1h-1zM253 623h1v1h-1zM254 623h1v1h-1zM255 624h1v1h-1zM256 623h1v1h-1zM257 623h1v1h-1zM258 622h1v1h-1zM259 622h1v1h-1zM260 623h1v1h-1zM261 623h1v1h-1zM262 624h1v1h-1zM263 625h1v1h-1zM264 625h1v1h-1zM265 625h1v1h-1zM266 625h1v1h-1zM267 625h1v1h-1zM268 624h1v1h-1zM269 623h1v1h-1zM270 622h1v1h-1zM271 621h1v1h-1zM272 620h1v1h-1zM273 619h1v1h-1zM274 618h1v1h-1zM275 617h1v1h-1zM276 618h1v2h-1zM277 620h1v2h-1zM278 622h1v2h-1zM279 624h1v2h-1zM280 625h1v1h-1zM281 625h1v1h-1zM282 625h1v1h-1zM283 625h1v1h-1zM284 625h1v1h-1zM285 624h1v1h-1zM286 624h1v1h-1zM287 624h1v1h-1zM288 624h1v1h-1zM289 625h1v1h-1zM290 626h1v1h-1zM291 626h1v1h-1zM292 627h1v2h-1zM293 629h1v1h-1zM294 630h1v1h-1zM295 631h1v2h-1zM296 632h1v1h-1zM297 632h1v1h-1zM298 632h1v1h-1zM299 632h1v1h-1zM300 633h1v1h-1zM301 633h1v1h-1zM302 634h1v1h-1zM303 635h1v1h-1zM304 635h1v1h-1zM305 636h1v1h-1zM306 637h1v1h-1zM307 638h1v1h-1zM308 638h1v1h-1zM309 638h1v1h-1zM310 639h1v1h-1zM311 639h1v1h-1zM312 639h1v1h-1zM313 639h1v1h-1zM314 639h1v1h-1zM315 639h1v1h-1zM316 639h1v1h-1zM317 639h1v1h-1zM318 639h1v1h-1zM319 639h1v1h-1zM320 637h1v2h-1zM321 636h1v1h-1zM322 635h1v1h-1zM323 633h1v2h-1zM324 634h1v1h-1zM325 635h1v1h-1zM326 636h1v1h-1zM327 637h1v1h-1zM328 638h1v1h-1zM329 638h1v1h-1zM330 639h1v1h-1zM331 640h1v1h-1zM332 641h1v1h-1zM333 641h1v1h-1zM334 642h1v1h-1zM335 643h1v1h-1zM336 643h1v1h-1zM337 643h1v1h-1zM338 643h1v1h-1zM339 643h1v1h-1zM340 644h1v1h-1zM341 644h1v1h-1zM342 645h1v1h-1zM343 645h1v1h-1zM344 645h1v1h-1zM345 645h1v1h-1zM346 644h1v1h-1zM347 644h1v1h-1zM348 643h1v1h-1zM349 643h1v1h-1zM350 642h1v1h-1zM351 642h1v1h-1zM352 640h1v2h-1zM353 639h1v1h-1zM354 637h1v2h-1zM355 636h1v1h-1zM356 636h1v1h-1zM357 637h1v1h-1zM358 637h1v1h-1zM359 638h1v1h-1zM360 638h1v1h-1zM361 638h1v1h-1zM362 638h1v1h-1zM363 638h1v1h-1zM364 638h1v1h-1zM365 639h1v1h-1zM366 639h1v1h-1zM367 640h1v1h-1zM368 640h1v1h-1zM369 640h1v1h-1zM370 641h1v1h-1zM371 641h1v1h-1zM372 640h1v1h-1zM373 638h1v2h-1zM374 637h1v1h-1zM375 636h1v1h-1zM376 637h1v1h-1zM377 637h1v1h-1zM378 638h1v1h-1zM379 639h1v1h-1zM380 638h1v1h-1zM381 637h1v1h-1zM382 636h1v1h-1zM383 635h1v1h-1zM384 635h1v1h-1zM385 635h1v1h-1zM386 636h1v1h-1zM387 636h1v1h-1zM388 635h1v1h-1zM389 634h1v1h-1zM390 634h1v1h-1zM391 633h1v1h-1zM392 633h1v1h-1zM393 634h1v1h-1zM394 634h1v1h-1zM395 634h1v1h-1zM396 632h1v2h-1zM397 631h1v1h-1zM398 629h1v2h-1zM399 628h1v1h-1zM400 629h1v1h-1zM401 629h1v1h-1zM402 630h1v1h-1zM403 631h1v1h-1zM404 630h1v1h-1zM405 630h1v1h-1zM406 629h1v1h-1zM407 629h1v1h-1zM408 629h1v1h-1zM409 630h1v1h-1zM410 630h1v1h-1zM411 630h1v1h-1zM412 630h1v1h-1zM413 631h1v1h-1zM414 631h1v1h-1zM415 631h1v1h-1zM416 632h1v1h-1zM417 633h1v1h-1zM418 633h1v1h-1zM419 634h1v1h-1zM420 633h1v1h-1zM421 633h1v1h-1zM422 632h1v1h-1zM423 631h1v2h-1zM424 629h1v2h-1zM425 626h1v3h-1zM426 624h1v2h-1zM427 622h1v2h-1zM428 623h1v1h-1zM429 624h1v1h-1zM430 624h1v1h-1zM431 625h1v1h-1zM432 625h1v1h-1zM433 626h1v1h-1zM434 626h1v1h-1zM435 626h1v1h-1zM436 626h1v1h-1zM437 627h1v1h-1zM438 627h1v1h-1zM439 627h1v1h-1zM440 626h1v1h-1zM441 625h1v1h-1zM442 623h1v2h-1zM443 622h1v1h-1zM444 622h1v1h-1zM445 622h1v1h-1zM446 622h1v1h-1zM447 622h1v1h-1zM448 622h1v1h-1zM449 622h1v1h-1zM450 623h1v1h-1zM451 623h1v1h-1zM452 621h1v2h-1zM453 619h1v2h-1zM454 617h1v2h-1zM455 615h1v2h-1zM456 615h1v1h-1zM457 615h1v1h-1zM458 614h1v1h-1zM459 614h1v1h-1zM460 615h1v1h-1zM461 616h1v2h-1zM462 618h1v1h-1zM463 619h1v1h-1zM464 617h1v2h-1zM465 615h1v2h-1zM466 613h1v2h-1zM467 611h1v2h-1zM468 612h1v1h-1zM469 613h1v1h-1zM470 614h1v2h-1zM471 615h1v2h-1zM472 612h1v3h-1zM473 609h1v3h-1zM474 606h1v3h-1zM475 603h1v3h-1zM476 602h1v1h-1zM477 601h1v1h-1zM478 600h1v1h-1zM479 599h1v1h-1zM480 599h1v1h-1zM481 600h1v1h-1zM482 600h1v1h-1zM483 600h1v1h-1zM484 601h1v2h-1zM485 603h1v1h-1zM486 604h1v2h-1zM487 606h1v1h-1zM488 606h1v1h-1zM489 606h1v1h-1zM490 607h1v1h-1zM491 607h1v1h-1zM492 608h1v2h-1zM493 610h1v1h-1zM494 611h1v2h-1zM495 613h1v2h-1zM496 613h1v1h-1zM497 612h1v1h-1zM498 612h1v1h-1zM499 611h1v1h-1zM500 612h1v1h-1zM501 613h1v1h-1zM502 614h1v1h-1zM503 615h1v1h-1zM504 615h1v1h-1zM505 615h1v1h-1zM506 614h1v1h-1zM507 614h1v1h-1zM508 614h1v1h-1zM509 614h1v1h-1zM510 613h1v1h-1zM511 613h1v1h-1zM512 612h1v1h-1zM513 611h1v1h-1zM514 610h1v1h-1zM515 609h1v1h-1zM516 609h1v1h-1zM517 608h1v1h-1zM518 608h1v1h-1zM519 608h1v1h-1zM520 608h1v1h-1zM521 608h1v1h-1zM522 608h1v1h-1zM523 608h1v1h-1zM524 609h1v1h-1zM525 610h1v2h-1zM526 612h1v1h-1zM527 613h1v2h-1zM528 614h1v1h-1zM529 615h1v1h-1zM530 615h1v1h-1zM531 616h1v1h-1zM532 616h1v1h-1zM533 615h1v1h-1zM534 615h1v1h-1zM535 615h1v1h-1zM536 613h1v2h-1zM537 611h1v2h-1zM538 609h1v2h-1zM539 607h1v2h-1zM540 606h1v1h-1zM541 606h1v1h-1zM542 605h1v1h-1zM543 605h1v1h-1zM544 604h1v1h-1zM545 604h1v1h-1zM546 603h1v1h-1zM547 603h1v1h-1zM548 604h1v1h-1zM549 605h1v2h-1zM550 607h1v1h-1zM551 608h1v2h-1zM552 609h1v1h-1zM553 610h1v1h-1zM554 610h1v1h-1zM555 611h1v1h-1zM556 611h1v1h-1zM557 611h1v1h-1zM558 611h1v1h-1zM559 611h1v1h-1zM560 610h1v1h-1zM561 609h1v1h-1zM562 609h1v1h-1zM563 608h1v1h-1zM564 608h1v1h-1zM565 607h1v1h-1zM566 607h1v1h-1zM567 607h1v1h-1zM568 606h1v1h-1zM569 606h1v1h-1zM570 605h1v1h-1zM571 605h1v1h-1zM572 604h1v1h-1zM573 604h1v1h-1zM574 603h1v1h-1zM575 603h1v1h-1zM576 602h1v1h-1zM577 602h1v1h-1zM578 602h1v1h-1zM579 602h1v1h-1zM580 600h1v2h-1zM581 599h1v1h-1zM582 597h1v2h-1zM583 596h1v1h-1zM584 597h1v1h-1zM585 597h1v1h-1zM586 598h1v1h-1zM587 599h1v2h-1zM588 601h1v4h-1zM589 605h1v4h-1zM590 609h1v4h-1zM591 613h1v3h-1zM592 614h1v1h-1zM593 614h1v1h-1zM594 613h1v1h-1zM595 613h1v1h-1zM596 613h1v1h-1zM597 613h1v1h-1zM598 613h1v1h-1zM599 613h1v1h-1zM600 613h1v1h-1zM601 613h1v1h-1zM602 613h1v1h-1zM603 613h1v1h-1zM604 614h1v1h-1zM605 614h1v1h-1zM606 615h1v1h-1zM607 616h1v1h-1zM608 615h1v1h-1zM609 615h1v1h-1zM610 614h1v1h-1zM611 614h1v1h-1zM612 614h1v1h-1zM613 614h1v1h-1zM614 615h1v1h-1zM615 615h1v1h-1zM616 616h1v2h-1zM617 618h1v3h-1zM618 621h1v2h-1zM619 623h1v2h-1zM620 623h1v1h-1zM621 623h1v1h-1zM622 622h1v1h-1zM623 622h1v1h-1zM624 622h1v1h-1zM625 621h1v1h-1zM626 621h1v1h-1zM627 621h1v1h-1zM628 620h1v1h-1zM629 620h1v1h-1zM630 619h1v1h-1zM631 619h1v1h-1zM632 618h1v1h-1zM633 617h1v1h-1zM634 617h1v1h-1zM635 616h1v1h-1zM636 616h1v1h-1zM637 616h1v1h-1zM638 616h1v1h-1zM639 616h1v1h-1zM640 617h1v1h-1zM641 618h1v2h-1zM642 620h1v1h-1zM643 621h1v1h-1zM644 619h1v2h-1zM645 618h1v1h-1zM646 616h1v2h-1zM647 615h1v1h-1zM648 615h1v1h-1zM649 615h1v1h-1zM650 616h1v1h-1zM651 616h1v1h-1zM652 616h1v1h-1zM653 615h1v1h-1zM654 615h1v1h-1zM655 615h1v1h-1zM656 616h1v1h-1zM657 616h1v1h-1zM658 617h1v1h-1zM659 618h1v1h-1zM660 618h1v1h-1zM661 619h1v1h-1zM662 619h1v1h-1zM663 620h1v1h-1zM664 620h1v1h-1zM665 619h1v1h-1zM666 619h1v1h-1zM667 619h1v1h-1zM668 619h1v1h-1zM669 620h1v1h-1zM670 620h1v1h-1zM671 620h1v1h-1zM672 620h1v1h-1zM673 620h1v1h-1zM674 619h1v1h-1zM675 619h1v1h-1zM676 618h1v1h-1zM677 617h1v1h-1zM678 616h1v1h-1zM679 615h1v1h-1zM680 614h1v1h-1zM681 613h1v1h-1zM682 611h1v2h-1zM683 610h1v1h-1zM684 610h1v1h-1zM685 609h1v1h-1zM686 609h1v1h-1zM687 609h1v1h-1zM688 607h1v2h-1zM689 605h1v2h-1zM690 603h1v2h-1zM691 601h1v2h-1zM692 600h1v1h-1zM693 599h1v1h-1zM694 599h1v1h-1zM695 598h1v1h-1zM696 598h1v1h-1zM697 599h1v1h-1zM698 599h1v1h-1zM699 599h1v2h-1zM700 601h1v4h-1zM701 605h1v4h-1zM702 609h1v3h-1zM703 612h1v3h-1zM704 615h1v1h-1zM705 616h1v2h-1zM706 618h1v1h-1zM707 619h1v1h-1zM708 619h1v1h-1zM709 618h1v1h-1zM710 618h1v1h-1zM711 618h1v1h-1zM712 617h1v1h-1zM713 617h1v1h-1zM714 616h1v1h-1zM715 616h1v1h-1zM716 617h1v1h-1zM717 617h1v1h-1zM718 618h1v1h-1zM719 619h1v1h-1zM720 619h1v1h-1zM721 619h1v1h-1zM722 619h1v1h-1zM723 619h1v1h-1zM724 619h1v1h-1zM725 619h1v1h-1zM726 620h1v1h-1zM727 620h1v1h-1zM728 619h1v1h-1zM729 619h1v1h-1zM730 618h1v1h-1zM731 618h1v1h-1zM732 618h1v1h-1zM733 618h1v1h-1zM734 619h1v1h-1zM735 619h1v1h-1zM736 620h1v1h-1zM737 621h1v1h-1zM738 622h1v1h-1zM739 623h1v1h-1zM740 624h1v1h-1zM741 625h1v1h-1zM742 625h1v1h-1zM743 626h1v1h-1zM744 626h1v1h-1zM745 627h1v1h-1zM746 627h1v1h-1zM747 627h1v1h-1zM748 626h1v1h-1zM749 626h1v1h-1zM750 625h1v1h-1zM751 625h1v1h-1zM752 623h1v2h-1zM753 621h1v2h-1zM754 619h1v2h-1zM755 617h1v2h-1zM756 616h1v1h-1zM757 615h1v1h-1zM758 614h1v1h-1zM759 613h1v1h-1zM760 613h1v1h-1zM761 614h1v1h-1zM762 614h1v1h-1zM763 615h1v1h-1zM764 615h1v1h-1zM765 616h1v1h-1zM766 616h1v1h-1zM767 617h1v1h-1zM768 616h1v1h-1zM769 616h1v1h-1zM770 615h1v1h-1zM771 615h1v1h-1zM772 615h1v1h-1zM773 616h1v1h-1zM774 616h1v1h-1zM775 617h1v1h-1zM776 616h1v1h-1zM777 616h1v1h-1zM778 615h1v1h-1zM779 615h1v1h-1zM780 615h1v1h-1zM781 615h1v1h-1zM782 616h1v1h-1zM783 616h1v1h-1zM784 615h1v1h-1zM785 615h1v1h-1zM786 614h1v1h-1zM787 614h1v1h-1zM788 613h1v1h-1zM789 611h1v2h-1zM790 610h1v1h-1zM791 609h1v1h-1zM792 609h1v1h-1zM793 608h1v1h-1zM794 608h1v1h-1zM795 608h1v1h-1zM796 607h1v1h-1zM797 606h1v1h-1zM798 605h1v1h-1zM799 604h1v1h-1zM800 604h1v1h-1zM801 605h1v1h-1zM802 606h1v1h-1zM803 607h1v1h-1zM804 608h1v1h-1zM805 609h1v2h-1zM806 611h1v1h-1zM807 612h1v2h-1zM808 614h1v2h-1zM809 616h1v1h-1zM810 617h1v2h-1zM811 619h1v2h-1zM812 620h1v1h-1zM813 620h1v1h-1zM814 619h1v1h-1zM815 619h1v1h-1zM816 619h1v1h-1zM817 620h1v1h-1zM818 620h1v1h-1zM819 620h1v1h-1zM820 620h1v1h-1zM821 621h1v1h-1zM822 621h1v1h-1zM823 622h1v1h-1zM824 621h1v1h-1zM825 619h1v2h-1zM826 618h1v1h-1zM827 617h1v1h-1zM828 616h1v1h-1zM829 615h1v1h-1zM830 614h1v1h-1zM831 613h1v1h-1zM832 614h1v1h-1zM833 615h1v2h-1zM834 617h1v1h-1zM835 618h1v2h-1zM836 619h1v1h-1zM837 620h1v1h-1zM838 620h1v1h-1zM839 621h1v1h-1zM840 621h1v1h-1zM841 622h1v1h-1zM842 622h1v1h-1zM843 622h1v1h-1zM844 623h1v1h-1zM845 624h1v2h-1zM846 626h1v1h-1zM847 627h1v1h-1zM848 627h1v1h-1zM849 627h1v1h-1zM850 628h1v1h-1zM851 628h1v1h-1zM852 627h1v1h-1zM853 625h1v2h-1zM854 624h1v1h-1zM855 623h1v1h-1zM856 624h1v1h-1zM857 625h1v1h-1zM858 626h1v2h-1zM859 628h1v1h-1zM860 629h1v1h-1zM861 630h1v1h-1zM862 631h1v1h-1zM863 632h1v1h-1zM864 632h1v1h-1zM865 632h1v1h-1zM866 633h1v1h-1zM867 633h1v1h-1zM868 633h1v1h-1zM869 633h1v1h-1zM870 633h1v1h-1zM871 633h1v1h-1zM872 633h1v1h-1zM873 634h1v1h-1zM874 634h1v1h-1zM875 634h1v1h-1zM876 634h1v1h-1zM877 634h1v1h-1zM878 633h1v1h-1zM879 633h1v1h-1zM880 634h1v1h-1zM881 635h1v2h-1zM882 637h1v1h-1zM883 638h1v1h-1zM884 637h1v1h-1zM885 637h1v1h-1zM886 636h1v1h-1zM887 635h1v1h-1zM888 635h1v1h-1zM889 635h1v1h-1zM890 635h1v1h-1zM891 635h1v1h-1zM892 635h1v1h-1zM893 635h1v1h-1zM894 636h1v1h-1zM895 636h1v1h-1zM896 636h1v1h-1zM897 636h1v1h-1zM898 636h1v1h-1zM899 637h1v1h-1zM900 637h1v1h-1zM901 637h1v1h-1zM902 638h1v1h-1zM903 638h1v1h-1zM904 637h1v1h-1zM905 637h1v1h-1zM906 636h1v1h-1zM907 636h1v1h-1zM908 634h1v2h-1zM909 633h1v1h-1zM910 631h1v2h-1zM911 630h1v1h-1zM912 630h1v1h-1zM913 631h1v1h-1zM914 631h1v1h-1zM915 632h1v1h-1zM916 632h1v1h-1zM917 631h1v1h-1zM918 631h1v1h-1zM919 631h1v1h-1zM920 631h1v1h-1zM921 630h1v1h-1zM922 630h1v1h-1zM923 630h1v1h-1z" fill="#1e90ff"/>
<text x="18" y="39" font-size="9.6" fill="#000" textLength="66" lengthAdjust="spacingAndGlyphs"  stroke="#000" stroke-width="0.2">USDCAD,Daily</text>
<text x="90.5" y="39" font-size="9.6" fill="#000" textLength="140.5" lengthAdjust="spacingAndGlyphs"  stroke="#000" stroke-width="0.2">1.23732 1.23990 1.23727 1.23806</text>
<path d="M9 34h1v1h1v1h1v1h1v1h-7v-1h1v-1h1v-1h1z" fill="#000"/>
<text x="7.8" y="501.8" font-size="9.6" fill="#000" textLength="64.7" lengthAdjust="spacingAndGlyphs"  stroke="#000" stroke-width="0.2">MACD(12,26,9)</text>
<text x="76.2" y="501.8" font-size="9.6" fill="#000" textLength="40.5" lengthAdjust="spacingAndGlyphs"  stroke="#000" stroke-width="0.2">-0.006669</text>
<text x="120.4" y="501.8" font-size="9.6" fill="#000" textLength="40.2" lengthAdjust="spacingAndGlyphs"  stroke="#000" stroke-width="0.2">-0.007488</text>
<text x="7.5" y="587.8" font-size="9.6" fill="#000" textLength="67.5" lengthAdjust="spacingAndGlyphs"  stroke="#000" stroke-width="0.2">RSI(14) 38.3689</text>
<rect x="3" y="664" width="1" height="3" fill="#000" />
<text x="2.5" y="676" font-size="9.6" fill="#000" textLength="49" lengthAdjust="spacingAndGlyphs"  stroke="#000" stroke-width="0.2">30 Jan 2021</text>
<rect x="67" y="664" width="1" height="3" fill="#000" />
<text x="66.5" y="676" font-size="9.6" fill="#000" textLength="51.5" lengthAdjust="spacingAndGlyphs"  stroke="#000" stroke-width="0.2">18 Feb 2021</text>
<rect x="131" y="664" width="1" height="3" fill="#000" />
<text x="130.5" y="676" font-size="9.6" fill="#000" textLength="46" lengthAdjust="spacingAndGlyphs"  stroke="#000" stroke-width="0.2">9 Mar 2021</text>
<rect x="195" y="664" width="1" height="3" fill="#000" />
<text x="194.5" y="676" font-size="9.6" fill="#000" textLength="51.5" lengthAdjust="spacingAndGlyphs"  stroke="#000" stroke-width="0.2">27 Mar 2021</text>
<rect x="259" y="664" width="1" height="3" fill="#000" />
<text x="258.5" y="676" font-size="9.6" fill="#000" textLength="50.5" lengthAdjust="spacingAndGlyphs"  stroke="#000" stroke-width="0.2">15 Apr 2021</text>
<rect x="323" y="664" width="1" height="3" fill="#000" />
<text x="322.5" y="676" font-size="9.6" fill="#000" textLength="49.5" lengthAdjust="spacingAndGlyphs"  stroke="#000" stroke-width="0.2">4 May 2021</text>
<rect x="387" y="664" width="1" height="3" fill="#000" />
<text x="386.5" y="676" font-size="9.6" fill="#000" textLength="53" lengthAdjust="spacingAndGlyphs"  stroke="#000" stroke-width="0.2">22 May 2021</text>
<rect x="451" y="664" width="1" height="3" fill="#000" />
<text x="450.5" y="676" font-size="9.6" fill="#000" textLength="49" lengthAdjust="spacingAndGlyphs"  stroke="#000" stroke-width="0.2">10 Jun 2021</text>
<rect x="515" y="664" width="1" height="3" fill="#000" />
<text x="514.5" y="676" font-size="9.6" fill="#000" textLength="49" lengthAdjust="spacingAndGlyphs"  stroke="#000" stroke-width="0.2">29 Jun 2021</text>
<rect x="579" y="664" width="1" height="3" fill="#000" />
<text x="578.5" y="676" font-size="9.6" fill="#000" textLength="46" lengthAdjust="spacingAndGlyphs"  stroke="#000" stroke-width="0.2">17 Jul 2021</text>
<rect x="643" y="664" width="1" height="3" fill="#000" />
<text x="642.5" y="676" font-size="9.6" fill="#000" textLength="47" lengthAdjust="spacingAndGlyphs"  stroke="#000" stroke-width="0.2">5 Aug 2021</text>
<rect x="707" y="664" width="1" height="3" fill="#000" />
<text x="706.5" y="676" font-size="9.6" fill="#000" textLength="52" lengthAdjust="spacingAndGlyphs"  stroke="#000" stroke-width="0.2">24 Aug 2021</text>
<rect x="771" y="664" width="1" height="3" fill="#000" />
<text x="770.5" y="676" font-size="9.6" fill="#000" textLength="50.5" lengthAdjust="spacingAndGlyphs"  stroke="#000" stroke-width="0.2">11 Sep 2021</text>
<rect x="835" y="664" width="1" height="3" fill="#000" />
<text x="834.5" y="676" font-size="9.6" fill="#000" textLength="51" lengthAdjust="spacingAndGlyphs"  stroke="#000" stroke-width="0.2">30 Sep 2021</text>
<rect x="899" y="664" width="1" height="3" fill="#000" />
<text x="898.5" y="676" font-size="9.6" fill="#000" textLength="50" lengthAdjust="spacingAndGlyphs"  stroke="#000" stroke-width="0.2">19 Oct 2021</text>
<rect x="0" y="684" width="1208" height="1" fill="#e6e6e6" />
<rect x="0" y="686" width="1208" height="1" fill="#000" />
<rect x="0" y="687" width="1208" height="19" fill="#f0f0f0" />
<rect x="0" y="706" width="1208" height="1" fill="#ffffff" />
<rect x="0" y="707" width="1208" height="3" fill="#f0f0f0" />
<rect x="0" y="710" width="1208" height="1" fill="#a0a0a0" />
<rect x="0" y="711" width="1208" height="1" fill="#e8e8e8" />
<rect x="300" y="685" width="104" height="20" fill="#ffffff" />
<rect x="300" y="704" width="104" height="1" fill="#000" />
<rect x="300" y="686" width="1" height="19" fill="#000" />
<rect x="403" y="686" width="1" height="19" fill="#000" />
<text x="16.2" y="701" font-size="13" fill="#808080" textLength="79.8" lengthAdjust="spacingAndGlyphs"  stroke="#808080" stroke-width="0.1">EURUSD,Daily</text>
<text x="119.2" y="701" font-size="13" fill="#808080" textLength="81.6" lengthAdjust="spacingAndGlyphs"  stroke="#808080" stroke-width="0.1">AUDUSD,Daily</text>
<text x="222.4" y="701" font-size="13" fill="#808080" textLength="66.7" lengthAdjust="spacingAndGlyphs"  stroke="#808080" stroke-width="0.1">USDCHF,H4</text>
<text x="311.3" y="701" font-size="13" fill="#000" textLength="80.8" lengthAdjust="spacingAndGlyphs"  stroke="#000" stroke-width="0.2">USDCAD,Daily</text>
<text x="414.6" y="701" font-size="13" fill="#808080" textLength="82.3" lengthAdjust="spacingAndGlyphs"  stroke="#808080" stroke-width="0.1">USDCNH,Daily</text>
<text x="520.4" y="701" font-size="13" fill="#808080" textLength="51.5" lengthAdjust="spacingAndGlyphs"  stroke="#808080" stroke-width="0.1">UKOil,H4</text>
<text x="594.5" y="701" font-size="13" fill="#808080" textLength="46.1" lengthAdjust="spacingAndGlyphs"  stroke="#808080" stroke-width="0.1">DJ30,H1</text>
<text x="664.6" y="701" font-size="13" fill="#808080" textLength="50.8" lengthAdjust="spacingAndGlyphs"  stroke="#808080" stroke-width="0.1">USDX,H1</text>
<text x="739.1" y="701" font-size="13" fill="#808080" textLength="68.4" lengthAdjust="spacingAndGlyphs"  stroke="#808080" stroke-width="0.1">XAUUSD,H4</text>
<text x="832.3" y="701" font-size="13" fill="#808080" textLength="67.0" lengthAdjust="spacingAndGlyphs"  stroke="#808080" stroke-width="0.1">GBPUSD,H1</text>
<text x="923.3" y="701" font-size="13" fill="#808080" textLength="77.2" lengthAdjust="spacingAndGlyphs"  stroke="#808080" stroke-width="0.1">USDX,Weekly</text>
<rect x="108" y="689" width="1" height="14" fill="#606060" />
<rect x="212" y="689" width="1" height="14" fill="#606060" />
<rect x="508" y="689" width="1" height="14" fill="#606060" />
<rect x="584" y="689" width="1" height="14" fill="#606060" />
<rect x="652" y="689" width="1" height="14" fill="#606060" />
<rect x="728" y="689" width="1" height="14" fill="#606060" />
<rect x="820" y="689" width="1" height="14" fill="#606060" />
<rect x="912" y="689" width="1" height="14" fill="#606060" />
<rect x="1012" y="689" width="1" height="14" fill="#606060" />
<path d="M1181 695h1v-1h1v-1h1v-1h1v7h-1v-1h-1v-1h-1v-1h-1zM1204 695h-1v-1h-1v-1h-1v-1h-1v7h1v-1h1v-1h1v-1h1z" fill="#a0a0a0"/>
<defs>
<linearGradient id="gs" x1="0" y1="0" x2="0" y2="1"><stop offset="0" stop-color="#ff5252"/><stop offset="1" stop-color="#b00000"/></linearGradient>
<linearGradient id="gb" x1="0" y1="0" x2="0" y2="1"><stop offset="0" stop-color="#f4f4f4"/><stop offset="0.45" stop-color="#e4e4e4"/><stop offset="0.5" stop-color="#d2d2d2"/><stop offset="1" stop-color="#dcdcdc"/></linearGradient>
</defs>
<rect x="4" y="45" width="223" height="61" fill="#ffffff" />
<path d="M6 47H58V71H115V104H6Z" fill="url(#gs)"/>
<path d="M225 47H173V71H117V104H225Z" fill="url(#gs)"/>
<path d="M6.5 47.5H57.5V71.5H114.5V103.5H6.5Z" fill="none" stroke="#b80000" stroke-width="1" stroke-opacity="0.6"/>
<path d="M224.5 47.5H173.5V71.5H117.5V103.5H224.5Z" fill="none" stroke="#b80000" stroke-width="1" stroke-opacity="0.6"/>
<rect x="10" y="70" width="44" height="1" fill="#900000" />
<rect x="10" y="71" width="44" height="1" fill="#ff9a9a" />
<rect x="177" y="70" width="44" height="1" fill="#900000" />
<rect x="177" y="71" width="44" height="1" fill="#ff9a9a" />
<text x="31.2" y="63" font-size="12.5" fill="#ffe8e8" text-anchor="middle" textLength="26" lengthAdjust="spacingAndGlyphs"  stroke="#ffe8e8" stroke-width="0.15">SELL</text>
<text x="198.2" y="63" font-size="12.5" fill="#ffe8e8" text-anchor="middle" textLength="24" lengthAdjust="spacingAndGlyphs"  stroke="#ffe8e8" stroke-width="0.15">BUY</text>
<rect x="60.5" y="47.5" width="110" height="21" fill="#ffffff" stroke="#a6a6b4" stroke-width="1"/>
<rect x="62" y="49" width="18" height="18" fill="url(#gb)" />
<rect x="151" y="49" width="18" height="18" fill="url(#gb)" />
<rect x="81" y="48" width="1" height="20" fill="#a6a6b4" />
<rect x="149" y="48" width="1" height="20" fill="#a6a6b4" />
<path d="M68 56h5l-2.5 3z" fill="#5a6fc8"/><path d="M157 59h5l-2.5 -3z" fill="#5a6fc8"/>
<text x="146" y="61.7" font-size="12" fill="#101010" text-anchor="end" textLength="23.5" lengthAdjust="spacingAndGlyphs"  stroke="#101010" stroke-width="0.2">3.00</text>
<text x="26" y="99" font-size="12.3" fill="#fff" font-weight="bold" textLength="23.3" lengthAdjust="spacingAndGlyphs" >1.23</text>
<text x="52.8" y="99" font-size="31.5" fill="#fff" textLength="36.5" lengthAdjust="spacingAndGlyphs" font-family="'DejaVu Sans Light','Liberation Sans',sans-serif"  stroke="#fff" stroke-width="0.9">80</text>
<text x="93" y="83" font-size="11" fill="#fff" font-weight="bold" textLength="7" lengthAdjust="spacingAndGlyphs" >9</text>
<text x="136" y="99" font-size="12.3" fill="#fff" font-weight="bold" textLength="23.3" lengthAdjust="spacingAndGlyphs" >1.23</text>
<text x="163.6" y="99" font-size="31.5" fill="#fff" textLength="36.5" lengthAdjust="spacingAndGlyphs" font-family="'DejaVu Sans Light','Liberation Sans',sans-serif"  stroke="#fff" stroke-width="0.9">83</text>
<text x="204" y="83" font-size="11" fill="#fff" font-weight="bold" textLength="7" lengthAdjust="spacingAndGlyphs" >0</text>
</svg>
</body></html>
